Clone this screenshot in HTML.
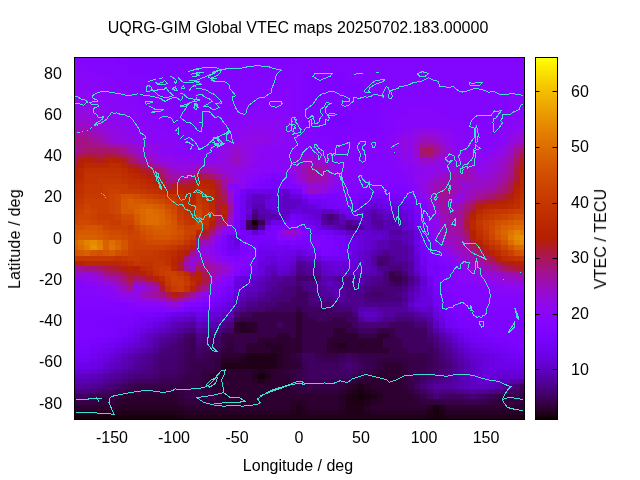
<!DOCTYPE html>
<html><head><meta charset="utf-8"><style>
html,body{margin:0;padding:0;background:#fff;}
body{width:640px;height:480px;position:relative;overflow:hidden;-webkit-font-smoothing:antialiased;font-family:"Liberation Sans",Arial,sans-serif;font-size:16px;color:#000;}
.t{position:absolute;white-space:nowrap;line-height:1;will-change:transform;}
svg{position:absolute;left:0;top:0;}
</style></head><body>
<svg width="640" height="480" viewBox="0 0 640 480" shape-rendering="crispEdges">
<g><rect x="75.00" y="58.00" width="40.19" height="2.36" fill="#8205fe"/>
<rect x="115.19" y="58.00" width="6.23" height="2.36" fill="#8004ff"/>
<rect x="121.42" y="58.00" width="168.18" height="2.36" fill="#7e04ff"/>
<rect x="289.60" y="58.00" width="6.23" height="2.36" fill="#8004ff"/>
<rect x="295.83" y="58.00" width="228.17" height="2.36" fill="#8205fe"/>
<rect x="75.00" y="60.36" width="15.27" height="5.14" fill="#8405fd"/>
<rect x="90.27" y="60.36" width="6.23" height="5.14" fill="#8305fe"/>
<rect x="96.50" y="60.36" width="18.69" height="5.14" fill="#8205fe"/>
<rect x="115.19" y="60.36" width="6.23" height="5.14" fill="#8104ff"/>
<rect x="121.42" y="60.36" width="6.23" height="5.14" fill="#8004ff"/>
<rect x="127.65" y="60.36" width="6.23" height="5.14" fill="#7f04ff"/>
<rect x="133.88" y="60.36" width="80.98" height="5.14" fill="#7e04ff"/>
<rect x="214.85" y="60.36" width="6.23" height="5.14" fill="#7f04ff"/>
<rect x="221.08" y="60.36" width="68.52" height="5.14" fill="#8004ff"/>
<rect x="289.60" y="60.36" width="6.23" height="5.14" fill="#8104ff"/>
<rect x="295.83" y="60.36" width="228.17" height="5.14" fill="#8205fe"/>
<rect x="75.00" y="65.49" width="15.27" height="5.14" fill="#8605fb"/>
<rect x="90.27" y="65.49" width="6.23" height="5.14" fill="#8405fd"/>
<rect x="96.50" y="65.49" width="31.14" height="5.14" fill="#8205fe"/>
<rect x="127.65" y="65.49" width="6.23" height="5.14" fill="#8004ff"/>
<rect x="133.88" y="65.49" width="80.98" height="5.14" fill="#7e04ff"/>
<rect x="214.85" y="65.49" width="6.23" height="5.14" fill="#8004ff"/>
<rect x="221.08" y="65.49" width="302.92" height="5.14" fill="#8205fe"/>
<rect x="75.00" y="70.63" width="15.27" height="5.14" fill="#8806f9"/>
<rect x="90.27" y="70.63" width="6.23" height="5.14" fill="#8605fb"/>
<rect x="96.50" y="70.63" width="18.69" height="5.14" fill="#8405fd"/>
<rect x="115.19" y="70.63" width="6.23" height="5.14" fill="#8305fe"/>
<rect x="121.42" y="70.63" width="6.23" height="5.14" fill="#8205fe"/>
<rect x="127.65" y="70.63" width="6.23" height="5.14" fill="#8104ff"/>
<rect x="133.88" y="70.63" width="18.69" height="5.14" fill="#8004ff"/>
<rect x="152.56" y="70.63" width="6.23" height="5.14" fill="#7f04ff"/>
<rect x="158.79" y="70.63" width="43.60" height="5.14" fill="#7e04ff"/>
<rect x="202.39" y="70.63" width="6.23" height="5.14" fill="#7f04ff"/>
<rect x="208.62" y="70.63" width="6.23" height="5.14" fill="#8004ff"/>
<rect x="214.85" y="70.63" width="6.23" height="5.14" fill="#8104ff"/>
<rect x="221.08" y="70.63" width="80.98" height="5.14" fill="#8205fe"/>
<rect x="302.06" y="70.63" width="6.23" height="5.14" fill="#8104ff"/>
<rect x="308.29" y="70.63" width="31.14" height="5.14" fill="#8004ff"/>
<rect x="339.43" y="70.63" width="6.23" height="5.14" fill="#8104ff"/>
<rect x="345.66" y="70.63" width="178.34" height="5.14" fill="#8205fe"/>
<rect x="75.00" y="75.77" width="15.27" height="5.14" fill="#8a06f6"/>
<rect x="90.27" y="75.77" width="6.23" height="5.14" fill="#8806f9"/>
<rect x="96.50" y="75.77" width="18.69" height="5.14" fill="#8605fb"/>
<rect x="115.19" y="75.77" width="6.23" height="5.14" fill="#8405fd"/>
<rect x="121.42" y="75.77" width="31.14" height="5.14" fill="#8205fe"/>
<rect x="152.56" y="75.77" width="6.23" height="5.14" fill="#8004ff"/>
<rect x="158.79" y="75.77" width="43.60" height="5.14" fill="#7e04ff"/>
<rect x="202.39" y="75.77" width="6.23" height="5.14" fill="#8004ff"/>
<rect x="208.62" y="75.77" width="93.44" height="5.14" fill="#8205fe"/>
<rect x="302.06" y="75.77" width="6.23" height="5.14" fill="#8004ff"/>
<rect x="308.29" y="75.77" width="31.14" height="5.14" fill="#7e04ff"/>
<rect x="339.43" y="75.77" width="6.23" height="5.14" fill="#8004ff"/>
<rect x="345.66" y="75.77" width="178.34" height="5.14" fill="#8205fe"/>
<rect x="75.00" y="80.91" width="15.27" height="5.14" fill="#8a06f6"/>
<rect x="90.27" y="80.91" width="6.23" height="5.14" fill="#8906f8"/>
<rect x="96.50" y="80.91" width="6.23" height="5.14" fill="#8806f9"/>
<rect x="102.73" y="80.91" width="6.23" height="5.14" fill="#8706fa"/>
<rect x="108.96" y="80.91" width="6.23" height="5.14" fill="#8605fb"/>
<rect x="115.19" y="80.91" width="6.23" height="5.14" fill="#8505fc"/>
<rect x="121.42" y="80.91" width="6.23" height="5.14" fill="#8405fd"/>
<rect x="127.65" y="80.91" width="6.23" height="5.14" fill="#8305fe"/>
<rect x="133.88" y="80.91" width="18.69" height="5.14" fill="#8205fe"/>
<rect x="152.56" y="80.91" width="6.23" height="5.14" fill="#8104ff"/>
<rect x="158.79" y="80.91" width="18.69" height="5.14" fill="#8004ff"/>
<rect x="177.48" y="80.91" width="6.23" height="5.14" fill="#7f04ff"/>
<rect x="183.71" y="80.91" width="6.23" height="5.14" fill="#7e04ff"/>
<rect x="189.94" y="80.91" width="6.23" height="5.14" fill="#7f04ff"/>
<rect x="196.17" y="80.91" width="6.23" height="5.14" fill="#8004ff"/>
<rect x="202.39" y="80.91" width="6.23" height="5.14" fill="#8104ff"/>
<rect x="208.62" y="80.91" width="68.52" height="5.14" fill="#8205fe"/>
<rect x="277.14" y="80.91" width="6.23" height="5.14" fill="#8305fe"/>
<rect x="283.37" y="80.91" width="6.23" height="5.14" fill="#8405fd"/>
<rect x="289.60" y="80.91" width="6.23" height="5.14" fill="#8305fe"/>
<rect x="295.83" y="80.91" width="6.23" height="5.14" fill="#8205fe"/>
<rect x="302.06" y="80.91" width="6.23" height="5.14" fill="#8004ff"/>
<rect x="308.29" y="80.91" width="31.14" height="5.14" fill="#7e04ff"/>
<rect x="339.43" y="80.91" width="6.23" height="5.14" fill="#7f04ff"/>
<rect x="345.66" y="80.91" width="18.69" height="5.14" fill="#8004ff"/>
<rect x="364.35" y="80.91" width="6.23" height="5.14" fill="#8104ff"/>
<rect x="370.58" y="80.91" width="153.42" height="5.14" fill="#8205fe"/>
<rect x="75.00" y="86.04" width="27.73" height="5.14" fill="#8a06f6"/>
<rect x="102.73" y="86.04" width="6.23" height="5.14" fill="#8806f9"/>
<rect x="108.96" y="86.04" width="18.69" height="5.14" fill="#8605fb"/>
<rect x="127.65" y="86.04" width="6.23" height="5.14" fill="#8405fd"/>
<rect x="133.88" y="86.04" width="43.60" height="5.14" fill="#8205fe"/>
<rect x="177.48" y="86.04" width="6.23" height="5.14" fill="#8004ff"/>
<rect x="183.71" y="86.04" width="6.23" height="5.14" fill="#7e04ff"/>
<rect x="189.94" y="86.04" width="6.23" height="5.14" fill="#8004ff"/>
<rect x="196.17" y="86.04" width="80.98" height="5.14" fill="#8205fe"/>
<rect x="277.14" y="86.04" width="6.23" height="5.14" fill="#8405fd"/>
<rect x="283.37" y="86.04" width="6.23" height="5.14" fill="#8605fb"/>
<rect x="289.60" y="86.04" width="6.23" height="5.14" fill="#8405fd"/>
<rect x="295.83" y="86.04" width="6.23" height="5.14" fill="#8205fe"/>
<rect x="302.06" y="86.04" width="6.23" height="5.14" fill="#8004ff"/>
<rect x="308.29" y="86.04" width="56.06" height="5.14" fill="#7e04ff"/>
<rect x="364.35" y="86.04" width="6.23" height="5.14" fill="#8004ff"/>
<rect x="370.58" y="86.04" width="153.42" height="5.14" fill="#8205fe"/>
<rect x="75.00" y="91.18" width="15.27" height="5.14" fill="#8c07f3"/>
<rect x="90.27" y="91.18" width="6.23" height="5.14" fill="#8b07f5"/>
<rect x="96.50" y="91.18" width="6.23" height="5.14" fill="#8a06f6"/>
<rect x="102.73" y="91.18" width="6.23" height="5.14" fill="#8906f8"/>
<rect x="108.96" y="91.18" width="6.23" height="5.14" fill="#8806f9"/>
<rect x="115.19" y="91.18" width="6.23" height="5.14" fill="#8706fa"/>
<rect x="121.42" y="91.18" width="6.23" height="5.14" fill="#8605fb"/>
<rect x="127.65" y="91.18" width="6.23" height="5.14" fill="#8505fc"/>
<rect x="133.88" y="91.18" width="6.23" height="5.14" fill="#8405fd"/>
<rect x="140.10" y="91.18" width="6.23" height="5.14" fill="#8305fe"/>
<rect x="146.33" y="91.18" width="31.14" height="5.14" fill="#8205fe"/>
<rect x="177.48" y="91.18" width="6.23" height="5.14" fill="#8004ff"/>
<rect x="183.71" y="91.18" width="6.23" height="5.14" fill="#7e04ff"/>
<rect x="189.94" y="91.18" width="6.23" height="5.14" fill="#8004ff"/>
<rect x="196.17" y="91.18" width="56.06" height="5.14" fill="#8205fe"/>
<rect x="252.23" y="91.18" width="6.23" height="5.14" fill="#8305fe"/>
<rect x="258.46" y="91.18" width="18.69" height="5.14" fill="#8405fd"/>
<rect x="277.14" y="91.18" width="6.23" height="5.14" fill="#8505fc"/>
<rect x="283.37" y="91.18" width="6.23" height="5.14" fill="#8605fb"/>
<rect x="289.60" y="91.18" width="6.23" height="5.14" fill="#8405fd"/>
<rect x="295.83" y="91.18" width="6.23" height="5.14" fill="#8205fe"/>
<rect x="302.06" y="91.18" width="6.23" height="5.14" fill="#8004ff"/>
<rect x="308.29" y="91.18" width="56.06" height="5.14" fill="#7e04ff"/>
<rect x="364.35" y="91.18" width="6.23" height="5.14" fill="#7f04ff"/>
<rect x="370.58" y="91.18" width="6.23" height="5.14" fill="#8004ff"/>
<rect x="376.81" y="91.18" width="6.23" height="5.14" fill="#8104ff"/>
<rect x="383.04" y="91.18" width="118.35" height="5.14" fill="#8205fe"/>
<rect x="501.39" y="91.18" width="6.23" height="5.14" fill="#8305fe"/>
<rect x="507.62" y="91.18" width="16.38" height="5.14" fill="#8405fd"/>
<rect x="75.00" y="96.32" width="15.27" height="5.14" fill="#8d07ef"/>
<rect x="90.27" y="96.32" width="6.23" height="5.14" fill="#8c07f3"/>
<rect x="96.50" y="96.32" width="18.69" height="5.14" fill="#8a06f6"/>
<rect x="115.19" y="96.32" width="6.23" height="5.14" fill="#8806f9"/>
<rect x="121.42" y="96.32" width="18.69" height="5.14" fill="#8605fb"/>
<rect x="140.10" y="96.32" width="6.23" height="5.14" fill="#8405fd"/>
<rect x="146.33" y="96.32" width="31.14" height="5.14" fill="#8205fe"/>
<rect x="177.48" y="96.32" width="6.23" height="5.14" fill="#8004ff"/>
<rect x="183.71" y="96.32" width="6.23" height="5.14" fill="#7e04ff"/>
<rect x="189.94" y="96.32" width="6.23" height="5.14" fill="#8004ff"/>
<rect x="196.17" y="96.32" width="56.06" height="5.14" fill="#8205fe"/>
<rect x="252.23" y="96.32" width="6.23" height="5.14" fill="#8405fd"/>
<rect x="258.46" y="96.32" width="31.14" height="5.14" fill="#8605fb"/>
<rect x="289.60" y="96.32" width="6.23" height="5.14" fill="#8405fd"/>
<rect x="295.83" y="96.32" width="6.23" height="5.14" fill="#8205fe"/>
<rect x="302.06" y="96.32" width="6.23" height="5.14" fill="#8004ff"/>
<rect x="308.29" y="96.32" width="68.52" height="5.14" fill="#7e04ff"/>
<rect x="376.81" y="96.32" width="6.23" height="5.14" fill="#8004ff"/>
<rect x="383.04" y="96.32" width="118.35" height="5.14" fill="#8205fe"/>
<rect x="501.39" y="96.32" width="6.23" height="5.14" fill="#8405fd"/>
<rect x="507.62" y="96.32" width="16.38" height="5.14" fill="#8605fb"/>
<rect x="75.00" y="101.46" width="15.27" height="5.14" fill="#8f08ea"/>
<rect x="90.27" y="101.46" width="6.23" height="5.14" fill="#8d07ef"/>
<rect x="96.50" y="101.46" width="6.23" height="5.14" fill="#8c07f3"/>
<rect x="102.73" y="101.46" width="6.23" height="5.14" fill="#8b07f5"/>
<rect x="108.96" y="101.46" width="6.23" height="5.14" fill="#8a06f6"/>
<rect x="115.19" y="101.46" width="6.23" height="5.14" fill="#8906f8"/>
<rect x="121.42" y="101.46" width="6.23" height="5.14" fill="#8806f9"/>
<rect x="127.65" y="101.46" width="6.23" height="5.14" fill="#8706fa"/>
<rect x="133.88" y="101.46" width="6.23" height="5.14" fill="#8605fb"/>
<rect x="140.10" y="101.46" width="6.23" height="5.14" fill="#8505fc"/>
<rect x="146.33" y="101.46" width="6.23" height="5.14" fill="#8405fd"/>
<rect x="152.56" y="101.46" width="6.23" height="5.14" fill="#8305fe"/>
<rect x="158.79" y="101.46" width="18.69" height="5.14" fill="#8205fe"/>
<rect x="177.48" y="101.46" width="6.23" height="5.14" fill="#8104ff"/>
<rect x="183.71" y="101.46" width="6.23" height="5.14" fill="#8004ff"/>
<rect x="189.94" y="101.46" width="6.23" height="5.14" fill="#8104ff"/>
<rect x="196.17" y="101.46" width="31.14" height="5.14" fill="#8205fe"/>
<rect x="227.31" y="101.46" width="6.23" height="5.14" fill="#8305fe"/>
<rect x="233.54" y="101.46" width="18.69" height="5.14" fill="#8405fd"/>
<rect x="252.23" y="101.46" width="6.23" height="5.14" fill="#8505fc"/>
<rect x="258.46" y="101.46" width="31.14" height="5.14" fill="#8605fb"/>
<rect x="289.60" y="101.46" width="6.23" height="5.14" fill="#8405fd"/>
<rect x="295.83" y="101.46" width="6.23" height="5.14" fill="#8205fe"/>
<rect x="302.06" y="101.46" width="6.23" height="5.14" fill="#8004ff"/>
<rect x="308.29" y="101.46" width="68.52" height="5.14" fill="#7e04ff"/>
<rect x="376.81" y="101.46" width="6.23" height="5.14" fill="#8004ff"/>
<rect x="383.04" y="101.46" width="18.69" height="5.14" fill="#8205fe"/>
<rect x="401.72" y="101.46" width="6.23" height="5.14" fill="#8305fe"/>
<rect x="407.95" y="101.46" width="31.14" height="5.14" fill="#8405fd"/>
<rect x="439.10" y="101.46" width="6.23" height="5.14" fill="#8305fe"/>
<rect x="445.33" y="101.46" width="56.06" height="5.14" fill="#8205fe"/>
<rect x="501.39" y="101.46" width="6.23" height="5.14" fill="#8405fd"/>
<rect x="507.62" y="101.46" width="16.38" height="5.14" fill="#8605fb"/>
<rect x="75.00" y="106.59" width="15.27" height="5.14" fill="#9109e5"/>
<rect x="90.27" y="106.59" width="6.23" height="5.14" fill="#8f08ea"/>
<rect x="96.50" y="106.59" width="6.23" height="5.14" fill="#8d07ef"/>
<rect x="102.73" y="106.59" width="6.23" height="5.14" fill="#8c07f3"/>
<rect x="108.96" y="106.59" width="18.69" height="5.14" fill="#8a06f6"/>
<rect x="127.65" y="106.59" width="6.23" height="5.14" fill="#8806f9"/>
<rect x="133.88" y="106.59" width="18.69" height="5.14" fill="#8605fb"/>
<rect x="152.56" y="106.59" width="6.23" height="5.14" fill="#8405fd"/>
<rect x="158.79" y="106.59" width="68.52" height="5.14" fill="#8205fe"/>
<rect x="227.31" y="106.59" width="6.23" height="5.14" fill="#8405fd"/>
<rect x="233.54" y="106.59" width="56.06" height="5.14" fill="#8605fb"/>
<rect x="289.60" y="106.59" width="6.23" height="5.14" fill="#8405fd"/>
<rect x="295.83" y="106.59" width="6.23" height="5.14" fill="#8205fe"/>
<rect x="302.06" y="106.59" width="6.23" height="5.14" fill="#8004ff"/>
<rect x="308.29" y="106.59" width="68.52" height="5.14" fill="#7e04ff"/>
<rect x="376.81" y="106.59" width="6.23" height="5.14" fill="#8004ff"/>
<rect x="383.04" y="106.59" width="18.69" height="5.14" fill="#8205fe"/>
<rect x="401.72" y="106.59" width="6.23" height="5.14" fill="#8405fd"/>
<rect x="407.95" y="106.59" width="31.14" height="5.14" fill="#8605fb"/>
<rect x="439.10" y="106.59" width="6.23" height="5.14" fill="#8405fd"/>
<rect x="445.33" y="106.59" width="56.06" height="5.14" fill="#8205fe"/>
<rect x="501.39" y="106.59" width="6.23" height="5.14" fill="#8405fd"/>
<rect x="507.62" y="106.59" width="16.38" height="5.14" fill="#8605fb"/>
<rect x="75.00" y="111.73" width="15.27" height="5.14" fill="#9309df"/>
<rect x="90.27" y="111.73" width="6.23" height="5.14" fill="#9109e5"/>
<rect x="96.50" y="111.73" width="6.23" height="5.14" fill="#8f08ea"/>
<rect x="102.73" y="111.73" width="6.23" height="5.14" fill="#8d07ef"/>
<rect x="108.96" y="111.73" width="6.23" height="5.14" fill="#8c07f3"/>
<rect x="115.19" y="111.73" width="6.23" height="5.14" fill="#8b07f5"/>
<rect x="121.42" y="111.73" width="6.23" height="5.14" fill="#8a06f6"/>
<rect x="127.65" y="111.73" width="6.23" height="5.14" fill="#8906f8"/>
<rect x="133.88" y="111.73" width="6.23" height="5.14" fill="#8806f9"/>
<rect x="140.10" y="111.73" width="6.23" height="5.14" fill="#8706fa"/>
<rect x="146.33" y="111.73" width="6.23" height="5.14" fill="#8605fb"/>
<rect x="152.56" y="111.73" width="6.23" height="5.14" fill="#8505fc"/>
<rect x="158.79" y="111.73" width="6.23" height="5.14" fill="#8405fd"/>
<rect x="165.02" y="111.73" width="6.23" height="5.14" fill="#8305fe"/>
<rect x="171.25" y="111.73" width="43.60" height="5.14" fill="#8205fe"/>
<rect x="214.85" y="111.73" width="6.23" height="5.14" fill="#8305fe"/>
<rect x="221.08" y="111.73" width="6.23" height="5.14" fill="#8405fd"/>
<rect x="227.31" y="111.73" width="6.23" height="5.14" fill="#8505fc"/>
<rect x="233.54" y="111.73" width="6.23" height="5.14" fill="#8605fb"/>
<rect x="239.77" y="111.73" width="6.23" height="5.14" fill="#8706fa"/>
<rect x="246.00" y="111.73" width="43.60" height="5.14" fill="#8806f9"/>
<rect x="289.60" y="111.73" width="6.23" height="5.14" fill="#8505fc"/>
<rect x="295.83" y="111.73" width="6.23" height="5.14" fill="#8205fe"/>
<rect x="302.06" y="111.73" width="6.23" height="5.14" fill="#8004ff"/>
<rect x="308.29" y="111.73" width="18.69" height="5.14" fill="#7e04ff"/>
<rect x="326.97" y="111.73" width="6.23" height="5.14" fill="#7d04ff"/>
<rect x="333.20" y="111.73" width="18.69" height="5.14" fill="#7c03fe"/>
<rect x="351.89" y="111.73" width="6.23" height="5.14" fill="#7d04ff"/>
<rect x="358.12" y="111.73" width="18.69" height="5.14" fill="#7e04ff"/>
<rect x="376.81" y="111.73" width="6.23" height="5.14" fill="#8004ff"/>
<rect x="383.04" y="111.73" width="6.23" height="5.14" fill="#8205fe"/>
<rect x="389.26" y="111.73" width="6.23" height="5.14" fill="#8305fe"/>
<rect x="395.49" y="111.73" width="6.23" height="5.14" fill="#8405fd"/>
<rect x="401.72" y="111.73" width="6.23" height="5.14" fill="#8505fc"/>
<rect x="407.95" y="111.73" width="31.14" height="5.14" fill="#8605fb"/>
<rect x="439.10" y="111.73" width="6.23" height="5.14" fill="#8505fc"/>
<rect x="445.33" y="111.73" width="6.23" height="5.14" fill="#8405fd"/>
<rect x="451.55" y="111.73" width="6.23" height="5.14" fill="#8305fe"/>
<rect x="457.78" y="111.73" width="31.14" height="5.14" fill="#8205fe"/>
<rect x="488.93" y="111.73" width="6.23" height="5.14" fill="#8305fe"/>
<rect x="495.16" y="111.73" width="6.23" height="5.14" fill="#8405fd"/>
<rect x="501.39" y="111.73" width="6.23" height="5.14" fill="#8505fc"/>
<rect x="507.62" y="111.73" width="16.38" height="5.14" fill="#8605fb"/>
<rect x="75.00" y="116.87" width="15.27" height="5.14" fill="#940ad9"/>
<rect x="90.27" y="116.87" width="6.23" height="5.14" fill="#9309df"/>
<rect x="96.50" y="116.87" width="6.23" height="5.14" fill="#9109e5"/>
<rect x="102.73" y="116.87" width="6.23" height="5.14" fill="#8f08ea"/>
<rect x="108.96" y="116.87" width="6.23" height="5.14" fill="#8d07ef"/>
<rect x="115.19" y="116.87" width="6.23" height="5.14" fill="#8c07f3"/>
<rect x="121.42" y="116.87" width="18.69" height="5.14" fill="#8a06f6"/>
<rect x="140.10" y="116.87" width="6.23" height="5.14" fill="#8806f9"/>
<rect x="146.33" y="116.87" width="18.69" height="5.14" fill="#8605fb"/>
<rect x="165.02" y="116.87" width="6.23" height="5.14" fill="#8405fd"/>
<rect x="171.25" y="116.87" width="43.60" height="5.14" fill="#8205fe"/>
<rect x="214.85" y="116.87" width="6.23" height="5.14" fill="#8405fd"/>
<rect x="221.08" y="116.87" width="18.69" height="5.14" fill="#8605fb"/>
<rect x="239.77" y="116.87" width="6.23" height="5.14" fill="#8806f9"/>
<rect x="246.00" y="116.87" width="43.60" height="5.14" fill="#8a06f6"/>
<rect x="289.60" y="116.87" width="6.23" height="5.14" fill="#8605fb"/>
<rect x="295.83" y="116.87" width="6.23" height="5.14" fill="#8205fe"/>
<rect x="302.06" y="116.87" width="6.23" height="5.14" fill="#8004ff"/>
<rect x="308.29" y="116.87" width="18.69" height="5.14" fill="#7e04ff"/>
<rect x="326.97" y="116.87" width="6.23" height="5.14" fill="#7c03fe"/>
<rect x="333.20" y="116.87" width="18.69" height="5.14" fill="#7a03fd"/>
<rect x="351.89" y="116.87" width="6.23" height="5.14" fill="#7c03fe"/>
<rect x="358.12" y="116.87" width="18.69" height="5.14" fill="#7e04ff"/>
<rect x="376.81" y="116.87" width="6.23" height="5.14" fill="#8004ff"/>
<rect x="383.04" y="116.87" width="6.23" height="5.14" fill="#8205fe"/>
<rect x="389.26" y="116.87" width="6.23" height="5.14" fill="#8405fd"/>
<rect x="395.49" y="116.87" width="56.06" height="5.14" fill="#8605fb"/>
<rect x="451.55" y="116.87" width="6.23" height="5.14" fill="#8405fd"/>
<rect x="457.78" y="116.87" width="31.14" height="5.14" fill="#8205fe"/>
<rect x="488.93" y="116.87" width="6.23" height="5.14" fill="#8405fd"/>
<rect x="495.16" y="116.87" width="28.84" height="5.14" fill="#8605fb"/>
<rect x="75.00" y="122.01" width="15.27" height="5.14" fill="#980bcb"/>
<rect x="90.27" y="122.01" width="6.23" height="5.14" fill="#950ad6"/>
<rect x="96.50" y="122.01" width="6.23" height="5.14" fill="#9309df"/>
<rect x="102.73" y="122.01" width="6.23" height="5.14" fill="#9109e5"/>
<rect x="108.96" y="122.01" width="6.23" height="5.14" fill="#8f08ea"/>
<rect x="115.19" y="122.01" width="6.23" height="5.14" fill="#8d07ef"/>
<rect x="121.42" y="122.01" width="6.23" height="5.14" fill="#8c07f3"/>
<rect x="127.65" y="122.01" width="6.23" height="5.14" fill="#8b07f5"/>
<rect x="133.88" y="122.01" width="6.23" height="5.14" fill="#8a06f6"/>
<rect x="140.10" y="122.01" width="6.23" height="5.14" fill="#8906f8"/>
<rect x="146.33" y="122.01" width="6.23" height="5.14" fill="#8806f9"/>
<rect x="152.56" y="122.01" width="6.23" height="5.14" fill="#8706fa"/>
<rect x="158.79" y="122.01" width="6.23" height="5.14" fill="#8605fb"/>
<rect x="165.02" y="122.01" width="6.23" height="5.14" fill="#8505fc"/>
<rect x="171.25" y="122.01" width="6.23" height="5.14" fill="#8405fd"/>
<rect x="177.48" y="122.01" width="6.23" height="5.14" fill="#8305fe"/>
<rect x="183.71" y="122.01" width="31.15" height="5.14" fill="#8205fe"/>
<rect x="214.85" y="122.01" width="6.23" height="5.14" fill="#8405fd"/>
<rect x="221.08" y="122.01" width="6.23" height="5.14" fill="#8605fb"/>
<rect x="227.31" y="122.01" width="6.23" height="5.14" fill="#8706fa"/>
<rect x="233.54" y="122.01" width="6.23" height="5.14" fill="#8806f9"/>
<rect x="239.77" y="122.01" width="6.23" height="5.14" fill="#8a06f6"/>
<rect x="246.00" y="122.01" width="31.14" height="5.14" fill="#8c07f3"/>
<rect x="277.14" y="122.01" width="6.23" height="5.14" fill="#8b07f5"/>
<rect x="283.37" y="122.01" width="6.23" height="5.14" fill="#8a06f6"/>
<rect x="289.60" y="122.01" width="6.23" height="5.14" fill="#8605fb"/>
<rect x="295.83" y="122.01" width="6.23" height="5.14" fill="#8205fe"/>
<rect x="302.06" y="122.01" width="6.23" height="5.14" fill="#8104ff"/>
<rect x="308.29" y="122.01" width="6.23" height="5.14" fill="#8004ff"/>
<rect x="314.52" y="122.01" width="6.23" height="5.14" fill="#7f04ff"/>
<rect x="320.75" y="122.01" width="6.23" height="5.14" fill="#7e04ff"/>
<rect x="326.97" y="122.01" width="6.23" height="5.14" fill="#7d04ff"/>
<rect x="333.20" y="122.01" width="18.69" height="5.14" fill="#7c03fe"/>
<rect x="351.89" y="122.01" width="6.23" height="5.14" fill="#7d04ff"/>
<rect x="358.12" y="122.01" width="18.69" height="5.14" fill="#7e04ff"/>
<rect x="376.81" y="122.01" width="6.23" height="5.14" fill="#8004ff"/>
<rect x="383.04" y="122.01" width="6.23" height="5.14" fill="#8205fe"/>
<rect x="389.26" y="122.01" width="6.23" height="5.14" fill="#8405fd"/>
<rect x="395.49" y="122.01" width="6.23" height="5.14" fill="#8605fb"/>
<rect x="401.72" y="122.01" width="6.23" height="5.14" fill="#8706fa"/>
<rect x="407.95" y="122.01" width="56.06" height="5.14" fill="#8605fb"/>
<rect x="464.01" y="122.01" width="12.46" height="5.14" fill="#8205fe"/>
<rect x="476.47" y="122.01" width="12.46" height="5.14" fill="#8405fd"/>
<rect x="488.93" y="122.01" width="6.23" height="5.14" fill="#8505fc"/>
<rect x="495.16" y="122.01" width="6.23" height="5.14" fill="#8605fb"/>
<rect x="501.39" y="122.01" width="6.23" height="5.14" fill="#8706fa"/>
<rect x="507.62" y="122.01" width="6.23" height="5.14" fill="#8806f9"/>
<rect x="513.84" y="122.01" width="6.23" height="5.14" fill="#8906f8"/>
<rect x="520.07" y="122.01" width="3.93" height="5.14" fill="#8a06f6"/>
<rect x="75.00" y="127.14" width="15.27" height="5.14" fill="#9b0dbb"/>
<rect x="90.27" y="127.14" width="6.23" height="5.14" fill="#980bcb"/>
<rect x="96.50" y="127.14" width="6.23" height="5.14" fill="#940ad9"/>
<rect x="102.73" y="127.14" width="6.23" height="5.14" fill="#9309df"/>
<rect x="108.96" y="127.14" width="6.23" height="5.14" fill="#9109e5"/>
<rect x="115.19" y="127.14" width="6.23" height="5.14" fill="#8f08ea"/>
<rect x="121.42" y="127.14" width="6.23" height="5.14" fill="#8d07ef"/>
<rect x="127.65" y="127.14" width="6.23" height="5.14" fill="#8c07f3"/>
<rect x="133.88" y="127.14" width="18.69" height="5.14" fill="#8a06f6"/>
<rect x="152.56" y="127.14" width="6.23" height="5.14" fill="#8806f9"/>
<rect x="158.79" y="127.14" width="18.69" height="5.14" fill="#8605fb"/>
<rect x="177.48" y="127.14" width="6.23" height="5.14" fill="#8405fd"/>
<rect x="183.71" y="127.14" width="31.15" height="5.14" fill="#8205fe"/>
<rect x="214.85" y="127.14" width="6.23" height="5.14" fill="#8405fd"/>
<rect x="221.08" y="127.14" width="6.23" height="5.14" fill="#8605fb"/>
<rect x="227.31" y="127.14" width="6.23" height="5.14" fill="#8806f9"/>
<rect x="233.54" y="127.14" width="6.23" height="5.14" fill="#8a06f6"/>
<rect x="239.77" y="127.14" width="6.23" height="5.14" fill="#8c07f3"/>
<rect x="246.00" y="127.14" width="31.14" height="5.14" fill="#8d07ef"/>
<rect x="277.14" y="127.14" width="6.23" height="5.14" fill="#8c07f3"/>
<rect x="283.37" y="127.14" width="6.23" height="5.14" fill="#8a06f6"/>
<rect x="289.60" y="127.14" width="6.23" height="5.14" fill="#8605fb"/>
<rect x="295.83" y="127.14" width="18.69" height="5.14" fill="#8205fe"/>
<rect x="314.52" y="127.14" width="6.23" height="5.14" fill="#8004ff"/>
<rect x="320.75" y="127.14" width="56.06" height="5.14" fill="#7e04ff"/>
<rect x="376.81" y="127.14" width="6.23" height="5.14" fill="#8004ff"/>
<rect x="383.04" y="127.14" width="6.23" height="5.14" fill="#8205fe"/>
<rect x="389.26" y="127.14" width="6.23" height="5.14" fill="#8405fd"/>
<rect x="395.49" y="127.14" width="6.23" height="5.14" fill="#8605fb"/>
<rect x="401.72" y="127.14" width="6.23" height="5.14" fill="#8806f9"/>
<rect x="407.95" y="127.14" width="6.23" height="5.14" fill="#8a06f6"/>
<rect x="414.18" y="127.14" width="24.92" height="5.14" fill="#8d07ef"/>
<rect x="439.10" y="127.14" width="12.46" height="5.14" fill="#8a06f6"/>
<rect x="451.55" y="127.14" width="49.83" height="5.14" fill="#8605fb"/>
<rect x="501.39" y="127.14" width="6.23" height="5.14" fill="#8806f9"/>
<rect x="507.62" y="127.14" width="6.23" height="5.14" fill="#8a06f6"/>
<rect x="513.84" y="127.14" width="6.23" height="5.14" fill="#8c07f3"/>
<rect x="520.07" y="127.14" width="3.93" height="5.14" fill="#8d07ef"/>
<rect x="75.00" y="132.28" width="15.27" height="5.14" fill="#a00fa0"/>
<rect x="90.27" y="132.28" width="6.23" height="5.14" fill="#9c0eb3"/>
<rect x="96.50" y="132.28" width="6.23" height="5.14" fill="#990cc3"/>
<rect x="102.73" y="132.28" width="6.23" height="5.14" fill="#960bd2"/>
<rect x="108.96" y="132.28" width="6.23" height="5.14" fill="#9309df"/>
<rect x="115.19" y="132.28" width="6.23" height="5.14" fill="#9109e5"/>
<rect x="121.42" y="132.28" width="6.23" height="5.14" fill="#8f08ea"/>
<rect x="127.65" y="132.28" width="6.23" height="5.14" fill="#8d07ef"/>
<rect x="133.88" y="132.28" width="6.23" height="5.14" fill="#8c07f3"/>
<rect x="140.10" y="132.28" width="6.23" height="5.14" fill="#8b07f5"/>
<rect x="146.33" y="132.28" width="6.23" height="5.14" fill="#8a06f6"/>
<rect x="152.56" y="132.28" width="6.23" height="5.14" fill="#8906f8"/>
<rect x="158.79" y="132.28" width="18.69" height="5.14" fill="#8806f9"/>
<rect x="177.48" y="132.28" width="6.23" height="5.14" fill="#8505fc"/>
<rect x="183.71" y="132.28" width="18.69" height="5.14" fill="#8205fe"/>
<rect x="202.39" y="132.28" width="6.23" height="5.14" fill="#8305fe"/>
<rect x="208.62" y="132.28" width="6.23" height="5.14" fill="#8405fd"/>
<rect x="214.85" y="132.28" width="6.23" height="5.14" fill="#8605fb"/>
<rect x="221.08" y="132.28" width="6.23" height="5.14" fill="#8806f9"/>
<rect x="227.31" y="132.28" width="6.23" height="5.14" fill="#8a06f6"/>
<rect x="233.54" y="132.28" width="6.23" height="5.14" fill="#8c07f3"/>
<rect x="239.77" y="132.28" width="6.23" height="5.14" fill="#8d07ef"/>
<rect x="246.00" y="132.28" width="18.69" height="5.14" fill="#8f08ea"/>
<rect x="264.68" y="132.28" width="6.23" height="5.14" fill="#8e08ec"/>
<rect x="270.91" y="132.28" width="6.23" height="5.14" fill="#8d07ef"/>
<rect x="277.14" y="132.28" width="6.23" height="5.14" fill="#8c07f3"/>
<rect x="283.37" y="132.28" width="6.23" height="5.14" fill="#8a06f6"/>
<rect x="289.60" y="132.28" width="6.23" height="5.14" fill="#8706fa"/>
<rect x="295.83" y="132.28" width="6.23" height="5.14" fill="#8405fd"/>
<rect x="302.06" y="132.28" width="6.23" height="5.14" fill="#8305fe"/>
<rect x="308.29" y="132.28" width="6.23" height="5.14" fill="#8205fe"/>
<rect x="314.52" y="132.28" width="6.23" height="5.14" fill="#8104ff"/>
<rect x="320.75" y="132.28" width="6.23" height="5.14" fill="#8004ff"/>
<rect x="326.97" y="132.28" width="6.23" height="5.14" fill="#7f04ff"/>
<rect x="333.20" y="132.28" width="6.23" height="5.14" fill="#7e04ff"/>
<rect x="339.43" y="132.28" width="6.23" height="5.14" fill="#7f04ff"/>
<rect x="345.66" y="132.28" width="31.14" height="5.14" fill="#8004ff"/>
<rect x="376.81" y="132.28" width="6.23" height="5.14" fill="#8205fe"/>
<rect x="383.04" y="132.28" width="6.23" height="5.14" fill="#8405fd"/>
<rect x="389.26" y="132.28" width="6.23" height="5.14" fill="#8706fa"/>
<rect x="395.49" y="132.28" width="6.23" height="5.14" fill="#8a06f6"/>
<rect x="401.72" y="132.28" width="12.46" height="5.14" fill="#8d07ef"/>
<rect x="414.18" y="132.28" width="6.23" height="5.14" fill="#9109e5"/>
<rect x="420.41" y="132.28" width="12.46" height="5.14" fill="#940ad9"/>
<rect x="432.87" y="132.28" width="6.23" height="5.14" fill="#9109e5"/>
<rect x="439.10" y="132.28" width="12.46" height="5.14" fill="#8d07ef"/>
<rect x="451.55" y="132.28" width="6.23" height="5.14" fill="#8a06f6"/>
<rect x="457.78" y="132.28" width="43.60" height="5.14" fill="#8605fb"/>
<rect x="501.39" y="132.28" width="6.23" height="5.14" fill="#8a06f6"/>
<rect x="507.62" y="132.28" width="6.23" height="5.14" fill="#8d07ef"/>
<rect x="513.84" y="132.28" width="6.23" height="5.14" fill="#9109e5"/>
<rect x="520.07" y="132.28" width="3.93" height="5.14" fill="#940ad9"/>
<rect x="75.00" y="137.42" width="15.27" height="5.14" fill="#a41282"/>
<rect x="90.27" y="137.42" width="6.23" height="5.14" fill="#a11097"/>
<rect x="96.50" y="137.42" width="6.23" height="5.14" fill="#9e0eaa"/>
<rect x="102.73" y="137.42" width="6.23" height="5.14" fill="#990cc3"/>
<rect x="108.96" y="137.42" width="6.23" height="5.14" fill="#940ad9"/>
<rect x="115.19" y="137.42" width="6.23" height="5.14" fill="#9309df"/>
<rect x="121.42" y="137.42" width="6.23" height="5.14" fill="#9109e5"/>
<rect x="127.65" y="137.42" width="6.23" height="5.14" fill="#8f08ea"/>
<rect x="133.88" y="137.42" width="6.23" height="5.14" fill="#8d07ef"/>
<rect x="140.10" y="137.42" width="6.23" height="5.14" fill="#8c07f3"/>
<rect x="146.33" y="137.42" width="31.14" height="5.14" fill="#8a06f6"/>
<rect x="177.48" y="137.42" width="6.23" height="5.14" fill="#8605fb"/>
<rect x="183.71" y="137.42" width="18.69" height="5.14" fill="#8205fe"/>
<rect x="202.39" y="137.42" width="6.23" height="5.14" fill="#8405fd"/>
<rect x="208.62" y="137.42" width="6.23" height="5.14" fill="#8605fb"/>
<rect x="214.85" y="137.42" width="6.23" height="5.14" fill="#8806f9"/>
<rect x="221.08" y="137.42" width="6.23" height="5.14" fill="#8a06f6"/>
<rect x="227.31" y="137.42" width="6.23" height="5.14" fill="#8c07f3"/>
<rect x="233.54" y="137.42" width="6.23" height="5.14" fill="#8d07ef"/>
<rect x="239.77" y="137.42" width="6.23" height="5.14" fill="#8f08ea"/>
<rect x="246.00" y="137.42" width="18.69" height="5.14" fill="#9109e5"/>
<rect x="264.68" y="137.42" width="6.23" height="5.14" fill="#8f08ea"/>
<rect x="270.91" y="137.42" width="6.23" height="5.14" fill="#8d07ef"/>
<rect x="277.14" y="137.42" width="6.23" height="5.14" fill="#8c07f3"/>
<rect x="283.37" y="137.42" width="6.23" height="5.14" fill="#8a06f6"/>
<rect x="289.60" y="137.42" width="6.23" height="5.14" fill="#8806f9"/>
<rect x="295.83" y="137.42" width="6.23" height="5.14" fill="#8605fb"/>
<rect x="302.06" y="137.42" width="6.23" height="5.14" fill="#8405fd"/>
<rect x="308.29" y="137.42" width="18.69" height="5.14" fill="#8205fe"/>
<rect x="326.97" y="137.42" width="6.23" height="5.14" fill="#8004ff"/>
<rect x="333.20" y="137.42" width="6.23" height="5.14" fill="#7e04ff"/>
<rect x="339.43" y="137.42" width="6.23" height="5.14" fill="#8004ff"/>
<rect x="345.66" y="137.42" width="31.14" height="5.14" fill="#8205fe"/>
<rect x="376.81" y="137.42" width="6.23" height="5.14" fill="#8405fd"/>
<rect x="383.04" y="137.42" width="6.23" height="5.14" fill="#8605fb"/>
<rect x="389.26" y="137.42" width="6.23" height="5.14" fill="#8a06f6"/>
<rect x="395.49" y="137.42" width="6.23" height="5.14" fill="#8d07ef"/>
<rect x="401.72" y="137.42" width="6.23" height="5.14" fill="#9309df"/>
<rect x="407.95" y="137.42" width="6.23" height="5.14" fill="#8d07ef"/>
<rect x="414.18" y="137.42" width="6.23" height="5.14" fill="#940ad9"/>
<rect x="420.41" y="137.42" width="12.46" height="5.14" fill="#9b0dbb"/>
<rect x="432.87" y="137.42" width="6.23" height="5.14" fill="#980bcb"/>
<rect x="439.10" y="137.42" width="6.23" height="5.14" fill="#940ad9"/>
<rect x="445.33" y="137.42" width="6.23" height="5.14" fill="#8d07ef"/>
<rect x="451.55" y="137.42" width="12.46" height="5.14" fill="#8a06f6"/>
<rect x="464.01" y="137.42" width="37.37" height="5.14" fill="#8605fb"/>
<rect x="501.39" y="137.42" width="6.23" height="5.14" fill="#8a06f6"/>
<rect x="507.62" y="137.42" width="6.23" height="5.14" fill="#9109e5"/>
<rect x="513.84" y="137.42" width="6.23" height="5.14" fill="#940ad9"/>
<rect x="520.07" y="137.42" width="3.93" height="5.14" fill="#980bcb"/>
<rect x="75.00" y="142.56" width="2.81" height="5.14" fill="#a3118d"/>
<rect x="77.81" y="142.56" width="6.23" height="5.14" fill="#a31287"/>
<rect x="84.04" y="142.56" width="6.23" height="5.14" fill="#a41282"/>
<rect x="90.27" y="142.56" width="6.23" height="5.14" fill="#a31287"/>
<rect x="96.50" y="142.56" width="6.23" height="5.14" fill="#a3118d"/>
<rect x="102.73" y="142.56" width="6.23" height="5.14" fill="#a0109c"/>
<rect x="108.96" y="142.56" width="6.23" height="5.14" fill="#9e0eaa"/>
<rect x="115.19" y="142.56" width="6.23" height="5.14" fill="#9c0eb3"/>
<rect x="121.42" y="142.56" width="6.23" height="5.14" fill="#9b0dbb"/>
<rect x="127.65" y="142.56" width="6.23" height="5.14" fill="#980cc7"/>
<rect x="133.88" y="142.56" width="6.23" height="5.14" fill="#960bd2"/>
<rect x="140.10" y="142.56" width="6.23" height="5.14" fill="#930adc"/>
<rect x="146.33" y="142.56" width="6.23" height="5.14" fill="#9109e5"/>
<rect x="152.56" y="142.56" width="6.23" height="5.14" fill="#8f08ea"/>
<rect x="158.79" y="142.56" width="6.23" height="5.14" fill="#8d07ef"/>
<rect x="165.02" y="142.56" width="6.23" height="5.14" fill="#8c07f1"/>
<rect x="171.25" y="142.56" width="6.23" height="5.14" fill="#8c07f3"/>
<rect x="177.48" y="142.56" width="6.23" height="5.14" fill="#8806f9"/>
<rect x="183.71" y="142.56" width="18.69" height="5.14" fill="#8405fd"/>
<rect x="202.39" y="142.56" width="6.23" height="5.14" fill="#8605fb"/>
<rect x="208.62" y="142.56" width="6.23" height="5.14" fill="#8806f9"/>
<rect x="214.85" y="142.56" width="6.23" height="5.14" fill="#8b07f5"/>
<rect x="221.08" y="142.56" width="6.23" height="5.14" fill="#8d07ef"/>
<rect x="227.31" y="142.56" width="6.23" height="5.14" fill="#9008e8"/>
<rect x="233.54" y="142.56" width="6.23" height="5.14" fill="#9309df"/>
<rect x="239.77" y="142.56" width="6.23" height="5.14" fill="#9209e2"/>
<rect x="246.00" y="142.56" width="6.23" height="5.14" fill="#9109e5"/>
<rect x="252.23" y="142.56" width="6.23" height="5.14" fill="#8f08ea"/>
<rect x="258.46" y="142.56" width="6.23" height="5.14" fill="#8d07ef"/>
<rect x="264.68" y="142.56" width="6.23" height="5.14" fill="#8c07f1"/>
<rect x="270.91" y="142.56" width="6.23" height="5.14" fill="#8c07f3"/>
<rect x="277.14" y="142.56" width="6.23" height="5.14" fill="#8b07f5"/>
<rect x="283.37" y="142.56" width="6.23" height="5.14" fill="#8a06f6"/>
<rect x="289.60" y="142.56" width="6.23" height="5.14" fill="#8806f9"/>
<rect x="295.83" y="142.56" width="6.23" height="5.14" fill="#8605fb"/>
<rect x="302.06" y="142.56" width="6.23" height="5.14" fill="#8505fc"/>
<rect x="308.29" y="142.56" width="18.69" height="5.14" fill="#8405fd"/>
<rect x="326.97" y="142.56" width="6.23" height="5.14" fill="#8305fe"/>
<rect x="333.20" y="142.56" width="6.23" height="5.14" fill="#8205fe"/>
<rect x="339.43" y="142.56" width="6.23" height="5.14" fill="#8305fe"/>
<rect x="345.66" y="142.56" width="31.14" height="5.14" fill="#8405fd"/>
<rect x="376.81" y="142.56" width="6.23" height="5.14" fill="#8505fc"/>
<rect x="383.04" y="142.56" width="6.23" height="5.14" fill="#8605fb"/>
<rect x="389.26" y="142.56" width="6.23" height="5.14" fill="#8a06f6"/>
<rect x="395.49" y="142.56" width="6.23" height="5.14" fill="#8d07ef"/>
<rect x="401.72" y="142.56" width="6.23" height="5.14" fill="#9209e2"/>
<rect x="407.95" y="142.56" width="6.23" height="5.14" fill="#8d07ef"/>
<rect x="414.18" y="142.56" width="6.23" height="5.14" fill="#980bcb"/>
<rect x="420.41" y="142.56" width="12.46" height="5.14" fill="#a11097"/>
<rect x="432.87" y="142.56" width="6.23" height="5.14" fill="#9e0eaa"/>
<rect x="439.10" y="142.56" width="6.23" height="5.14" fill="#980bcb"/>
<rect x="445.33" y="142.56" width="6.23" height="5.14" fill="#9109e5"/>
<rect x="451.55" y="142.56" width="24.92" height="5.14" fill="#8a06f6"/>
<rect x="476.47" y="142.56" width="6.23" height="5.14" fill="#8906f8"/>
<rect x="482.70" y="142.56" width="12.46" height="5.14" fill="#8605fb"/>
<rect x="495.16" y="142.56" width="6.23" height="5.14" fill="#8a06f6"/>
<rect x="501.39" y="142.56" width="6.23" height="5.14" fill="#8d07ef"/>
<rect x="507.62" y="142.56" width="6.23" height="5.14" fill="#940ad9"/>
<rect x="513.84" y="142.56" width="6.23" height="5.14" fill="#9b0dbb"/>
<rect x="520.07" y="142.56" width="3.93" height="5.14" fill="#9e0eaa"/>
<rect x="75.00" y="147.69" width="2.81" height="5.14" fill="#9e0eaa"/>
<rect x="77.81" y="147.69" width="6.23" height="5.14" fill="#a41282"/>
<rect x="84.04" y="147.69" width="31.14" height="5.14" fill="#a7146c"/>
<rect x="115.19" y="147.69" width="6.23" height="5.14" fill="#a41282"/>
<rect x="121.42" y="147.69" width="6.23" height="5.14" fill="#a11097"/>
<rect x="127.65" y="147.69" width="6.23" height="5.14" fill="#9b0dbb"/>
<rect x="133.88" y="147.69" width="6.23" height="5.14" fill="#980bcb"/>
<rect x="140.10" y="147.69" width="6.23" height="5.14" fill="#940ad9"/>
<rect x="146.33" y="147.69" width="6.23" height="5.14" fill="#9109e5"/>
<rect x="152.56" y="147.69" width="6.23" height="5.14" fill="#8d07ef"/>
<rect x="158.79" y="147.69" width="18.69" height="5.14" fill="#8a06f6"/>
<rect x="177.48" y="147.69" width="24.92" height="5.14" fill="#8605fb"/>
<rect x="202.39" y="147.69" width="6.23" height="5.14" fill="#8806f9"/>
<rect x="208.62" y="147.69" width="6.23" height="5.14" fill="#8a06f6"/>
<rect x="214.85" y="147.69" width="6.23" height="5.14" fill="#8d07ef"/>
<rect x="221.08" y="147.69" width="6.23" height="5.14" fill="#9109e5"/>
<rect x="227.31" y="147.69" width="6.23" height="5.14" fill="#940ad9"/>
<rect x="233.54" y="147.69" width="6.23" height="5.14" fill="#980bcb"/>
<rect x="239.77" y="147.69" width="6.23" height="5.14" fill="#940ad9"/>
<rect x="246.00" y="147.69" width="6.23" height="5.14" fill="#9109e5"/>
<rect x="252.23" y="147.69" width="6.23" height="5.14" fill="#8d07ef"/>
<rect x="258.46" y="147.69" width="31.14" height="5.14" fill="#8a06f6"/>
<rect x="289.60" y="147.69" width="6.23" height="5.14" fill="#8806f9"/>
<rect x="295.83" y="147.69" width="93.44" height="5.14" fill="#8605fb"/>
<rect x="389.26" y="147.69" width="6.23" height="5.14" fill="#8a06f6"/>
<rect x="395.49" y="147.69" width="6.23" height="5.14" fill="#8d07ef"/>
<rect x="401.72" y="147.69" width="6.23" height="5.14" fill="#9109e5"/>
<rect x="407.95" y="147.69" width="6.23" height="5.14" fill="#8d07ef"/>
<rect x="414.18" y="147.69" width="6.23" height="5.14" fill="#980bcb"/>
<rect x="420.41" y="147.69" width="6.23" height="5.14" fill="#a7146c"/>
<rect x="426.64" y="147.69" width="6.23" height="5.14" fill="#aa1756"/>
<rect x="432.87" y="147.69" width="6.23" height="5.14" fill="#a11097"/>
<rect x="439.10" y="147.69" width="6.23" height="5.14" fill="#9b0dbb"/>
<rect x="445.33" y="147.69" width="6.23" height="5.14" fill="#940ad9"/>
<rect x="451.55" y="147.69" width="6.23" height="5.14" fill="#8d07ef"/>
<rect x="457.78" y="147.69" width="18.69" height="5.14" fill="#8a06f6"/>
<rect x="476.47" y="147.69" width="6.23" height="5.14" fill="#8c07f3"/>
<rect x="482.70" y="147.69" width="6.23" height="5.14" fill="#8605fb"/>
<rect x="488.93" y="147.69" width="6.23" height="5.14" fill="#8a06f6"/>
<rect x="495.16" y="147.69" width="6.23" height="5.14" fill="#8d07ef"/>
<rect x="501.39" y="147.69" width="6.23" height="5.14" fill="#9109e5"/>
<rect x="507.62" y="147.69" width="6.23" height="5.14" fill="#980bcb"/>
<rect x="513.84" y="147.69" width="6.23" height="5.14" fill="#a11097"/>
<rect x="520.07" y="147.69" width="3.93" height="5.14" fill="#a7146c"/>
<rect x="75.00" y="152.83" width="2.81" height="5.14" fill="#a41282"/>
<rect x="77.81" y="152.83" width="6.23" height="5.14" fill="#aa1756"/>
<rect x="84.04" y="152.83" width="12.46" height="5.14" fill="#ad193e"/>
<rect x="96.50" y="152.83" width="6.23" height="5.14" fill="#aa1756"/>
<rect x="102.73" y="152.83" width="12.46" height="5.14" fill="#ad193e"/>
<rect x="115.19" y="152.83" width="6.23" height="5.14" fill="#aa1756"/>
<rect x="121.42" y="152.83" width="6.23" height="5.14" fill="#a7146c"/>
<rect x="127.65" y="152.83" width="6.23" height="5.14" fill="#a41282"/>
<rect x="133.88" y="152.83" width="6.23" height="5.14" fill="#9e0eaa"/>
<rect x="140.10" y="152.83" width="6.23" height="5.14" fill="#980bcb"/>
<rect x="146.33" y="152.83" width="6.23" height="5.14" fill="#940ad9"/>
<rect x="152.56" y="152.83" width="6.23" height="5.14" fill="#9109e5"/>
<rect x="158.79" y="152.83" width="12.46" height="5.14" fill="#8d07ef"/>
<rect x="171.25" y="152.83" width="24.92" height="5.14" fill="#8a06f6"/>
<rect x="196.17" y="152.83" width="6.23" height="5.14" fill="#8806f9"/>
<rect x="202.39" y="152.83" width="6.23" height="5.14" fill="#8a06f6"/>
<rect x="208.62" y="152.83" width="6.23" height="5.14" fill="#8c07f3"/>
<rect x="214.85" y="152.83" width="6.23" height="5.14" fill="#8e08ec"/>
<rect x="221.08" y="152.83" width="6.23" height="5.14" fill="#9109e5"/>
<rect x="227.31" y="152.83" width="6.23" height="5.14" fill="#950ad6"/>
<rect x="233.54" y="152.83" width="6.23" height="5.14" fill="#990cc3"/>
<rect x="239.77" y="152.83" width="6.23" height="5.14" fill="#950ad6"/>
<rect x="246.00" y="152.83" width="6.23" height="5.14" fill="#9109e5"/>
<rect x="252.23" y="152.83" width="6.23" height="5.14" fill="#8d07ef"/>
<rect x="258.46" y="152.83" width="31.14" height="5.14" fill="#8a06f6"/>
<rect x="289.60" y="152.83" width="6.23" height="5.14" fill="#8b07f5"/>
<rect x="295.83" y="152.83" width="6.23" height="5.14" fill="#8c07f3"/>
<rect x="302.06" y="152.83" width="6.23" height="5.14" fill="#8d07ef"/>
<rect x="308.29" y="152.83" width="6.23" height="5.14" fill="#8f08ea"/>
<rect x="314.52" y="152.83" width="6.23" height="5.14" fill="#8e08ec"/>
<rect x="320.75" y="152.83" width="6.23" height="5.14" fill="#8d07ef"/>
<rect x="326.97" y="152.83" width="6.23" height="5.14" fill="#8b07f5"/>
<rect x="333.20" y="152.83" width="6.23" height="5.14" fill="#8806f9"/>
<rect x="339.43" y="152.83" width="6.23" height="5.14" fill="#8706fa"/>
<rect x="345.66" y="152.83" width="6.23" height="5.14" fill="#8605fb"/>
<rect x="351.89" y="152.83" width="6.23" height="5.14" fill="#8505fc"/>
<rect x="358.12" y="152.83" width="31.14" height="5.14" fill="#8405fd"/>
<rect x="389.26" y="152.83" width="6.23" height="5.14" fill="#8806f9"/>
<rect x="395.49" y="152.83" width="6.23" height="5.14" fill="#8c07f3"/>
<rect x="401.72" y="152.83" width="6.23" height="5.14" fill="#8f08ea"/>
<rect x="407.95" y="152.83" width="6.23" height="5.14" fill="#8d07ef"/>
<rect x="414.18" y="152.83" width="6.23" height="5.14" fill="#940ad9"/>
<rect x="420.41" y="152.83" width="6.23" height="5.14" fill="#a41282"/>
<rect x="426.64" y="152.83" width="6.23" height="5.14" fill="#a7146c"/>
<rect x="432.87" y="152.83" width="6.23" height="5.14" fill="#9e0eaa"/>
<rect x="439.10" y="152.83" width="6.23" height="5.14" fill="#980bcb"/>
<rect x="445.33" y="152.83" width="6.23" height="5.14" fill="#9109e5"/>
<rect x="451.55" y="152.83" width="24.92" height="5.14" fill="#8d07ef"/>
<rect x="476.47" y="152.83" width="6.23" height="5.14" fill="#8c07f3"/>
<rect x="482.70" y="152.83" width="6.23" height="5.14" fill="#8a06f6"/>
<rect x="488.93" y="152.83" width="6.23" height="5.14" fill="#8d07ef"/>
<rect x="495.16" y="152.83" width="6.23" height="5.14" fill="#9109e5"/>
<rect x="501.39" y="152.83" width="6.23" height="5.14" fill="#940ad9"/>
<rect x="507.62" y="152.83" width="6.23" height="5.14" fill="#9b0dbb"/>
<rect x="513.84" y="152.83" width="6.23" height="5.14" fill="#a41282"/>
<rect x="520.07" y="152.83" width="3.93" height="5.14" fill="#ad193e"/>
<rect x="75.00" y="157.97" width="2.81" height="5.14" fill="#aa1756"/>
<rect x="77.81" y="157.97" width="6.23" height="5.14" fill="#b31e0e"/>
<rect x="84.04" y="157.97" width="6.23" height="5.14" fill="#b62100"/>
<rect x="90.27" y="157.97" width="6.23" height="5.14" fill="#b31e0e"/>
<rect x="96.50" y="157.97" width="6.23" height="5.14" fill="#b01c26"/>
<rect x="102.73" y="157.97" width="6.23" height="5.14" fill="#b62100"/>
<rect x="108.96" y="157.97" width="6.23" height="5.14" fill="#b82400"/>
<rect x="115.19" y="157.97" width="6.23" height="5.14" fill="#b62100"/>
<rect x="121.42" y="157.97" width="6.23" height="5.14" fill="#b01c26"/>
<rect x="127.65" y="157.97" width="6.23" height="5.14" fill="#aa1756"/>
<rect x="133.88" y="157.97" width="6.23" height="5.14" fill="#a41282"/>
<rect x="140.10" y="157.97" width="6.23" height="5.14" fill="#9e0eaa"/>
<rect x="146.33" y="157.97" width="6.23" height="5.14" fill="#9b0dbb"/>
<rect x="152.56" y="157.97" width="6.23" height="5.14" fill="#940ad9"/>
<rect x="158.79" y="157.97" width="12.46" height="5.14" fill="#9109e5"/>
<rect x="171.25" y="157.97" width="24.92" height="5.14" fill="#8d07ef"/>
<rect x="196.17" y="157.97" width="6.23" height="5.14" fill="#8a06f6"/>
<rect x="202.39" y="157.97" width="6.23" height="5.14" fill="#8c07f3"/>
<rect x="208.62" y="157.97" width="6.23" height="5.14" fill="#8d07ef"/>
<rect x="214.85" y="157.97" width="6.23" height="5.14" fill="#8f08ea"/>
<rect x="221.08" y="157.97" width="6.23" height="5.14" fill="#9109e5"/>
<rect x="227.31" y="157.97" width="6.23" height="5.14" fill="#960bd2"/>
<rect x="233.54" y="157.97" width="6.23" height="5.14" fill="#9b0dbb"/>
<rect x="239.77" y="157.97" width="6.23" height="5.14" fill="#960bd2"/>
<rect x="246.00" y="157.97" width="6.23" height="5.14" fill="#9109e5"/>
<rect x="252.23" y="157.97" width="6.23" height="5.14" fill="#8d07ef"/>
<rect x="258.46" y="157.97" width="31.14" height="5.14" fill="#8a06f6"/>
<rect x="289.60" y="157.97" width="6.23" height="5.14" fill="#8d07ef"/>
<rect x="295.83" y="157.97" width="6.23" height="5.14" fill="#9109e5"/>
<rect x="302.06" y="157.97" width="6.23" height="5.14" fill="#940ad9"/>
<rect x="308.29" y="157.97" width="6.23" height="5.14" fill="#980bcb"/>
<rect x="314.52" y="157.97" width="6.23" height="5.14" fill="#960bd2"/>
<rect x="320.75" y="157.97" width="6.23" height="5.14" fill="#940ad9"/>
<rect x="326.97" y="157.97" width="6.23" height="5.14" fill="#8f08ea"/>
<rect x="333.20" y="157.97" width="6.23" height="5.14" fill="#8a06f6"/>
<rect x="339.43" y="157.97" width="6.23" height="5.14" fill="#8806f9"/>
<rect x="345.66" y="157.97" width="6.23" height="5.14" fill="#8605fb"/>
<rect x="351.89" y="157.97" width="6.23" height="5.14" fill="#8405fd"/>
<rect x="358.12" y="157.97" width="31.14" height="5.14" fill="#8205fe"/>
<rect x="389.26" y="157.97" width="6.23" height="5.14" fill="#8605fb"/>
<rect x="395.49" y="157.97" width="6.23" height="5.14" fill="#8a06f6"/>
<rect x="401.72" y="157.97" width="12.46" height="5.14" fill="#8d07ef"/>
<rect x="414.18" y="157.97" width="6.23" height="5.14" fill="#9109e5"/>
<rect x="420.41" y="157.97" width="12.46" height="5.14" fill="#980bcb"/>
<rect x="432.87" y="157.97" width="6.23" height="5.14" fill="#940ad9"/>
<rect x="439.10" y="157.97" width="6.23" height="5.14" fill="#9109e5"/>
<rect x="445.33" y="157.97" width="18.69" height="5.14" fill="#8d07ef"/>
<rect x="464.01" y="157.97" width="12.46" height="5.14" fill="#9109e5"/>
<rect x="476.47" y="157.97" width="6.23" height="5.14" fill="#8c07f3"/>
<rect x="482.70" y="157.97" width="6.23" height="5.14" fill="#8d07ef"/>
<rect x="488.93" y="157.97" width="6.23" height="5.14" fill="#9109e5"/>
<rect x="495.16" y="157.97" width="6.23" height="5.14" fill="#940ad9"/>
<rect x="501.39" y="157.97" width="6.23" height="5.14" fill="#980bcb"/>
<rect x="507.62" y="157.97" width="6.23" height="5.14" fill="#9e0eaa"/>
<rect x="513.84" y="157.97" width="6.23" height="5.14" fill="#a7146c"/>
<rect x="520.07" y="157.97" width="3.93" height="5.14" fill="#b01c26"/>
<rect x="75.00" y="163.11" width="2.81" height="5.14" fill="#ad193e"/>
<rect x="77.81" y="163.11" width="6.23" height="5.14" fill="#b62100"/>
<rect x="84.04" y="163.11" width="24.92" height="5.14" fill="#bb2800"/>
<rect x="108.96" y="163.11" width="12.46" height="5.14" fill="#be2b00"/>
<rect x="121.42" y="163.11" width="6.23" height="5.14" fill="#b82400"/>
<rect x="127.65" y="163.11" width="6.23" height="5.14" fill="#b01c26"/>
<rect x="133.88" y="163.11" width="6.23" height="5.14" fill="#ad193e"/>
<rect x="140.10" y="163.11" width="6.23" height="5.14" fill="#a7146c"/>
<rect x="146.33" y="163.11" width="6.23" height="5.14" fill="#a41282"/>
<rect x="152.56" y="163.11" width="6.23" height="5.14" fill="#9e0eaa"/>
<rect x="158.79" y="163.11" width="6.23" height="5.14" fill="#9b0dbb"/>
<rect x="165.02" y="163.11" width="6.23" height="5.14" fill="#940ad9"/>
<rect x="171.25" y="163.11" width="24.92" height="5.14" fill="#9109e5"/>
<rect x="196.17" y="163.11" width="6.23" height="5.14" fill="#960bd2"/>
<rect x="202.39" y="163.11" width="6.23" height="5.14" fill="#950ad6"/>
<rect x="208.62" y="163.11" width="6.23" height="5.14" fill="#940ad9"/>
<rect x="214.85" y="163.11" width="6.23" height="5.14" fill="#930adc"/>
<rect x="221.08" y="163.11" width="6.23" height="5.14" fill="#9309df"/>
<rect x="227.31" y="163.11" width="6.23" height="5.14" fill="#940ad9"/>
<rect x="233.54" y="163.11" width="6.23" height="5.14" fill="#960bd2"/>
<rect x="239.77" y="163.11" width="6.23" height="5.14" fill="#9309df"/>
<rect x="246.00" y="163.11" width="6.23" height="5.14" fill="#8f08ea"/>
<rect x="252.23" y="163.11" width="6.23" height="5.14" fill="#8c07f1"/>
<rect x="258.46" y="163.11" width="6.23" height="5.14" fill="#8a06f6"/>
<rect x="264.68" y="163.11" width="6.23" height="5.14" fill="#8906f8"/>
<rect x="270.91" y="163.11" width="6.23" height="5.14" fill="#8806f9"/>
<rect x="277.14" y="163.11" width="6.23" height="5.14" fill="#8906f8"/>
<rect x="283.37" y="163.11" width="6.23" height="5.14" fill="#8a06f6"/>
<rect x="289.60" y="163.11" width="6.23" height="5.14" fill="#8f08ea"/>
<rect x="295.83" y="163.11" width="6.23" height="5.14" fill="#940ad9"/>
<rect x="302.06" y="163.11" width="6.23" height="5.14" fill="#980cc7"/>
<rect x="308.29" y="163.11" width="6.23" height="5.14" fill="#9c0eb3"/>
<rect x="314.52" y="163.11" width="6.23" height="5.14" fill="#9b0dbb"/>
<rect x="320.75" y="163.11" width="6.23" height="5.14" fill="#990cc3"/>
<rect x="326.97" y="163.11" width="6.23" height="5.14" fill="#9309df"/>
<rect x="333.20" y="163.11" width="6.23" height="5.14" fill="#8c07f3"/>
<rect x="339.43" y="163.11" width="6.23" height="5.14" fill="#8906f8"/>
<rect x="345.66" y="163.11" width="6.23" height="5.14" fill="#8605fb"/>
<rect x="351.89" y="163.11" width="6.23" height="5.14" fill="#8505fc"/>
<rect x="358.12" y="163.11" width="6.23" height="5.14" fill="#8405fd"/>
<rect x="364.35" y="163.11" width="6.23" height="5.14" fill="#8305fe"/>
<rect x="370.58" y="163.11" width="18.69" height="5.14" fill="#8205fe"/>
<rect x="389.26" y="163.11" width="6.23" height="5.14" fill="#8505fc"/>
<rect x="395.49" y="163.11" width="6.23" height="5.14" fill="#8806f9"/>
<rect x="401.72" y="163.11" width="6.23" height="5.14" fill="#8b07f5"/>
<rect x="407.95" y="163.11" width="6.23" height="5.14" fill="#8a06f6"/>
<rect x="414.18" y="163.11" width="6.23" height="5.14" fill="#8d07ef"/>
<rect x="420.41" y="163.11" width="18.69" height="5.14" fill="#9109e5"/>
<rect x="439.10" y="163.11" width="12.46" height="5.14" fill="#8d07ef"/>
<rect x="451.55" y="163.11" width="12.46" height="5.14" fill="#9109e5"/>
<rect x="464.01" y="163.11" width="12.46" height="5.14" fill="#940ad9"/>
<rect x="476.47" y="163.11" width="6.23" height="5.14" fill="#8d07ef"/>
<rect x="482.70" y="163.11" width="6.23" height="5.14" fill="#9109e5"/>
<rect x="488.93" y="163.11" width="12.46" height="5.14" fill="#940ad9"/>
<rect x="501.39" y="163.11" width="6.23" height="5.14" fill="#9b0dbb"/>
<rect x="507.62" y="163.11" width="6.23" height="5.14" fill="#a11097"/>
<rect x="513.84" y="163.11" width="6.23" height="5.14" fill="#aa1756"/>
<rect x="520.07" y="163.11" width="3.93" height="5.14" fill="#b31e0e"/>
<rect x="75.00" y="168.24" width="2.81" height="5.14" fill="#b62100"/>
<rect x="77.81" y="168.24" width="6.23" height="5.14" fill="#bb2800"/>
<rect x="84.04" y="168.24" width="37.37" height="5.14" fill="#c02f00"/>
<rect x="121.42" y="168.24" width="6.23" height="5.14" fill="#be2b00"/>
<rect x="127.65" y="168.24" width="6.23" height="5.14" fill="#b82400"/>
<rect x="133.88" y="168.24" width="6.23" height="5.14" fill="#b62100"/>
<rect x="140.10" y="168.24" width="6.23" height="5.14" fill="#b01c26"/>
<rect x="146.33" y="168.24" width="6.23" height="5.14" fill="#ad193e"/>
<rect x="152.56" y="168.24" width="6.23" height="5.14" fill="#a7146c"/>
<rect x="158.79" y="168.24" width="6.23" height="5.14" fill="#a41282"/>
<rect x="165.02" y="168.24" width="6.23" height="5.14" fill="#9b0dbb"/>
<rect x="171.25" y="168.24" width="6.23" height="5.14" fill="#980bcb"/>
<rect x="177.48" y="168.24" width="12.46" height="5.14" fill="#940ad9"/>
<rect x="189.94" y="168.24" width="6.23" height="5.14" fill="#980bcb"/>
<rect x="196.17" y="168.24" width="6.23" height="5.14" fill="#a11097"/>
<rect x="202.39" y="168.24" width="6.23" height="5.14" fill="#9e0eaa"/>
<rect x="208.62" y="168.24" width="6.23" height="5.14" fill="#9b0dbb"/>
<rect x="214.85" y="168.24" width="6.23" height="5.14" fill="#980bcb"/>
<rect x="221.08" y="168.24" width="6.23" height="5.14" fill="#940ad9"/>
<rect x="227.31" y="168.24" width="6.23" height="5.14" fill="#9309df"/>
<rect x="233.54" y="168.24" width="6.23" height="5.14" fill="#9109e5"/>
<rect x="239.77" y="168.24" width="6.23" height="5.14" fill="#8f08ea"/>
<rect x="246.00" y="168.24" width="6.23" height="5.14" fill="#8d07ef"/>
<rect x="252.23" y="168.24" width="6.23" height="5.14" fill="#8c07f3"/>
<rect x="258.46" y="168.24" width="6.23" height="5.14" fill="#8a06f6"/>
<rect x="264.68" y="168.24" width="6.23" height="5.14" fill="#8806f9"/>
<rect x="270.91" y="168.24" width="6.23" height="5.14" fill="#8605fb"/>
<rect x="277.14" y="168.24" width="6.23" height="5.14" fill="#8806f9"/>
<rect x="283.37" y="168.24" width="6.23" height="5.14" fill="#8a06f6"/>
<rect x="289.60" y="168.24" width="6.23" height="5.14" fill="#9109e5"/>
<rect x="295.83" y="168.24" width="6.23" height="5.14" fill="#980bcb"/>
<rect x="302.06" y="168.24" width="6.23" height="5.14" fill="#9c0eb3"/>
<rect x="308.29" y="168.24" width="6.23" height="5.14" fill="#a11097"/>
<rect x="314.52" y="168.24" width="6.23" height="5.14" fill="#a00fa0"/>
<rect x="320.75" y="168.24" width="6.23" height="5.14" fill="#9e0eaa"/>
<rect x="326.97" y="168.24" width="6.23" height="5.14" fill="#960bd2"/>
<rect x="333.20" y="168.24" width="6.23" height="5.14" fill="#8d07ef"/>
<rect x="339.43" y="168.24" width="6.23" height="5.14" fill="#8a06f6"/>
<rect x="345.66" y="168.24" width="18.69" height="5.14" fill="#8605fb"/>
<rect x="364.35" y="168.24" width="6.23" height="5.14" fill="#8405fd"/>
<rect x="370.58" y="168.24" width="18.69" height="5.14" fill="#8205fe"/>
<rect x="389.26" y="168.24" width="6.23" height="5.14" fill="#8405fd"/>
<rect x="395.49" y="168.24" width="6.23" height="5.14" fill="#8605fb"/>
<rect x="401.72" y="168.24" width="6.23" height="5.14" fill="#8806f9"/>
<rect x="407.95" y="168.24" width="6.23" height="5.14" fill="#8a06f6"/>
<rect x="414.18" y="168.24" width="18.69" height="5.14" fill="#8d07ef"/>
<rect x="432.87" y="168.24" width="18.69" height="5.14" fill="#9109e5"/>
<rect x="451.55" y="168.24" width="6.23" height="5.14" fill="#940ad9"/>
<rect x="457.78" y="168.24" width="6.23" height="5.14" fill="#980bcb"/>
<rect x="464.01" y="168.24" width="6.23" height="5.14" fill="#9b0dbb"/>
<rect x="470.24" y="168.24" width="6.23" height="5.14" fill="#980bcb"/>
<rect x="476.47" y="168.24" width="6.23" height="5.14" fill="#8f08ea"/>
<rect x="482.70" y="168.24" width="6.23" height="5.14" fill="#9109e5"/>
<rect x="488.93" y="168.24" width="6.23" height="5.14" fill="#940ad9"/>
<rect x="495.16" y="168.24" width="6.23" height="5.14" fill="#980bcb"/>
<rect x="501.39" y="168.24" width="6.23" height="5.14" fill="#9b0dbb"/>
<rect x="507.62" y="168.24" width="6.23" height="5.14" fill="#a11097"/>
<rect x="513.84" y="168.24" width="6.23" height="5.14" fill="#ad193e"/>
<rect x="520.07" y="168.24" width="3.93" height="5.14" fill="#b62100"/>
<rect x="75.00" y="173.38" width="2.81" height="5.14" fill="#b82400"/>
<rect x="77.81" y="173.38" width="6.23" height="5.14" fill="#bb2800"/>
<rect x="84.04" y="173.38" width="37.37" height="5.14" fill="#c33300"/>
<rect x="121.42" y="173.38" width="6.23" height="5.14" fill="#c02f00"/>
<rect x="127.65" y="173.38" width="6.23" height="5.14" fill="#be2b00"/>
<rect x="133.88" y="173.38" width="6.23" height="5.14" fill="#bb2800"/>
<rect x="140.10" y="173.38" width="6.23" height="5.14" fill="#b82400"/>
<rect x="146.33" y="173.38" width="6.23" height="5.14" fill="#b31e0e"/>
<rect x="152.56" y="173.38" width="6.23" height="5.14" fill="#ad193e"/>
<rect x="158.79" y="173.38" width="6.23" height="5.14" fill="#aa1756"/>
<rect x="165.02" y="173.38" width="6.23" height="5.14" fill="#a11097"/>
<rect x="171.25" y="173.38" width="12.46" height="5.14" fill="#9e0eaa"/>
<rect x="183.71" y="173.38" width="6.23" height="5.14" fill="#9b0dbb"/>
<rect x="189.94" y="173.38" width="6.23" height="5.14" fill="#a11097"/>
<rect x="196.17" y="173.38" width="6.23" height="5.14" fill="#ad193e"/>
<rect x="202.39" y="173.38" width="6.23" height="5.14" fill="#aa1756"/>
<rect x="208.62" y="173.38" width="6.23" height="5.14" fill="#a7146c"/>
<rect x="214.85" y="173.38" width="6.23" height="5.14" fill="#a11097"/>
<rect x="221.08" y="173.38" width="6.23" height="5.14" fill="#9b0dbb"/>
<rect x="227.31" y="173.38" width="6.23" height="5.14" fill="#960bd2"/>
<rect x="233.54" y="173.38" width="6.23" height="5.14" fill="#9109e5"/>
<rect x="239.77" y="173.38" width="6.23" height="5.14" fill="#8d07ef"/>
<rect x="246.00" y="173.38" width="6.23" height="5.14" fill="#8a06f6"/>
<rect x="252.23" y="173.38" width="6.23" height="5.14" fill="#8706fa"/>
<rect x="258.46" y="173.38" width="6.23" height="5.14" fill="#8405fd"/>
<rect x="264.68" y="173.38" width="6.23" height="5.14" fill="#8104ff"/>
<rect x="270.91" y="173.38" width="6.23" height="5.14" fill="#7e04ff"/>
<rect x="277.14" y="173.38" width="6.23" height="5.14" fill="#8104ff"/>
<rect x="283.37" y="173.38" width="6.23" height="5.14" fill="#8405fd"/>
<rect x="289.60" y="173.38" width="6.23" height="5.14" fill="#8c07f1"/>
<rect x="295.83" y="173.38" width="6.23" height="5.14" fill="#940ad9"/>
<rect x="302.06" y="173.38" width="6.23" height="5.14" fill="#9a0cbf"/>
<rect x="308.29" y="173.38" width="6.23" height="5.14" fill="#a00fa0"/>
<rect x="314.52" y="173.38" width="6.23" height="5.14" fill="#9e0eaa"/>
<rect x="320.75" y="173.38" width="6.23" height="5.14" fill="#9c0eb3"/>
<rect x="326.97" y="173.38" width="6.23" height="5.14" fill="#950ad6"/>
<rect x="333.20" y="173.38" width="6.23" height="5.14" fill="#8d07ef"/>
<rect x="339.43" y="173.38" width="6.23" height="5.14" fill="#8a06f6"/>
<rect x="345.66" y="173.38" width="18.69" height="5.14" fill="#8605fb"/>
<rect x="364.35" y="173.38" width="6.23" height="5.14" fill="#8505fc"/>
<rect x="370.58" y="173.38" width="6.23" height="5.14" fill="#8405fd"/>
<rect x="376.81" y="173.38" width="6.23" height="5.14" fill="#8305fe"/>
<rect x="383.04" y="173.38" width="6.23" height="5.14" fill="#8205fe"/>
<rect x="389.26" y="173.38" width="6.23" height="5.14" fill="#8305fe"/>
<rect x="395.49" y="173.38" width="6.23" height="5.14" fill="#8405fd"/>
<rect x="401.72" y="173.38" width="6.23" height="5.14" fill="#8605fb"/>
<rect x="407.95" y="173.38" width="6.23" height="5.14" fill="#8a06f6"/>
<rect x="414.18" y="173.38" width="12.46" height="5.14" fill="#8d07ef"/>
<rect x="426.64" y="173.38" width="6.23" height="5.14" fill="#9109e5"/>
<rect x="432.87" y="173.38" width="6.23" height="5.14" fill="#940ad9"/>
<rect x="439.10" y="173.38" width="6.23" height="5.14" fill="#980bcb"/>
<rect x="445.33" y="173.38" width="6.23" height="5.14" fill="#9b0dbb"/>
<rect x="451.55" y="173.38" width="6.23" height="5.14" fill="#9e0eaa"/>
<rect x="457.78" y="173.38" width="6.23" height="5.14" fill="#9b0dbb"/>
<rect x="464.01" y="173.38" width="6.23" height="5.14" fill="#9e0eaa"/>
<rect x="470.24" y="173.38" width="6.23" height="5.14" fill="#9b0dbb"/>
<rect x="476.47" y="173.38" width="12.46" height="5.14" fill="#940ad9"/>
<rect x="488.93" y="173.38" width="6.23" height="5.14" fill="#980bcb"/>
<rect x="495.16" y="173.38" width="6.23" height="5.14" fill="#9b0dbb"/>
<rect x="501.39" y="173.38" width="6.23" height="5.14" fill="#9e0eaa"/>
<rect x="507.62" y="173.38" width="6.23" height="5.14" fill="#a41282"/>
<rect x="513.84" y="173.38" width="6.23" height="5.14" fill="#ad193e"/>
<rect x="520.07" y="173.38" width="3.93" height="5.14" fill="#b82400"/>
<rect x="75.00" y="178.52" width="2.81" height="5.14" fill="#bb2800"/>
<rect x="77.81" y="178.52" width="6.23" height="5.14" fill="#be2b00"/>
<rect x="84.04" y="178.52" width="12.46" height="5.14" fill="#c33300"/>
<rect x="96.50" y="178.52" width="24.92" height="5.14" fill="#c53700"/>
<rect x="121.42" y="178.52" width="6.23" height="5.14" fill="#c33300"/>
<rect x="127.65" y="178.52" width="12.46" height="5.14" fill="#c02f00"/>
<rect x="140.10" y="178.52" width="6.23" height="5.14" fill="#be2b00"/>
<rect x="146.33" y="178.52" width="6.23" height="5.14" fill="#bb2800"/>
<rect x="152.56" y="178.52" width="6.23" height="5.14" fill="#b62100"/>
<rect x="158.79" y="178.52" width="6.23" height="5.14" fill="#b01c26"/>
<rect x="165.02" y="178.52" width="12.46" height="5.14" fill="#a41282"/>
<rect x="177.48" y="178.52" width="6.23" height="5.14" fill="#a7146c"/>
<rect x="183.71" y="178.52" width="6.23" height="5.14" fill="#aa1756"/>
<rect x="189.94" y="178.52" width="6.23" height="5.14" fill="#ad193e"/>
<rect x="196.17" y="178.52" width="6.23" height="5.14" fill="#b82400"/>
<rect x="202.39" y="178.52" width="6.23" height="5.14" fill="#b62100"/>
<rect x="208.62" y="178.52" width="6.23" height="5.14" fill="#b31e0e"/>
<rect x="214.85" y="178.52" width="6.23" height="5.14" fill="#aa1756"/>
<rect x="221.08" y="178.52" width="6.23" height="5.14" fill="#a11097"/>
<rect x="227.31" y="178.52" width="6.23" height="5.14" fill="#990cc3"/>
<rect x="233.54" y="178.52" width="6.23" height="5.14" fill="#9109e5"/>
<rect x="239.77" y="178.52" width="6.23" height="5.14" fill="#8c07f3"/>
<rect x="246.00" y="178.52" width="6.23" height="5.14" fill="#8605fb"/>
<rect x="252.23" y="178.52" width="6.23" height="5.14" fill="#8205fe"/>
<rect x="258.46" y="178.52" width="6.23" height="5.14" fill="#7e04ff"/>
<rect x="264.68" y="178.52" width="6.23" height="5.14" fill="#7a03fd"/>
<rect x="270.91" y="178.52" width="6.23" height="5.14" fill="#7603f9"/>
<rect x="277.14" y="178.52" width="6.23" height="5.14" fill="#7a03fd"/>
<rect x="283.37" y="178.52" width="6.23" height="5.14" fill="#7e04ff"/>
<rect x="289.60" y="178.52" width="6.23" height="5.14" fill="#8806f9"/>
<rect x="295.83" y="178.52" width="6.23" height="5.14" fill="#9109e5"/>
<rect x="302.06" y="178.52" width="6.23" height="5.14" fill="#980bcb"/>
<rect x="308.29" y="178.52" width="6.23" height="5.14" fill="#9e0eaa"/>
<rect x="314.52" y="178.52" width="6.23" height="5.14" fill="#9c0eb3"/>
<rect x="320.75" y="178.52" width="6.23" height="5.14" fill="#9b0dbb"/>
<rect x="326.97" y="178.52" width="6.23" height="5.14" fill="#940ad9"/>
<rect x="333.20" y="178.52" width="6.23" height="5.14" fill="#8d07ef"/>
<rect x="339.43" y="178.52" width="6.23" height="5.14" fill="#8a06f6"/>
<rect x="345.66" y="178.52" width="31.14" height="5.14" fill="#8605fb"/>
<rect x="376.81" y="178.52" width="6.23" height="5.14" fill="#8405fd"/>
<rect x="383.04" y="178.52" width="18.69" height="5.14" fill="#8205fe"/>
<rect x="401.72" y="178.52" width="6.23" height="5.14" fill="#8405fd"/>
<rect x="407.95" y="178.52" width="6.23" height="5.14" fill="#8605fb"/>
<rect x="414.18" y="178.52" width="6.23" height="5.14" fill="#8c07f3"/>
<rect x="420.41" y="178.52" width="6.23" height="5.14" fill="#9109e5"/>
<rect x="426.64" y="178.52" width="6.23" height="5.14" fill="#960bd2"/>
<rect x="432.87" y="178.52" width="18.69" height="5.14" fill="#9b0dbb"/>
<rect x="451.55" y="178.52" width="6.23" height="5.14" fill="#990cc3"/>
<rect x="457.78" y="178.52" width="18.69" height="5.14" fill="#980bcb"/>
<rect x="476.47" y="178.52" width="6.23" height="5.14" fill="#990cc3"/>
<rect x="482.70" y="178.52" width="6.23" height="5.14" fill="#980bcb"/>
<rect x="488.93" y="178.52" width="12.46" height="5.14" fill="#9b0dbb"/>
<rect x="501.39" y="178.52" width="6.23" height="5.14" fill="#a11097"/>
<rect x="507.62" y="178.52" width="6.23" height="5.14" fill="#a7146c"/>
<rect x="513.84" y="178.52" width="6.23" height="5.14" fill="#b01c26"/>
<rect x="520.07" y="178.52" width="3.93" height="5.14" fill="#bb2800"/>
<rect x="75.00" y="183.66" width="2.81" height="5.14" fill="#be2b00"/>
<rect x="77.81" y="183.66" width="6.23" height="5.14" fill="#c02f00"/>
<rect x="84.04" y="183.66" width="18.69" height="5.14" fill="#c53700"/>
<rect x="102.73" y="183.66" width="24.92" height="5.14" fill="#c83b00"/>
<rect x="127.65" y="183.66" width="12.46" height="5.14" fill="#c33300"/>
<rect x="140.10" y="183.66" width="6.23" height="5.14" fill="#c02f00"/>
<rect x="146.33" y="183.66" width="6.23" height="5.14" fill="#be2b00"/>
<rect x="152.56" y="183.66" width="6.23" height="5.14" fill="#bb2800"/>
<rect x="158.79" y="183.66" width="6.23" height="5.14" fill="#b62100"/>
<rect x="165.02" y="183.66" width="6.23" height="5.14" fill="#aa1756"/>
<rect x="171.25" y="183.66" width="6.23" height="5.14" fill="#b01c26"/>
<rect x="177.48" y="183.66" width="6.23" height="5.14" fill="#b31e0e"/>
<rect x="183.71" y="183.66" width="6.23" height="5.14" fill="#b01c26"/>
<rect x="189.94" y="183.66" width="6.23" height="5.14" fill="#b31e0e"/>
<rect x="196.17" y="183.66" width="6.23" height="5.14" fill="#bc2900"/>
<rect x="202.39" y="183.66" width="6.23" height="5.14" fill="#ba2600"/>
<rect x="208.62" y="183.66" width="6.23" height="5.14" fill="#b72300"/>
<rect x="214.85" y="183.66" width="6.23" height="5.14" fill="#ad193e"/>
<rect x="221.08" y="183.66" width="6.23" height="5.14" fill="#a11097"/>
<rect x="227.31" y="183.66" width="6.23" height="5.14" fill="#8a06f6"/>
<rect x="233.54" y="183.66" width="6.23" height="5.14" fill="#8605fb"/>
<rect x="239.77" y="183.66" width="6.23" height="5.14" fill="#8d07ef"/>
<rect x="246.00" y="183.66" width="6.23" height="5.14" fill="#8205fe"/>
<rect x="252.23" y="183.66" width="6.23" height="5.14" fill="#7e04ff"/>
<rect x="258.46" y="183.66" width="18.69" height="5.14" fill="#7a03fd"/>
<rect x="277.14" y="183.66" width="18.69" height="5.14" fill="#7e04ff"/>
<rect x="295.83" y="183.66" width="6.23" height="5.14" fill="#8205fe"/>
<rect x="302.06" y="183.66" width="6.23" height="5.14" fill="#8e08ec"/>
<rect x="308.29" y="183.66" width="18.69" height="5.14" fill="#940ad9"/>
<rect x="326.97" y="183.66" width="6.23" height="5.14" fill="#8f08ea"/>
<rect x="333.20" y="183.66" width="6.23" height="5.14" fill="#8a06f6"/>
<rect x="339.43" y="183.66" width="6.23" height="5.14" fill="#8706fa"/>
<rect x="345.66" y="183.66" width="31.14" height="5.14" fill="#8405fd"/>
<rect x="376.81" y="183.66" width="6.23" height="5.14" fill="#8205fe"/>
<rect x="383.04" y="183.66" width="18.69" height="5.14" fill="#8004ff"/>
<rect x="401.72" y="183.66" width="6.23" height="5.14" fill="#8104ff"/>
<rect x="407.95" y="183.66" width="6.23" height="5.14" fill="#8205fe"/>
<rect x="414.18" y="183.66" width="6.23" height="5.14" fill="#8a06f6"/>
<rect x="420.41" y="183.66" width="6.23" height="5.14" fill="#9109e5"/>
<rect x="426.64" y="183.66" width="6.23" height="5.14" fill="#970bcf"/>
<rect x="432.87" y="183.66" width="6.23" height="5.14" fill="#9b0dbb"/>
<rect x="439.10" y="183.66" width="6.23" height="5.14" fill="#9e0eaa"/>
<rect x="445.33" y="183.66" width="6.23" height="5.14" fill="#a11097"/>
<rect x="451.55" y="183.66" width="6.23" height="5.14" fill="#9b0dbb"/>
<rect x="457.78" y="183.66" width="6.23" height="5.14" fill="#980bcb"/>
<rect x="464.01" y="183.66" width="6.23" height="5.14" fill="#940ad9"/>
<rect x="470.24" y="183.66" width="12.46" height="5.14" fill="#980bcb"/>
<rect x="482.70" y="183.66" width="12.46" height="5.14" fill="#9b0dbb"/>
<rect x="495.16" y="183.66" width="6.23" height="5.14" fill="#a11097"/>
<rect x="501.39" y="183.66" width="6.23" height="5.14" fill="#a41282"/>
<rect x="507.62" y="183.66" width="6.23" height="5.14" fill="#aa1756"/>
<rect x="513.84" y="183.66" width="6.23" height="5.14" fill="#b62100"/>
<rect x="520.07" y="183.66" width="3.93" height="5.14" fill="#bb2800"/>
<rect x="75.00" y="188.79" width="2.81" height="5.14" fill="#be2b00"/>
<rect x="77.81" y="188.79" width="6.23" height="5.14" fill="#c02f00"/>
<rect x="84.04" y="188.79" width="18.69" height="5.14" fill="#c53700"/>
<rect x="102.73" y="188.79" width="6.23" height="5.14" fill="#c83b00"/>
<rect x="108.96" y="188.79" width="12.46" height="5.14" fill="#ca4000"/>
<rect x="121.42" y="188.79" width="18.69" height="5.14" fill="#c83b00"/>
<rect x="140.10" y="188.79" width="6.23" height="5.14" fill="#c53700"/>
<rect x="146.33" y="188.79" width="6.23" height="5.14" fill="#c33300"/>
<rect x="152.56" y="188.79" width="6.23" height="5.14" fill="#c02f00"/>
<rect x="158.79" y="188.79" width="6.23" height="5.14" fill="#be2b00"/>
<rect x="165.02" y="188.79" width="6.23" height="5.14" fill="#b62100"/>
<rect x="171.25" y="188.79" width="12.46" height="5.14" fill="#b82400"/>
<rect x="183.71" y="188.79" width="6.23" height="5.14" fill="#b62100"/>
<rect x="189.94" y="188.79" width="6.23" height="5.14" fill="#b31e0e"/>
<rect x="196.17" y="188.79" width="6.23" height="5.14" fill="#c02f00"/>
<rect x="202.39" y="188.79" width="6.23" height="5.14" fill="#be2b00"/>
<rect x="208.62" y="188.79" width="6.23" height="5.14" fill="#bb2800"/>
<rect x="214.85" y="188.79" width="6.23" height="5.14" fill="#b01c26"/>
<rect x="221.08" y="188.79" width="6.23" height="5.14" fill="#a41282"/>
<rect x="227.31" y="188.79" width="6.23" height="5.14" fill="#940ad9"/>
<rect x="233.54" y="188.79" width="6.23" height="5.14" fill="#8205fe"/>
<rect x="239.77" y="188.79" width="6.23" height="5.14" fill="#7603f9"/>
<rect x="246.00" y="188.79" width="31.14" height="5.14" fill="#6d02ea"/>
<rect x="277.14" y="188.79" width="6.23" height="5.14" fill="#6901df"/>
<rect x="283.37" y="188.79" width="6.23" height="5.14" fill="#6401d2"/>
<rect x="289.60" y="188.79" width="6.23" height="5.14" fill="#7202f2"/>
<rect x="295.83" y="188.79" width="6.23" height="5.14" fill="#7603f9"/>
<rect x="302.06" y="188.79" width="6.23" height="5.14" fill="#8a06f6"/>
<rect x="308.29" y="188.79" width="6.23" height="5.14" fill="#9b0dbb"/>
<rect x="314.52" y="188.79" width="6.23" height="5.14" fill="#980bcb"/>
<rect x="320.75" y="188.79" width="6.23" height="5.14" fill="#9109e5"/>
<rect x="326.97" y="188.79" width="6.23" height="5.14" fill="#8605fb"/>
<rect x="333.20" y="188.79" width="24.92" height="5.14" fill="#8205fe"/>
<rect x="358.12" y="188.79" width="56.06" height="5.14" fill="#7e04ff"/>
<rect x="414.18" y="188.79" width="6.23" height="5.14" fill="#8806f9"/>
<rect x="420.41" y="188.79" width="6.23" height="5.14" fill="#9109e5"/>
<rect x="426.64" y="188.79" width="6.23" height="5.14" fill="#980bcb"/>
<rect x="432.87" y="188.79" width="6.23" height="5.14" fill="#9e0eaa"/>
<rect x="439.10" y="188.79" width="12.46" height="5.14" fill="#a41282"/>
<rect x="451.55" y="188.79" width="6.23" height="5.14" fill="#9e0eaa"/>
<rect x="457.78" y="188.79" width="12.46" height="5.14" fill="#980bcb"/>
<rect x="470.24" y="188.79" width="6.23" height="5.14" fill="#9b0dbb"/>
<rect x="476.47" y="188.79" width="12.46" height="5.14" fill="#9e0eaa"/>
<rect x="488.93" y="188.79" width="6.23" height="5.14" fill="#a11097"/>
<rect x="495.16" y="188.79" width="6.23" height="5.14" fill="#a41282"/>
<rect x="501.39" y="188.79" width="6.23" height="5.14" fill="#a7146c"/>
<rect x="507.62" y="188.79" width="6.23" height="5.14" fill="#ad193e"/>
<rect x="513.84" y="188.79" width="6.23" height="5.14" fill="#b82400"/>
<rect x="520.07" y="188.79" width="3.93" height="5.14" fill="#be2b00"/>
<rect x="75.00" y="193.93" width="2.81" height="5.14" fill="#c02f00"/>
<rect x="77.81" y="193.93" width="6.23" height="5.14" fill="#c33300"/>
<rect x="84.04" y="193.93" width="18.69" height="5.14" fill="#c73900"/>
<rect x="102.73" y="193.93" width="6.23" height="5.14" fill="#c93d00"/>
<rect x="108.96" y="193.93" width="6.23" height="5.14" fill="#cc4200"/>
<rect x="115.19" y="193.93" width="6.23" height="5.14" fill="#ce4700"/>
<rect x="121.42" y="193.93" width="12.46" height="5.14" fill="#d35100"/>
<rect x="133.88" y="193.93" width="6.23" height="5.14" fill="#d04c00"/>
<rect x="140.10" y="193.93" width="6.23" height="5.14" fill="#ce4700"/>
<rect x="146.33" y="193.93" width="6.23" height="5.14" fill="#cc4200"/>
<rect x="152.56" y="193.93" width="6.23" height="5.14" fill="#c93d00"/>
<rect x="158.79" y="193.93" width="6.23" height="5.14" fill="#c73900"/>
<rect x="165.02" y="193.93" width="12.46" height="5.14" fill="#c33300"/>
<rect x="177.48" y="193.93" width="6.23" height="5.14" fill="#be2b00"/>
<rect x="183.71" y="193.93" width="6.23" height="5.14" fill="#b82400"/>
<rect x="189.94" y="193.93" width="6.23" height="5.14" fill="#b62100"/>
<rect x="196.17" y="193.93" width="6.23" height="5.14" fill="#c33300"/>
<rect x="202.39" y="193.93" width="6.23" height="5.14" fill="#bf2d00"/>
<rect x="208.62" y="193.93" width="6.23" height="5.14" fill="#bb2800"/>
<rect x="214.85" y="193.93" width="6.23" height="5.14" fill="#b01c26"/>
<rect x="221.08" y="193.93" width="6.23" height="5.14" fill="#aa1756"/>
<rect x="227.31" y="193.93" width="6.23" height="5.14" fill="#980bcb"/>
<rect x="233.54" y="193.93" width="6.23" height="5.14" fill="#7e04ff"/>
<rect x="239.77" y="193.93" width="6.23" height="5.14" fill="#7202f2"/>
<rect x="246.00" y="193.93" width="6.23" height="5.14" fill="#6901df"/>
<rect x="252.23" y="193.93" width="12.46" height="5.14" fill="#5f01c3"/>
<rect x="264.68" y="193.93" width="6.23" height="5.14" fill="#6401d2"/>
<rect x="270.91" y="193.93" width="6.23" height="5.14" fill="#6901df"/>
<rect x="277.14" y="193.93" width="6.23" height="5.14" fill="#6401d2"/>
<rect x="283.37" y="193.93" width="6.23" height="5.14" fill="#5f01c3"/>
<rect x="289.60" y="193.93" width="12.46" height="5.14" fill="#6901df"/>
<rect x="302.06" y="193.93" width="6.23" height="5.14" fill="#7603f9"/>
<rect x="308.29" y="193.93" width="18.69" height="5.14" fill="#7e04ff"/>
<rect x="326.97" y="193.93" width="12.46" height="5.14" fill="#7a03fd"/>
<rect x="339.43" y="193.93" width="18.69" height="5.14" fill="#7e04ff"/>
<rect x="358.12" y="193.93" width="6.23" height="5.14" fill="#7a03fd"/>
<rect x="364.35" y="193.93" width="24.92" height="5.14" fill="#7603f9"/>
<rect x="389.26" y="193.93" width="6.23" height="5.14" fill="#7703fa"/>
<rect x="395.49" y="193.93" width="6.23" height="5.14" fill="#7803fb"/>
<rect x="401.72" y="193.93" width="6.23" height="5.14" fill="#7903fc"/>
<rect x="407.95" y="193.93" width="6.23" height="5.14" fill="#7a03fd"/>
<rect x="414.18" y="193.93" width="6.23" height="5.14" fill="#8305fe"/>
<rect x="420.41" y="193.93" width="6.23" height="5.14" fill="#8c07f3"/>
<rect x="426.64" y="193.93" width="6.23" height="5.14" fill="#940ad9"/>
<rect x="432.87" y="193.93" width="6.23" height="5.14" fill="#9b0dbb"/>
<rect x="439.10" y="193.93" width="6.23" height="5.14" fill="#a11097"/>
<rect x="445.33" y="193.93" width="6.23" height="5.14" fill="#9e0eaa"/>
<rect x="451.55" y="193.93" width="6.23" height="5.14" fill="#980bcb"/>
<rect x="457.78" y="193.93" width="6.23" height="5.14" fill="#9109e5"/>
<rect x="464.01" y="193.93" width="6.23" height="5.14" fill="#980bcb"/>
<rect x="470.24" y="193.93" width="6.23" height="5.14" fill="#9b0dbb"/>
<rect x="476.47" y="193.93" width="6.23" height="5.14" fill="#a11097"/>
<rect x="482.70" y="193.93" width="6.23" height="5.14" fill="#a41282"/>
<rect x="488.93" y="193.93" width="6.23" height="5.14" fill="#a7146c"/>
<rect x="495.16" y="193.93" width="6.23" height="5.14" fill="#aa1756"/>
<rect x="501.39" y="193.93" width="6.23" height="5.14" fill="#ad193e"/>
<rect x="507.62" y="193.93" width="6.23" height="5.14" fill="#b31e0e"/>
<rect x="513.84" y="193.93" width="6.23" height="5.14" fill="#bb2800"/>
<rect x="520.07" y="193.93" width="3.93" height="5.14" fill="#c02f00"/>
<rect x="75.00" y="199.07" width="2.81" height="5.14" fill="#c33300"/>
<rect x="77.81" y="199.07" width="6.23" height="5.14" fill="#c53700"/>
<rect x="84.04" y="199.07" width="24.92" height="5.14" fill="#c93d00"/>
<rect x="108.96" y="199.07" width="6.23" height="5.14" fill="#cc4200"/>
<rect x="115.19" y="199.07" width="6.23" height="5.14" fill="#ce4700"/>
<rect x="121.42" y="199.07" width="6.23" height="5.14" fill="#d55700"/>
<rect x="127.65" y="199.07" width="6.23" height="5.14" fill="#d85d00"/>
<rect x="133.88" y="199.07" width="12.46" height="5.14" fill="#d55700"/>
<rect x="146.33" y="199.07" width="6.23" height="5.14" fill="#d35100"/>
<rect x="152.56" y="199.07" width="6.23" height="5.14" fill="#d04c00"/>
<rect x="158.79" y="199.07" width="6.23" height="5.14" fill="#ce4700"/>
<rect x="165.02" y="199.07" width="6.23" height="5.14" fill="#ca4000"/>
<rect x="171.25" y="199.07" width="6.23" height="5.14" fill="#c83b00"/>
<rect x="177.48" y="199.07" width="6.23" height="5.14" fill="#c02f00"/>
<rect x="183.71" y="199.07" width="6.23" height="5.14" fill="#bb2800"/>
<rect x="189.94" y="199.07" width="6.23" height="5.14" fill="#b82400"/>
<rect x="196.17" y="199.07" width="6.23" height="5.14" fill="#c53700"/>
<rect x="202.39" y="199.07" width="6.23" height="5.14" fill="#c02f00"/>
<rect x="208.62" y="199.07" width="6.23" height="5.14" fill="#bb2800"/>
<rect x="214.85" y="199.07" width="6.23" height="5.14" fill="#b01c26"/>
<rect x="221.08" y="199.07" width="6.23" height="5.14" fill="#aa1756"/>
<rect x="227.31" y="199.07" width="6.23" height="5.14" fill="#980bcb"/>
<rect x="233.54" y="199.07" width="6.23" height="5.14" fill="#7e04ff"/>
<rect x="239.77" y="199.07" width="6.23" height="5.14" fill="#7202f2"/>
<rect x="246.00" y="199.07" width="6.23" height="5.14" fill="#6401d2"/>
<rect x="252.23" y="199.07" width="12.46" height="5.14" fill="#5f01c3"/>
<rect x="264.68" y="199.07" width="6.23" height="5.14" fill="#6901df"/>
<rect x="270.91" y="199.07" width="6.23" height="5.14" fill="#6d02ea"/>
<rect x="277.14" y="199.07" width="6.23" height="5.14" fill="#6401d2"/>
<rect x="283.37" y="199.07" width="18.69" height="5.14" fill="#5f01c3"/>
<rect x="302.06" y="199.07" width="6.23" height="5.14" fill="#6901df"/>
<rect x="308.29" y="199.07" width="12.46" height="5.14" fill="#7202f2"/>
<rect x="320.75" y="199.07" width="6.23" height="5.14" fill="#7603f9"/>
<rect x="326.97" y="199.07" width="12.46" height="5.14" fill="#7a03fd"/>
<rect x="339.43" y="199.07" width="12.46" height="5.14" fill="#7e04ff"/>
<rect x="351.89" y="199.07" width="6.23" height="5.14" fill="#7a03fd"/>
<rect x="358.12" y="199.07" width="6.23" height="5.14" fill="#7202f2"/>
<rect x="364.35" y="199.07" width="6.23" height="5.14" fill="#6d02ea"/>
<rect x="370.58" y="199.07" width="6.23" height="5.14" fill="#6901df"/>
<rect x="376.81" y="199.07" width="6.23" height="5.14" fill="#6d02ea"/>
<rect x="383.04" y="199.07" width="6.23" height="5.14" fill="#7202f2"/>
<rect x="389.26" y="199.07" width="6.23" height="5.14" fill="#7002ee"/>
<rect x="395.49" y="199.07" width="6.23" height="5.14" fill="#7202f2"/>
<rect x="401.72" y="199.07" width="6.23" height="5.14" fill="#7402f6"/>
<rect x="407.95" y="199.07" width="6.23" height="5.14" fill="#7603f9"/>
<rect x="414.18" y="199.07" width="6.23" height="5.14" fill="#7e04ff"/>
<rect x="420.41" y="199.07" width="6.23" height="5.14" fill="#8605fb"/>
<rect x="426.64" y="199.07" width="6.23" height="5.14" fill="#9109e5"/>
<rect x="432.87" y="199.07" width="6.23" height="5.14" fill="#9b0dbb"/>
<rect x="439.10" y="199.07" width="6.23" height="5.14" fill="#a11097"/>
<rect x="445.33" y="199.07" width="6.23" height="5.14" fill="#9b0dbb"/>
<rect x="451.55" y="199.07" width="6.23" height="5.14" fill="#9109e5"/>
<rect x="457.78" y="199.07" width="6.23" height="5.14" fill="#940ad9"/>
<rect x="464.01" y="199.07" width="6.23" height="5.14" fill="#9e0eaa"/>
<rect x="470.24" y="199.07" width="6.23" height="5.14" fill="#a41282"/>
<rect x="476.47" y="199.07" width="6.23" height="5.14" fill="#aa1756"/>
<rect x="482.70" y="199.07" width="6.23" height="5.14" fill="#ad193e"/>
<rect x="488.93" y="199.07" width="6.23" height="5.14" fill="#b01c26"/>
<rect x="495.16" y="199.07" width="6.23" height="5.14" fill="#b31e0e"/>
<rect x="501.39" y="199.07" width="6.23" height="5.14" fill="#b62100"/>
<rect x="507.62" y="199.07" width="6.23" height="5.14" fill="#b82400"/>
<rect x="513.84" y="199.07" width="6.23" height="5.14" fill="#be2b00"/>
<rect x="520.07" y="199.07" width="3.93" height="5.14" fill="#c33300"/>
<rect x="75.00" y="204.21" width="2.81" height="5.14" fill="#c53700"/>
<rect x="77.81" y="204.21" width="6.23" height="5.14" fill="#c83b00"/>
<rect x="84.04" y="204.21" width="6.23" height="5.14" fill="#cc4200"/>
<rect x="90.27" y="204.21" width="18.69" height="5.14" fill="#c93d00"/>
<rect x="108.96" y="204.21" width="6.23" height="5.14" fill="#cc4200"/>
<rect x="115.19" y="204.21" width="6.23" height="5.14" fill="#ce4700"/>
<rect x="121.42" y="204.21" width="6.23" height="5.14" fill="#d55700"/>
<rect x="127.65" y="204.21" width="12.46" height="5.14" fill="#d85d00"/>
<rect x="140.10" y="204.21" width="12.46" height="5.14" fill="#da6300"/>
<rect x="152.56" y="204.21" width="6.23" height="5.14" fill="#d85d00"/>
<rect x="158.79" y="204.21" width="6.23" height="5.14" fill="#d55700"/>
<rect x="165.02" y="204.21" width="6.23" height="5.14" fill="#cf4900"/>
<rect x="171.25" y="204.21" width="6.23" height="5.14" fill="#cd4400"/>
<rect x="177.48" y="204.21" width="6.23" height="5.14" fill="#c33300"/>
<rect x="183.71" y="204.21" width="6.23" height="5.14" fill="#be2b00"/>
<rect x="189.94" y="204.21" width="6.23" height="5.14" fill="#bb2800"/>
<rect x="196.17" y="204.21" width="6.23" height="5.14" fill="#c93d00"/>
<rect x="202.39" y="204.21" width="6.23" height="5.14" fill="#c33300"/>
<rect x="208.62" y="204.21" width="6.23" height="5.14" fill="#bc2900"/>
<rect x="214.85" y="204.21" width="6.23" height="5.14" fill="#af1b2c"/>
<rect x="221.08" y="204.21" width="6.23" height="5.14" fill="#b31e0e"/>
<rect x="227.31" y="204.21" width="6.23" height="5.14" fill="#a11097"/>
<rect x="233.54" y="204.21" width="6.23" height="5.14" fill="#7e04ff"/>
<rect x="239.77" y="204.21" width="6.23" height="5.14" fill="#7202f2"/>
<rect x="246.00" y="204.21" width="6.23" height="5.14" fill="#6401d2"/>
<rect x="252.23" y="204.21" width="12.46" height="5.14" fill="#5900b2"/>
<rect x="264.68" y="204.21" width="12.46" height="5.14" fill="#6901df"/>
<rect x="277.14" y="204.21" width="6.23" height="5.14" fill="#6401d2"/>
<rect x="283.37" y="204.21" width="12.46" height="5.14" fill="#5f01c3"/>
<rect x="295.83" y="204.21" width="12.46" height="5.14" fill="#6401d2"/>
<rect x="308.29" y="204.21" width="6.23" height="5.14" fill="#6901df"/>
<rect x="314.52" y="204.21" width="6.23" height="5.14" fill="#6d02ea"/>
<rect x="320.75" y="204.21" width="6.23" height="5.14" fill="#7202f2"/>
<rect x="326.97" y="204.21" width="12.46" height="5.14" fill="#7603f9"/>
<rect x="339.43" y="204.21" width="12.46" height="5.14" fill="#7a03fd"/>
<rect x="351.89" y="204.21" width="6.23" height="5.14" fill="#7603f9"/>
<rect x="358.12" y="204.21" width="6.23" height="5.14" fill="#6d02ea"/>
<rect x="364.35" y="204.21" width="6.23" height="5.14" fill="#6901df"/>
<rect x="370.58" y="204.21" width="6.23" height="5.14" fill="#6401d2"/>
<rect x="376.81" y="204.21" width="6.23" height="5.14" fill="#6901df"/>
<rect x="383.04" y="204.21" width="6.23" height="5.14" fill="#6d02ea"/>
<rect x="389.26" y="204.21" width="6.23" height="5.14" fill="#6901df"/>
<rect x="395.49" y="204.21" width="6.23" height="5.14" fill="#6b01e4"/>
<rect x="401.72" y="204.21" width="6.23" height="5.14" fill="#6f02ec"/>
<rect x="407.95" y="204.21" width="6.23" height="5.14" fill="#7202f2"/>
<rect x="414.18" y="204.21" width="6.23" height="5.14" fill="#7b03fe"/>
<rect x="420.41" y="204.21" width="6.23" height="5.14" fill="#8405fd"/>
<rect x="426.64" y="204.21" width="6.23" height="5.14" fill="#9008e8"/>
<rect x="432.87" y="204.21" width="6.23" height="5.14" fill="#980bcb"/>
<rect x="439.10" y="204.21" width="6.23" height="5.14" fill="#9e0eaa"/>
<rect x="445.33" y="204.21" width="6.23" height="5.14" fill="#9b0dbb"/>
<rect x="451.55" y="204.21" width="6.23" height="5.14" fill="#980bcb"/>
<rect x="457.78" y="204.21" width="6.23" height="5.14" fill="#9e0eaa"/>
<rect x="464.01" y="204.21" width="6.23" height="5.14" fill="#a41282"/>
<rect x="470.24" y="204.21" width="6.23" height="5.14" fill="#aa1756"/>
<rect x="476.47" y="204.21" width="6.23" height="5.14" fill="#b31e0e"/>
<rect x="482.70" y="204.21" width="6.23" height="5.14" fill="#b82400"/>
<rect x="488.93" y="204.21" width="18.69" height="5.14" fill="#bb2800"/>
<rect x="507.62" y="204.21" width="6.23" height="5.14" fill="#be2b00"/>
<rect x="513.84" y="204.21" width="6.23" height="5.14" fill="#c02f00"/>
<rect x="520.07" y="204.21" width="3.93" height="5.14" fill="#c53700"/>
<rect x="75.00" y="209.34" width="2.81" height="5.14" fill="#c83b00"/>
<rect x="77.81" y="209.34" width="6.23" height="5.14" fill="#ca4000"/>
<rect x="84.04" y="209.34" width="6.23" height="5.14" fill="#ce4700"/>
<rect x="90.27" y="209.34" width="6.23" height="5.14" fill="#cc4200"/>
<rect x="96.50" y="209.34" width="12.46" height="5.14" fill="#c93d00"/>
<rect x="108.96" y="209.34" width="6.23" height="5.14" fill="#cc4200"/>
<rect x="115.19" y="209.34" width="6.23" height="5.14" fill="#ce4700"/>
<rect x="121.42" y="209.34" width="12.46" height="5.14" fill="#d55700"/>
<rect x="133.88" y="209.34" width="6.23" height="5.14" fill="#da6300"/>
<rect x="140.10" y="209.34" width="6.23" height="5.14" fill="#dc6900"/>
<rect x="146.33" y="209.34" width="6.23" height="5.14" fill="#de7000"/>
<rect x="152.56" y="209.34" width="6.23" height="5.14" fill="#dc6900"/>
<rect x="158.79" y="209.34" width="6.23" height="5.14" fill="#da6300"/>
<rect x="165.02" y="209.34" width="6.23" height="5.14" fill="#d45400"/>
<rect x="171.25" y="209.34" width="6.23" height="5.14" fill="#cf4900"/>
<rect x="177.48" y="209.34" width="6.23" height="5.14" fill="#c53700"/>
<rect x="183.71" y="209.34" width="6.23" height="5.14" fill="#c02f00"/>
<rect x="189.94" y="209.34" width="6.23" height="5.14" fill="#be2b00"/>
<rect x="196.17" y="209.34" width="6.23" height="5.14" fill="#cd4400"/>
<rect x="202.39" y="209.34" width="6.23" height="5.14" fill="#c53700"/>
<rect x="208.62" y="209.34" width="6.23" height="5.14" fill="#be2b00"/>
<rect x="214.85" y="209.34" width="6.23" height="5.14" fill="#af1a32"/>
<rect x="221.08" y="209.34" width="6.23" height="5.14" fill="#b82400"/>
<rect x="227.31" y="209.34" width="6.23" height="5.14" fill="#a11097"/>
<rect x="233.54" y="209.34" width="6.23" height="5.14" fill="#7e04ff"/>
<rect x="239.77" y="209.34" width="6.23" height="5.14" fill="#7202f2"/>
<rect x="246.00" y="209.34" width="6.23" height="5.14" fill="#6901df"/>
<rect x="252.23" y="209.34" width="6.23" height="5.14" fill="#4d008c"/>
<rect x="258.46" y="209.34" width="12.46" height="5.14" fill="#5900b2"/>
<rect x="270.91" y="209.34" width="12.46" height="5.14" fill="#6401d2"/>
<rect x="283.37" y="209.34" width="6.23" height="5.14" fill="#5f01c3"/>
<rect x="289.60" y="209.34" width="12.46" height="5.14" fill="#6901df"/>
<rect x="302.06" y="209.34" width="18.69" height="5.14" fill="#6401d2"/>
<rect x="320.75" y="209.34" width="12.46" height="5.14" fill="#5f01c3"/>
<rect x="333.20" y="209.34" width="6.23" height="5.14" fill="#6401d2"/>
<rect x="339.43" y="209.34" width="6.23" height="5.14" fill="#6d02ea"/>
<rect x="345.66" y="209.34" width="12.46" height="5.14" fill="#7202f2"/>
<rect x="358.12" y="209.34" width="6.23" height="5.14" fill="#6901df"/>
<rect x="364.35" y="209.34" width="6.23" height="5.14" fill="#5f01c3"/>
<rect x="370.58" y="209.34" width="6.23" height="5.14" fill="#5900b2"/>
<rect x="376.81" y="209.34" width="6.23" height="5.14" fill="#5f01c3"/>
<rect x="383.04" y="209.34" width="6.23" height="5.14" fill="#6401d2"/>
<rect x="389.26" y="209.34" width="6.23" height="5.14" fill="#6101ca"/>
<rect x="395.49" y="209.34" width="6.23" height="5.14" fill="#6401d2"/>
<rect x="401.72" y="209.34" width="6.23" height="5.14" fill="#6901df"/>
<rect x="407.95" y="209.34" width="6.23" height="5.14" fill="#6d02ea"/>
<rect x="414.18" y="209.34" width="6.23" height="5.14" fill="#7803fb"/>
<rect x="420.41" y="209.34" width="6.23" height="5.14" fill="#8205fe"/>
<rect x="426.64" y="209.34" width="6.23" height="5.14" fill="#8f08ea"/>
<rect x="432.87" y="209.34" width="6.23" height="5.14" fill="#940ad9"/>
<rect x="439.10" y="209.34" width="18.69" height="5.14" fill="#9e0eaa"/>
<rect x="457.78" y="209.34" width="6.23" height="5.14" fill="#a11097"/>
<rect x="464.01" y="209.34" width="6.23" height="5.14" fill="#a7146c"/>
<rect x="470.24" y="209.34" width="6.23" height="5.14" fill="#b01c26"/>
<rect x="476.47" y="209.34" width="6.23" height="5.14" fill="#bb2800"/>
<rect x="482.70" y="209.34" width="6.23" height="5.14" fill="#c02f00"/>
<rect x="488.93" y="209.34" width="6.23" height="5.14" fill="#c33300"/>
<rect x="495.16" y="209.34" width="12.46" height="5.14" fill="#c53700"/>
<rect x="507.62" y="209.34" width="6.23" height="5.14" fill="#c83b00"/>
<rect x="513.84" y="209.34" width="10.16" height="5.14" fill="#ca4000"/>
<rect x="75.00" y="214.48" width="2.81" height="5.14" fill="#ca4000"/>
<rect x="77.81" y="214.48" width="12.46" height="5.14" fill="#cd4400"/>
<rect x="90.27" y="214.48" width="6.23" height="5.14" fill="#ca4000"/>
<rect x="96.50" y="214.48" width="18.69" height="5.14" fill="#c83b00"/>
<rect x="115.19" y="214.48" width="6.23" height="5.14" fill="#ca4000"/>
<rect x="121.42" y="214.48" width="12.46" height="5.14" fill="#cf4900"/>
<rect x="133.88" y="214.48" width="6.23" height="5.14" fill="#d65a00"/>
<rect x="140.10" y="214.48" width="6.23" height="5.14" fill="#db6600"/>
<rect x="146.33" y="214.48" width="12.46" height="5.14" fill="#dd6d00"/>
<rect x="158.79" y="214.48" width="6.23" height="5.14" fill="#db6600"/>
<rect x="165.02" y="214.48" width="6.23" height="5.14" fill="#d65a00"/>
<rect x="171.25" y="214.48" width="6.23" height="5.14" fill="#d24f00"/>
<rect x="177.48" y="214.48" width="6.23" height="5.14" fill="#c83b00"/>
<rect x="183.71" y="214.48" width="6.23" height="5.14" fill="#c33300"/>
<rect x="189.94" y="214.48" width="6.23" height="5.14" fill="#c02f00"/>
<rect x="196.17" y="214.48" width="6.23" height="5.14" fill="#ce4700"/>
<rect x="202.39" y="214.48" width="6.23" height="5.14" fill="#c43500"/>
<rect x="208.62" y="214.48" width="6.23" height="5.14" fill="#ba2600"/>
<rect x="214.85" y="214.48" width="6.23" height="5.14" fill="#ab1750"/>
<rect x="221.08" y="214.48" width="6.23" height="5.14" fill="#b31e0e"/>
<rect x="227.31" y="214.48" width="6.23" height="5.14" fill="#9b0dbb"/>
<rect x="233.54" y="214.48" width="6.23" height="5.14" fill="#7e04ff"/>
<rect x="239.77" y="214.48" width="6.23" height="5.14" fill="#7202f2"/>
<rect x="246.00" y="214.48" width="6.23" height="5.14" fill="#5f01c3"/>
<rect x="252.23" y="214.48" width="6.23" height="5.14" fill="#470076"/>
<rect x="258.46" y="214.48" width="6.23" height="5.14" fill="#54009f"/>
<rect x="264.68" y="214.48" width="18.69" height="5.14" fill="#5900b2"/>
<rect x="283.37" y="214.48" width="6.23" height="5.14" fill="#6401d2"/>
<rect x="289.60" y="214.48" width="6.23" height="5.14" fill="#7603f9"/>
<rect x="295.83" y="214.48" width="6.23" height="5.14" fill="#7202f2"/>
<rect x="302.06" y="214.48" width="6.23" height="5.14" fill="#6d02ea"/>
<rect x="308.29" y="214.48" width="6.23" height="5.14" fill="#6901df"/>
<rect x="314.52" y="214.48" width="6.23" height="5.14" fill="#6401d2"/>
<rect x="320.75" y="214.48" width="6.23" height="5.14" fill="#54009f"/>
<rect x="326.97" y="214.48" width="6.23" height="5.14" fill="#470076"/>
<rect x="333.20" y="214.48" width="6.23" height="5.14" fill="#4d008c"/>
<rect x="339.43" y="214.48" width="6.23" height="5.14" fill="#5f01c3"/>
<rect x="345.66" y="214.48" width="6.23" height="5.14" fill="#6901df"/>
<rect x="351.89" y="214.48" width="6.23" height="5.14" fill="#6d02ea"/>
<rect x="358.12" y="214.48" width="6.23" height="5.14" fill="#6901df"/>
<rect x="364.35" y="214.48" width="6.23" height="5.14" fill="#5f01c3"/>
<rect x="370.58" y="214.48" width="6.23" height="5.14" fill="#54009f"/>
<rect x="376.81" y="214.48" width="6.23" height="5.14" fill="#5900b2"/>
<rect x="383.04" y="214.48" width="6.23" height="5.14" fill="#5f01c3"/>
<rect x="389.26" y="214.48" width="6.23" height="5.14" fill="#5c01bb"/>
<rect x="395.49" y="214.48" width="6.23" height="5.14" fill="#5f01c3"/>
<rect x="401.72" y="214.48" width="6.23" height="5.14" fill="#6501d5"/>
<rect x="407.95" y="214.48" width="6.23" height="5.14" fill="#6b01e4"/>
<rect x="414.18" y="214.48" width="6.23" height="5.14" fill="#7603f9"/>
<rect x="420.41" y="214.48" width="6.23" height="5.14" fill="#8004ff"/>
<rect x="426.64" y="214.48" width="6.23" height="5.14" fill="#8d07ef"/>
<rect x="432.87" y="214.48" width="6.23" height="5.14" fill="#9109e5"/>
<rect x="439.10" y="214.48" width="6.23" height="5.14" fill="#9b0dbb"/>
<rect x="445.33" y="214.48" width="12.46" height="5.14" fill="#9e0eaa"/>
<rect x="457.78" y="214.48" width="6.23" height="5.14" fill="#a11097"/>
<rect x="464.01" y="214.48" width="6.23" height="5.14" fill="#aa1756"/>
<rect x="470.24" y="214.48" width="6.23" height="5.14" fill="#b62100"/>
<rect x="476.47" y="214.48" width="6.23" height="5.14" fill="#c02f00"/>
<rect x="482.70" y="214.48" width="6.23" height="5.14" fill="#c53700"/>
<rect x="488.93" y="214.48" width="6.23" height="5.14" fill="#c83b00"/>
<rect x="495.16" y="214.48" width="6.23" height="5.14" fill="#ca4000"/>
<rect x="501.39" y="214.48" width="6.23" height="5.14" fill="#cd4400"/>
<rect x="507.62" y="214.48" width="6.23" height="5.14" fill="#cf4900"/>
<rect x="513.84" y="214.48" width="10.16" height="5.14" fill="#d24f00"/>
<rect x="75.00" y="219.62" width="2.81" height="5.14" fill="#cd4400"/>
<rect x="77.81" y="219.62" width="12.46" height="5.14" fill="#cf4900"/>
<rect x="90.27" y="219.62" width="6.23" height="5.14" fill="#cd4400"/>
<rect x="96.50" y="219.62" width="12.46" height="5.14" fill="#ca4000"/>
<rect x="108.96" y="219.62" width="12.46" height="5.14" fill="#c83b00"/>
<rect x="121.42" y="219.62" width="12.46" height="5.14" fill="#cd4400"/>
<rect x="133.88" y="219.62" width="6.23" height="5.14" fill="#d45400"/>
<rect x="140.10" y="219.62" width="6.23" height="5.14" fill="#db6600"/>
<rect x="146.33" y="219.62" width="12.46" height="5.14" fill="#dd6d00"/>
<rect x="158.79" y="219.62" width="6.23" height="5.14" fill="#db6600"/>
<rect x="165.02" y="219.62" width="6.23" height="5.14" fill="#d96000"/>
<rect x="171.25" y="219.62" width="6.23" height="5.14" fill="#d45400"/>
<rect x="177.48" y="219.62" width="6.23" height="5.14" fill="#ca4000"/>
<rect x="183.71" y="219.62" width="6.23" height="5.14" fill="#c53700"/>
<rect x="189.94" y="219.62" width="6.23" height="5.14" fill="#c33300"/>
<rect x="196.17" y="219.62" width="6.23" height="5.14" fill="#cf4900"/>
<rect x="202.39" y="219.62" width="6.23" height="5.14" fill="#c33300"/>
<rect x="208.62" y="219.62" width="6.23" height="5.14" fill="#b62100"/>
<rect x="214.85" y="219.62" width="6.23" height="5.14" fill="#a7146c"/>
<rect x="221.08" y="219.62" width="6.23" height="5.14" fill="#aa1756"/>
<rect x="227.31" y="219.62" width="6.23" height="5.14" fill="#940ad9"/>
<rect x="233.54" y="219.62" width="6.23" height="5.14" fill="#7a03fd"/>
<rect x="239.77" y="219.62" width="6.23" height="5.14" fill="#6d02ea"/>
<rect x="246.00" y="219.62" width="6.23" height="5.14" fill="#3f0060"/>
<rect x="252.23" y="219.62" width="6.23" height="5.14" fill="#16000c"/>
<rect x="258.46" y="219.62" width="6.23" height="5.14" fill="#3b0055"/>
<rect x="264.68" y="219.62" width="6.23" height="5.14" fill="#5f01c3"/>
<rect x="270.91" y="219.62" width="12.46" height="5.14" fill="#6d02ea"/>
<rect x="283.37" y="219.62" width="6.23" height="5.14" fill="#7202f2"/>
<rect x="289.60" y="219.62" width="6.23" height="5.14" fill="#7a03fd"/>
<rect x="295.83" y="219.62" width="6.23" height="5.14" fill="#7603f9"/>
<rect x="302.06" y="219.62" width="6.23" height="5.14" fill="#7202f2"/>
<rect x="308.29" y="219.62" width="6.23" height="5.14" fill="#6d02ea"/>
<rect x="314.52" y="219.62" width="6.23" height="5.14" fill="#6901df"/>
<rect x="320.75" y="219.62" width="6.23" height="5.14" fill="#54009f"/>
<rect x="326.97" y="219.62" width="6.23" height="5.14" fill="#4d008c"/>
<rect x="333.20" y="219.62" width="6.23" height="5.14" fill="#54009f"/>
<rect x="339.43" y="219.62" width="6.23" height="5.14" fill="#5900b2"/>
<rect x="345.66" y="219.62" width="6.23" height="5.14" fill="#4d008c"/>
<rect x="351.89" y="219.62" width="6.23" height="5.14" fill="#54009f"/>
<rect x="358.12" y="219.62" width="12.46" height="5.14" fill="#5f01c3"/>
<rect x="370.58" y="219.62" width="12.46" height="5.14" fill="#54009f"/>
<rect x="383.04" y="219.62" width="6.23" height="5.14" fill="#5900b2"/>
<rect x="389.26" y="219.62" width="6.23" height="5.14" fill="#5700a9"/>
<rect x="395.49" y="219.62" width="6.23" height="5.14" fill="#5900b2"/>
<rect x="401.72" y="219.62" width="6.23" height="5.14" fill="#6101ca"/>
<rect x="407.95" y="219.62" width="6.23" height="5.14" fill="#6901df"/>
<rect x="414.18" y="219.62" width="6.23" height="5.14" fill="#7402f6"/>
<rect x="420.41" y="219.62" width="6.23" height="5.14" fill="#7e04ff"/>
<rect x="426.64" y="219.62" width="6.23" height="5.14" fill="#8c07f3"/>
<rect x="432.87" y="219.62" width="6.23" height="5.14" fill="#8d07ef"/>
<rect x="439.10" y="219.62" width="6.23" height="5.14" fill="#980bcb"/>
<rect x="445.33" y="219.62" width="12.46" height="5.14" fill="#9e0eaa"/>
<rect x="457.78" y="219.62" width="6.23" height="5.14" fill="#a11097"/>
<rect x="464.01" y="219.62" width="6.23" height="5.14" fill="#ad193e"/>
<rect x="470.24" y="219.62" width="6.23" height="5.14" fill="#bb2800"/>
<rect x="476.47" y="219.62" width="6.23" height="5.14" fill="#c53700"/>
<rect x="482.70" y="219.62" width="6.23" height="5.14" fill="#ca4000"/>
<rect x="488.93" y="219.62" width="6.23" height="5.14" fill="#cd4400"/>
<rect x="495.16" y="219.62" width="6.23" height="5.14" fill="#d24f00"/>
<rect x="501.39" y="219.62" width="6.23" height="5.14" fill="#d45400"/>
<rect x="507.62" y="219.62" width="6.23" height="5.14" fill="#d65a00"/>
<rect x="513.84" y="219.62" width="10.16" height="5.14" fill="#d96000"/>
<rect x="75.00" y="224.76" width="9.04" height="5.14" fill="#d24f00"/>
<rect x="84.04" y="224.76" width="12.46" height="5.14" fill="#d45400"/>
<rect x="96.50" y="224.76" width="6.23" height="5.14" fill="#d24f00"/>
<rect x="102.73" y="224.76" width="6.23" height="5.14" fill="#cd4400"/>
<rect x="108.96" y="224.76" width="18.69" height="5.14" fill="#ca4000"/>
<rect x="127.65" y="224.76" width="6.23" height="5.14" fill="#c83b00"/>
<rect x="133.88" y="224.76" width="6.23" height="5.14" fill="#cf4900"/>
<rect x="140.10" y="224.76" width="6.23" height="5.14" fill="#d45400"/>
<rect x="146.33" y="224.76" width="6.23" height="5.14" fill="#d65a00"/>
<rect x="152.56" y="224.76" width="12.46" height="5.14" fill="#d96000"/>
<rect x="165.02" y="224.76" width="6.23" height="5.14" fill="#d65a00"/>
<rect x="171.25" y="224.76" width="6.23" height="5.14" fill="#d45400"/>
<rect x="177.48" y="224.76" width="6.23" height="5.14" fill="#cf4900"/>
<rect x="183.71" y="224.76" width="18.69" height="5.14" fill="#ca4000"/>
<rect x="202.39" y="224.76" width="6.23" height="5.14" fill="#be2b00"/>
<rect x="208.62" y="224.76" width="6.23" height="5.14" fill="#b01c26"/>
<rect x="214.85" y="224.76" width="6.23" height="5.14" fill="#a21192"/>
<rect x="221.08" y="224.76" width="6.23" height="5.14" fill="#980bcb"/>
<rect x="227.31" y="224.76" width="6.23" height="5.14" fill="#8d07ef"/>
<rect x="233.54" y="224.76" width="6.23" height="5.14" fill="#7a03fd"/>
<rect x="239.77" y="224.76" width="6.23" height="5.14" fill="#6d02ea"/>
<rect x="246.00" y="224.76" width="6.23" height="5.14" fill="#3b0055"/>
<rect x="252.23" y="224.76" width="6.23" height="5.14" fill="#2d0031"/>
<rect x="258.46" y="224.76" width="6.23" height="5.14" fill="#4d008c"/>
<rect x="264.68" y="224.76" width="6.23" height="5.14" fill="#7202f2"/>
<rect x="270.91" y="224.76" width="18.69" height="5.14" fill="#7a03fd"/>
<rect x="289.60" y="224.76" width="6.23" height="5.14" fill="#8205fe"/>
<rect x="295.83" y="224.76" width="6.23" height="5.14" fill="#7e04ff"/>
<rect x="302.06" y="224.76" width="6.23" height="5.14" fill="#7a03fd"/>
<rect x="308.29" y="224.76" width="6.23" height="5.14" fill="#7603f9"/>
<rect x="314.52" y="224.76" width="6.23" height="5.14" fill="#6d02ea"/>
<rect x="320.75" y="224.76" width="6.23" height="5.14" fill="#6401d2"/>
<rect x="326.97" y="224.76" width="6.23" height="5.14" fill="#5f01c3"/>
<rect x="333.20" y="224.76" width="6.23" height="5.14" fill="#5900b2"/>
<rect x="339.43" y="224.76" width="6.23" height="5.14" fill="#54009f"/>
<rect x="345.66" y="224.76" width="12.46" height="5.14" fill="#470076"/>
<rect x="358.12" y="224.76" width="6.23" height="5.14" fill="#54009f"/>
<rect x="364.35" y="224.76" width="6.23" height="5.14" fill="#5f01c3"/>
<rect x="370.58" y="224.76" width="6.23" height="5.14" fill="#5900b2"/>
<rect x="376.81" y="224.76" width="6.23" height="5.14" fill="#54009f"/>
<rect x="383.04" y="224.76" width="6.23" height="5.14" fill="#5900b2"/>
<rect x="389.26" y="224.76" width="6.23" height="5.14" fill="#5b01b6"/>
<rect x="395.49" y="224.76" width="6.23" height="5.14" fill="#5c01bb"/>
<rect x="401.72" y="224.76" width="6.23" height="5.14" fill="#6301ce"/>
<rect x="407.95" y="224.76" width="6.23" height="5.14" fill="#6901df"/>
<rect x="414.18" y="224.76" width="6.23" height="5.14" fill="#7302f4"/>
<rect x="420.41" y="224.76" width="6.23" height="5.14" fill="#7c03fe"/>
<rect x="426.64" y="224.76" width="6.23" height="5.14" fill="#8906f8"/>
<rect x="432.87" y="224.76" width="6.23" height="5.14" fill="#8d07ef"/>
<rect x="439.10" y="224.76" width="6.23" height="5.14" fill="#980bcb"/>
<rect x="445.33" y="224.76" width="12.46" height="5.14" fill="#9e0eaa"/>
<rect x="457.78" y="224.76" width="6.23" height="5.14" fill="#a11097"/>
<rect x="464.01" y="224.76" width="6.23" height="5.14" fill="#ad193e"/>
<rect x="470.24" y="224.76" width="6.23" height="5.14" fill="#bb2800"/>
<rect x="476.47" y="224.76" width="6.23" height="5.14" fill="#c33300"/>
<rect x="482.70" y="224.76" width="6.23" height="5.14" fill="#ca4000"/>
<rect x="488.93" y="224.76" width="6.23" height="5.14" fill="#cf4900"/>
<rect x="495.16" y="224.76" width="6.23" height="5.14" fill="#d45400"/>
<rect x="501.39" y="224.76" width="6.23" height="5.14" fill="#d96000"/>
<rect x="507.62" y="224.76" width="6.23" height="5.14" fill="#db6600"/>
<rect x="513.84" y="224.76" width="10.16" height="5.14" fill="#dd6d00"/>
<rect x="75.00" y="229.89" width="2.81" height="5.14" fill="#d45400"/>
<rect x="77.81" y="229.89" width="18.69" height="5.14" fill="#d65a00"/>
<rect x="96.50" y="229.89" width="6.23" height="5.14" fill="#d45400"/>
<rect x="102.73" y="229.89" width="6.23" height="5.14" fill="#d24f00"/>
<rect x="108.96" y="229.89" width="12.46" height="5.14" fill="#cf4900"/>
<rect x="121.42" y="229.89" width="6.23" height="5.14" fill="#cd4400"/>
<rect x="127.65" y="229.89" width="6.23" height="5.14" fill="#ca4000"/>
<rect x="133.88" y="229.89" width="6.23" height="5.14" fill="#cd4400"/>
<rect x="140.10" y="229.89" width="6.23" height="5.14" fill="#d24f00"/>
<rect x="146.33" y="229.89" width="6.23" height="5.14" fill="#d45400"/>
<rect x="152.56" y="229.89" width="18.69" height="5.14" fill="#d65a00"/>
<rect x="171.25" y="229.89" width="6.23" height="5.14" fill="#d45400"/>
<rect x="177.48" y="229.89" width="6.23" height="5.14" fill="#d24f00"/>
<rect x="183.71" y="229.89" width="6.23" height="5.14" fill="#cd4400"/>
<rect x="189.94" y="229.89" width="6.23" height="5.14" fill="#ca4000"/>
<rect x="196.17" y="229.89" width="6.23" height="5.14" fill="#bb2800"/>
<rect x="202.39" y="229.89" width="6.23" height="5.14" fill="#b01c26"/>
<rect x="208.62" y="229.89" width="6.23" height="5.14" fill="#a41282"/>
<rect x="214.85" y="229.89" width="6.23" height="5.14" fill="#980bcb"/>
<rect x="221.08" y="229.89" width="6.23" height="5.14" fill="#8a06f6"/>
<rect x="227.31" y="229.89" width="6.23" height="5.14" fill="#8205fe"/>
<rect x="233.54" y="229.89" width="6.23" height="5.14" fill="#7e04ff"/>
<rect x="239.77" y="229.89" width="6.23" height="5.14" fill="#7a03fd"/>
<rect x="246.00" y="229.89" width="6.23" height="5.14" fill="#7202f2"/>
<rect x="252.23" y="229.89" width="6.23" height="5.14" fill="#6401d2"/>
<rect x="258.46" y="229.89" width="6.23" height="5.14" fill="#6d02ea"/>
<rect x="264.68" y="229.89" width="12.46" height="5.14" fill="#7a03fd"/>
<rect x="277.14" y="229.89" width="6.23" height="5.14" fill="#8a06f6"/>
<rect x="283.37" y="229.89" width="12.46" height="5.14" fill="#980bcb"/>
<rect x="295.83" y="229.89" width="6.23" height="5.14" fill="#9109e5"/>
<rect x="302.06" y="229.89" width="6.23" height="5.14" fill="#8205fe"/>
<rect x="308.29" y="229.89" width="6.23" height="5.14" fill="#7a03fd"/>
<rect x="314.52" y="229.89" width="12.46" height="5.14" fill="#7603f9"/>
<rect x="326.97" y="229.89" width="6.23" height="5.14" fill="#7202f2"/>
<rect x="333.20" y="229.89" width="6.23" height="5.14" fill="#6d02ea"/>
<rect x="339.43" y="229.89" width="6.23" height="5.14" fill="#6901df"/>
<rect x="345.66" y="229.89" width="12.46" height="5.14" fill="#5f01c3"/>
<rect x="358.12" y="229.89" width="12.46" height="5.14" fill="#6401d2"/>
<rect x="370.58" y="229.89" width="18.69" height="5.14" fill="#5f01c3"/>
<rect x="389.26" y="229.89" width="12.46" height="5.14" fill="#54009f"/>
<rect x="401.72" y="229.89" width="6.23" height="5.14" fill="#5900b2"/>
<rect x="407.95" y="229.89" width="6.23" height="5.14" fill="#5f01c3"/>
<rect x="414.18" y="229.89" width="6.23" height="5.14" fill="#6901df"/>
<rect x="420.41" y="229.89" width="6.23" height="5.14" fill="#7202f2"/>
<rect x="426.64" y="229.89" width="6.23" height="5.14" fill="#8605fb"/>
<rect x="432.87" y="229.89" width="6.23" height="5.14" fill="#9109e5"/>
<rect x="439.10" y="229.89" width="6.23" height="5.14" fill="#9b0dbb"/>
<rect x="445.33" y="229.89" width="12.46" height="5.14" fill="#9e0eaa"/>
<rect x="457.78" y="229.89" width="6.23" height="5.14" fill="#a11097"/>
<rect x="464.01" y="229.89" width="6.23" height="5.14" fill="#a7146c"/>
<rect x="470.24" y="229.89" width="6.23" height="5.14" fill="#b62100"/>
<rect x="476.47" y="229.89" width="6.23" height="5.14" fill="#c02f00"/>
<rect x="482.70" y="229.89" width="6.23" height="5.14" fill="#c83b00"/>
<rect x="488.93" y="229.89" width="6.23" height="5.14" fill="#cf4900"/>
<rect x="495.16" y="229.89" width="6.23" height="5.14" fill="#d65a00"/>
<rect x="501.39" y="229.89" width="6.23" height="5.14" fill="#db6600"/>
<rect x="507.62" y="229.89" width="6.23" height="5.14" fill="#df7400"/>
<rect x="513.84" y="229.89" width="6.23" height="5.14" fill="#e48200"/>
<rect x="520.07" y="229.89" width="3.93" height="5.14" fill="#e27b00"/>
<rect x="75.00" y="235.03" width="2.81" height="5.14" fill="#d65a00"/>
<rect x="77.81" y="235.03" width="18.69" height="5.14" fill="#d96000"/>
<rect x="96.50" y="235.03" width="6.23" height="5.14" fill="#d65a00"/>
<rect x="102.73" y="235.03" width="6.23" height="5.14" fill="#d45400"/>
<rect x="108.96" y="235.03" width="12.46" height="5.14" fill="#d24f00"/>
<rect x="121.42" y="235.03" width="6.23" height="5.14" fill="#cf4900"/>
<rect x="127.65" y="235.03" width="12.46" height="5.14" fill="#cd4400"/>
<rect x="140.10" y="235.03" width="6.23" height="5.14" fill="#cf4900"/>
<rect x="146.33" y="235.03" width="6.23" height="5.14" fill="#d24f00"/>
<rect x="152.56" y="235.03" width="18.69" height="5.14" fill="#d45400"/>
<rect x="171.25" y="235.03" width="6.23" height="5.14" fill="#d24f00"/>
<rect x="177.48" y="235.03" width="6.23" height="5.14" fill="#cf4900"/>
<rect x="183.71" y="235.03" width="6.23" height="5.14" fill="#ca4000"/>
<rect x="189.94" y="235.03" width="6.23" height="5.14" fill="#c53700"/>
<rect x="196.17" y="235.03" width="6.23" height="5.14" fill="#aa1756"/>
<rect x="202.39" y="235.03" width="6.23" height="5.14" fill="#a7146c"/>
<rect x="208.62" y="235.03" width="6.23" height="5.14" fill="#980bcb"/>
<rect x="214.85" y="235.03" width="6.23" height="5.14" fill="#8a06f6"/>
<rect x="221.08" y="235.03" width="6.23" height="5.14" fill="#7e04ff"/>
<rect x="227.31" y="235.03" width="6.23" height="5.14" fill="#6d02ea"/>
<rect x="233.54" y="235.03" width="6.23" height="5.14" fill="#6401d2"/>
<rect x="239.77" y="235.03" width="6.23" height="5.14" fill="#7202f2"/>
<rect x="246.00" y="235.03" width="6.23" height="5.14" fill="#7a03fd"/>
<rect x="252.23" y="235.03" width="6.23" height="5.14" fill="#7603f9"/>
<rect x="258.46" y="235.03" width="18.69" height="5.14" fill="#7a03fd"/>
<rect x="277.14" y="235.03" width="12.46" height="5.14" fill="#8605fb"/>
<rect x="289.60" y="235.03" width="6.23" height="5.14" fill="#8a06f6"/>
<rect x="295.83" y="235.03" width="6.23" height="5.14" fill="#8205fe"/>
<rect x="302.06" y="235.03" width="24.92" height="5.14" fill="#7e04ff"/>
<rect x="326.97" y="235.03" width="6.23" height="5.14" fill="#7a03fd"/>
<rect x="333.20" y="235.03" width="12.46" height="5.14" fill="#7603f9"/>
<rect x="345.66" y="235.03" width="6.23" height="5.14" fill="#6d02ea"/>
<rect x="351.89" y="235.03" width="12.46" height="5.14" fill="#6901df"/>
<rect x="364.35" y="235.03" width="18.69" height="5.14" fill="#6401d2"/>
<rect x="383.04" y="235.03" width="6.23" height="5.14" fill="#5f01c3"/>
<rect x="389.26" y="235.03" width="12.46" height="5.14" fill="#5900b2"/>
<rect x="401.72" y="235.03" width="6.23" height="5.14" fill="#5b01b6"/>
<rect x="407.95" y="235.03" width="6.23" height="5.14" fill="#5c01bb"/>
<rect x="414.18" y="235.03" width="6.23" height="5.14" fill="#6901df"/>
<rect x="420.41" y="235.03" width="6.23" height="5.14" fill="#7402f6"/>
<rect x="426.64" y="235.03" width="6.23" height="5.14" fill="#8706fa"/>
<rect x="432.87" y="235.03" width="6.23" height="5.14" fill="#8d07ef"/>
<rect x="439.10" y="235.03" width="6.23" height="5.14" fill="#980bcb"/>
<rect x="445.33" y="235.03" width="12.46" height="5.14" fill="#9b0dbb"/>
<rect x="457.78" y="235.03" width="6.23" height="5.14" fill="#9e0eaa"/>
<rect x="464.01" y="235.03" width="6.23" height="5.14" fill="#a41282"/>
<rect x="470.24" y="235.03" width="6.23" height="5.14" fill="#b31e0e"/>
<rect x="476.47" y="235.03" width="6.23" height="5.14" fill="#be2b00"/>
<rect x="482.70" y="235.03" width="6.23" height="5.14" fill="#c53700"/>
<rect x="488.93" y="235.03" width="6.23" height="5.14" fill="#cd4400"/>
<rect x="495.16" y="235.03" width="6.23" height="5.14" fill="#d45400"/>
<rect x="501.39" y="235.03" width="6.23" height="5.14" fill="#d96000"/>
<rect x="507.62" y="235.03" width="6.23" height="5.14" fill="#e27b00"/>
<rect x="513.84" y="235.03" width="6.23" height="5.14" fill="#e68a00"/>
<rect x="520.07" y="235.03" width="3.93" height="5.14" fill="#e89200"/>
<rect x="75.00" y="240.17" width="2.81" height="5.14" fill="#db6600"/>
<rect x="77.81" y="240.17" width="6.23" height="5.14" fill="#df7400"/>
<rect x="84.04" y="240.17" width="6.23" height="5.14" fill="#e48200"/>
<rect x="90.27" y="240.17" width="6.23" height="5.14" fill="#e68a00"/>
<rect x="96.50" y="240.17" width="6.23" height="5.14" fill="#e27b00"/>
<rect x="102.73" y="240.17" width="6.23" height="5.14" fill="#d96000"/>
<rect x="108.96" y="240.17" width="6.23" height="5.14" fill="#dd6d00"/>
<rect x="115.19" y="240.17" width="6.23" height="5.14" fill="#d96000"/>
<rect x="121.42" y="240.17" width="6.23" height="5.14" fill="#d45400"/>
<rect x="127.65" y="240.17" width="6.23" height="5.14" fill="#cd4400"/>
<rect x="133.88" y="240.17" width="6.23" height="5.14" fill="#ca4000"/>
<rect x="140.10" y="240.17" width="6.23" height="5.14" fill="#cd4400"/>
<rect x="146.33" y="240.17" width="24.92" height="5.14" fill="#cf4900"/>
<rect x="171.25" y="240.17" width="6.23" height="5.14" fill="#cd4400"/>
<rect x="177.48" y="240.17" width="6.23" height="5.14" fill="#ca4000"/>
<rect x="183.71" y="240.17" width="6.23" height="5.14" fill="#c53700"/>
<rect x="189.94" y="240.17" width="6.23" height="5.14" fill="#be2b00"/>
<rect x="196.17" y="240.17" width="6.23" height="5.14" fill="#a11097"/>
<rect x="202.39" y="240.17" width="6.23" height="5.14" fill="#9b0dbb"/>
<rect x="208.62" y="240.17" width="6.23" height="5.14" fill="#940ad9"/>
<rect x="214.85" y="240.17" width="6.23" height="5.14" fill="#8605fb"/>
<rect x="221.08" y="240.17" width="6.23" height="5.14" fill="#7e04ff"/>
<rect x="227.31" y="240.17" width="6.23" height="5.14" fill="#7202f2"/>
<rect x="233.54" y="240.17" width="6.23" height="5.14" fill="#6901df"/>
<rect x="239.77" y="240.17" width="6.23" height="5.14" fill="#7e04ff"/>
<rect x="246.00" y="240.17" width="12.46" height="5.14" fill="#7a03fd"/>
<rect x="258.46" y="240.17" width="18.69" height="5.14" fill="#7603f9"/>
<rect x="277.14" y="240.17" width="6.23" height="5.14" fill="#7e04ff"/>
<rect x="283.37" y="240.17" width="6.23" height="5.14" fill="#7a03fd"/>
<rect x="289.60" y="240.17" width="6.23" height="5.14" fill="#7e04ff"/>
<rect x="295.83" y="240.17" width="12.46" height="5.14" fill="#7a03fd"/>
<rect x="308.29" y="240.17" width="6.23" height="5.14" fill="#7e04ff"/>
<rect x="314.52" y="240.17" width="6.23" height="5.14" fill="#8205fe"/>
<rect x="320.75" y="240.17" width="12.46" height="5.14" fill="#7e04ff"/>
<rect x="333.20" y="240.17" width="6.23" height="5.14" fill="#7a03fd"/>
<rect x="339.43" y="240.17" width="6.23" height="5.14" fill="#7603f9"/>
<rect x="345.66" y="240.17" width="6.23" height="5.14" fill="#7202f2"/>
<rect x="351.89" y="240.17" width="6.23" height="5.14" fill="#6d02ea"/>
<rect x="358.12" y="240.17" width="6.23" height="5.14" fill="#6901df"/>
<rect x="364.35" y="240.17" width="6.23" height="5.14" fill="#6401d2"/>
<rect x="370.58" y="240.17" width="6.23" height="5.14" fill="#5f01c3"/>
<rect x="376.81" y="240.17" width="12.46" height="5.14" fill="#5900b2"/>
<rect x="389.26" y="240.17" width="12.46" height="5.14" fill="#54009f"/>
<rect x="401.72" y="240.17" width="6.23" height="5.14" fill="#5900b2"/>
<rect x="407.95" y="240.17" width="6.23" height="5.14" fill="#5f01c3"/>
<rect x="414.18" y="240.17" width="6.23" height="5.14" fill="#6d02ea"/>
<rect x="420.41" y="240.17" width="6.23" height="5.14" fill="#7a03fd"/>
<rect x="426.64" y="240.17" width="6.23" height="5.14" fill="#8205fe"/>
<rect x="432.87" y="240.17" width="6.23" height="5.14" fill="#8a06f6"/>
<rect x="439.10" y="240.17" width="6.23" height="5.14" fill="#940ad9"/>
<rect x="445.33" y="240.17" width="6.23" height="5.14" fill="#980bcb"/>
<rect x="451.55" y="240.17" width="6.23" height="5.14" fill="#9b0dbb"/>
<rect x="457.78" y="240.17" width="6.23" height="5.14" fill="#9e0eaa"/>
<rect x="464.01" y="240.17" width="6.23" height="5.14" fill="#a11097"/>
<rect x="470.24" y="240.17" width="6.23" height="5.14" fill="#ad193e"/>
<rect x="476.47" y="240.17" width="6.23" height="5.14" fill="#b82400"/>
<rect x="482.70" y="240.17" width="6.23" height="5.14" fill="#c02f00"/>
<rect x="488.93" y="240.17" width="6.23" height="5.14" fill="#c83b00"/>
<rect x="495.16" y="240.17" width="6.23" height="5.14" fill="#cd4400"/>
<rect x="501.39" y="240.17" width="6.23" height="5.14" fill="#d45400"/>
<rect x="507.62" y="240.17" width="6.23" height="5.14" fill="#dd6d00"/>
<rect x="513.84" y="240.17" width="6.23" height="5.14" fill="#e48200"/>
<rect x="520.07" y="240.17" width="3.93" height="5.14" fill="#e68a00"/>
<rect x="75.00" y="245.31" width="2.81" height="5.14" fill="#d96000"/>
<rect x="77.81" y="245.31" width="6.23" height="5.14" fill="#dd6d00"/>
<rect x="84.04" y="245.31" width="6.23" height="5.14" fill="#e27b00"/>
<rect x="90.27" y="245.31" width="6.23" height="5.14" fill="#e89200"/>
<rect x="96.50" y="245.31" width="6.23" height="5.14" fill="#e48200"/>
<rect x="102.73" y="245.31" width="6.23" height="5.14" fill="#d96000"/>
<rect x="108.96" y="245.31" width="6.23" height="5.14" fill="#df7400"/>
<rect x="115.19" y="245.31" width="6.23" height="5.14" fill="#db6600"/>
<rect x="121.42" y="245.31" width="6.23" height="5.14" fill="#d45400"/>
<rect x="127.65" y="245.31" width="6.23" height="5.14" fill="#cd4400"/>
<rect x="133.88" y="245.31" width="31.15" height="5.14" fill="#ca4000"/>
<rect x="165.02" y="245.31" width="6.23" height="5.14" fill="#c83b00"/>
<rect x="171.25" y="245.31" width="6.23" height="5.14" fill="#c53700"/>
<rect x="177.48" y="245.31" width="6.23" height="5.14" fill="#c02f00"/>
<rect x="183.71" y="245.31" width="6.23" height="5.14" fill="#be2b00"/>
<rect x="189.94" y="245.31" width="6.23" height="5.14" fill="#b62100"/>
<rect x="196.17" y="245.31" width="6.23" height="5.14" fill="#980bcb"/>
<rect x="202.39" y="245.31" width="6.23" height="5.14" fill="#9109e5"/>
<rect x="208.62" y="245.31" width="6.23" height="5.14" fill="#8a06f6"/>
<rect x="214.85" y="245.31" width="6.23" height="5.14" fill="#8205fe"/>
<rect x="221.08" y="245.31" width="6.23" height="5.14" fill="#7a03fd"/>
<rect x="227.31" y="245.31" width="6.23" height="5.14" fill="#7202f2"/>
<rect x="233.54" y="245.31" width="6.23" height="5.14" fill="#6d02ea"/>
<rect x="239.77" y="245.31" width="6.23" height="5.14" fill="#7a03fd"/>
<rect x="246.00" y="245.31" width="12.46" height="5.14" fill="#7e04ff"/>
<rect x="258.46" y="245.31" width="18.69" height="5.14" fill="#7202f2"/>
<rect x="277.14" y="245.31" width="6.23" height="5.14" fill="#7102f0"/>
<rect x="283.37" y="245.31" width="6.23" height="5.14" fill="#7002ee"/>
<rect x="289.60" y="245.31" width="6.23" height="5.14" fill="#7603f9"/>
<rect x="295.83" y="245.31" width="6.23" height="5.14" fill="#7202f2"/>
<rect x="302.06" y="245.31" width="6.23" height="5.14" fill="#7603f9"/>
<rect x="308.29" y="245.31" width="6.23" height="5.14" fill="#7a03fd"/>
<rect x="314.52" y="245.31" width="18.69" height="5.14" fill="#7e04ff"/>
<rect x="333.20" y="245.31" width="6.23" height="5.14" fill="#7a03fd"/>
<rect x="339.43" y="245.31" width="6.23" height="5.14" fill="#7603f9"/>
<rect x="345.66" y="245.31" width="12.46" height="5.14" fill="#6d02ea"/>
<rect x="358.12" y="245.31" width="6.23" height="5.14" fill="#6901df"/>
<rect x="364.35" y="245.31" width="6.23" height="5.14" fill="#6401d2"/>
<rect x="370.58" y="245.31" width="6.23" height="5.14" fill="#5f01c3"/>
<rect x="376.81" y="245.31" width="12.46" height="5.14" fill="#5900b2"/>
<rect x="389.26" y="245.31" width="18.69" height="5.14" fill="#54009f"/>
<rect x="407.95" y="245.31" width="6.23" height="5.14" fill="#5900b2"/>
<rect x="414.18" y="245.31" width="6.23" height="5.14" fill="#6901df"/>
<rect x="420.41" y="245.31" width="6.23" height="5.14" fill="#7603f9"/>
<rect x="426.64" y="245.31" width="6.23" height="5.14" fill="#7e04ff"/>
<rect x="432.87" y="245.31" width="6.23" height="5.14" fill="#8605fb"/>
<rect x="439.10" y="245.31" width="6.23" height="5.14" fill="#9109e5"/>
<rect x="445.33" y="245.31" width="6.23" height="5.14" fill="#940ad9"/>
<rect x="451.55" y="245.31" width="6.23" height="5.14" fill="#980bcb"/>
<rect x="457.78" y="245.31" width="6.23" height="5.14" fill="#9b0dbb"/>
<rect x="464.01" y="245.31" width="6.23" height="5.14" fill="#9e0eaa"/>
<rect x="470.24" y="245.31" width="6.23" height="5.14" fill="#a7146c"/>
<rect x="476.47" y="245.31" width="6.23" height="5.14" fill="#b01c26"/>
<rect x="482.70" y="245.31" width="6.23" height="5.14" fill="#b82400"/>
<rect x="488.93" y="245.31" width="6.23" height="5.14" fill="#c02f00"/>
<rect x="495.16" y="245.31" width="6.23" height="5.14" fill="#c53700"/>
<rect x="501.39" y="245.31" width="6.23" height="5.14" fill="#cd4400"/>
<rect x="507.62" y="245.31" width="6.23" height="5.14" fill="#d45400"/>
<rect x="513.84" y="245.31" width="6.23" height="5.14" fill="#db6600"/>
<rect x="520.07" y="245.31" width="3.93" height="5.14" fill="#dd6d00"/>
<rect x="75.00" y="250.44" width="2.81" height="5.14" fill="#d45400"/>
<rect x="77.81" y="250.44" width="6.23" height="5.14" fill="#d65a00"/>
<rect x="84.04" y="250.44" width="6.23" height="5.14" fill="#d96000"/>
<rect x="90.27" y="250.44" width="6.23" height="5.14" fill="#d45400"/>
<rect x="96.50" y="250.44" width="6.23" height="5.14" fill="#d24f00"/>
<rect x="102.73" y="250.44" width="6.23" height="5.14" fill="#d45400"/>
<rect x="108.96" y="250.44" width="6.23" height="5.14" fill="#d65a00"/>
<rect x="115.19" y="250.44" width="6.23" height="5.14" fill="#d24f00"/>
<rect x="121.42" y="250.44" width="6.23" height="5.14" fill="#cf4900"/>
<rect x="127.65" y="250.44" width="6.23" height="5.14" fill="#ca4000"/>
<rect x="133.88" y="250.44" width="18.69" height="5.14" fill="#c83b00"/>
<rect x="152.56" y="250.44" width="6.23" height="5.14" fill="#c53700"/>
<rect x="158.79" y="250.44" width="6.23" height="5.14" fill="#c33300"/>
<rect x="165.02" y="250.44" width="6.23" height="5.14" fill="#c02f00"/>
<rect x="171.25" y="250.44" width="6.23" height="5.14" fill="#be2b00"/>
<rect x="177.48" y="250.44" width="6.23" height="5.14" fill="#b82400"/>
<rect x="183.71" y="250.44" width="6.23" height="5.14" fill="#b31e0e"/>
<rect x="189.94" y="250.44" width="6.23" height="5.14" fill="#a41282"/>
<rect x="196.17" y="250.44" width="6.23" height="5.14" fill="#940ad9"/>
<rect x="202.39" y="250.44" width="6.23" height="5.14" fill="#9109e5"/>
<rect x="208.62" y="250.44" width="6.23" height="5.14" fill="#8d07ef"/>
<rect x="214.85" y="250.44" width="6.23" height="5.14" fill="#8605fb"/>
<rect x="221.08" y="250.44" width="6.23" height="5.14" fill="#7e04ff"/>
<rect x="227.31" y="250.44" width="12.46" height="5.14" fill="#7603f9"/>
<rect x="239.77" y="250.44" width="12.46" height="5.14" fill="#7e04ff"/>
<rect x="252.23" y="250.44" width="6.23" height="5.14" fill="#7a03fd"/>
<rect x="258.46" y="250.44" width="18.69" height="5.14" fill="#6d02ea"/>
<rect x="277.14" y="250.44" width="6.23" height="5.14" fill="#7002ee"/>
<rect x="283.37" y="250.44" width="12.46" height="5.14" fill="#6d02ea"/>
<rect x="295.83" y="250.44" width="6.23" height="5.14" fill="#6601d8"/>
<rect x="302.06" y="250.44" width="6.23" height="5.14" fill="#6b01e4"/>
<rect x="308.29" y="250.44" width="6.23" height="5.14" fill="#7002ee"/>
<rect x="314.52" y="250.44" width="6.23" height="5.14" fill="#7402f6"/>
<rect x="320.75" y="250.44" width="6.23" height="5.14" fill="#7e04ff"/>
<rect x="326.97" y="250.44" width="6.23" height="5.14" fill="#7c03fe"/>
<rect x="333.20" y="250.44" width="6.23" height="5.14" fill="#7a03fd"/>
<rect x="339.43" y="250.44" width="6.23" height="5.14" fill="#7603f9"/>
<rect x="345.66" y="250.44" width="6.23" height="5.14" fill="#7202f2"/>
<rect x="351.89" y="250.44" width="6.23" height="5.14" fill="#6901df"/>
<rect x="358.12" y="250.44" width="6.23" height="5.14" fill="#6401d2"/>
<rect x="364.35" y="250.44" width="6.23" height="5.14" fill="#5f01c3"/>
<rect x="370.58" y="250.44" width="6.23" height="5.14" fill="#5900b2"/>
<rect x="376.81" y="250.44" width="6.23" height="5.14" fill="#54009f"/>
<rect x="383.04" y="250.44" width="6.23" height="5.14" fill="#4d008c"/>
<rect x="389.26" y="250.44" width="18.69" height="5.14" fill="#54009f"/>
<rect x="407.95" y="250.44" width="6.23" height="5.14" fill="#5900b2"/>
<rect x="414.18" y="250.44" width="6.23" height="5.14" fill="#6901df"/>
<rect x="420.41" y="250.44" width="6.23" height="5.14" fill="#7603f9"/>
<rect x="426.64" y="250.44" width="6.23" height="5.14" fill="#7e04ff"/>
<rect x="432.87" y="250.44" width="6.23" height="5.14" fill="#8205fe"/>
<rect x="439.10" y="250.44" width="6.23" height="5.14" fill="#8a06f6"/>
<rect x="445.33" y="250.44" width="6.23" height="5.14" fill="#8d07ef"/>
<rect x="451.55" y="250.44" width="6.23" height="5.14" fill="#940ad9"/>
<rect x="457.78" y="250.44" width="6.23" height="5.14" fill="#980bcb"/>
<rect x="464.01" y="250.44" width="6.23" height="5.14" fill="#9b0dbb"/>
<rect x="470.24" y="250.44" width="6.23" height="5.14" fill="#a11097"/>
<rect x="476.47" y="250.44" width="6.23" height="5.14" fill="#a7146c"/>
<rect x="482.70" y="250.44" width="6.23" height="5.14" fill="#b01c26"/>
<rect x="488.93" y="250.44" width="6.23" height="5.14" fill="#b82400"/>
<rect x="495.16" y="250.44" width="6.23" height="5.14" fill="#be2b00"/>
<rect x="501.39" y="250.44" width="6.23" height="5.14" fill="#c53700"/>
<rect x="507.62" y="250.44" width="6.23" height="5.14" fill="#ca4000"/>
<rect x="513.84" y="250.44" width="6.23" height="5.14" fill="#d24f00"/>
<rect x="520.07" y="250.44" width="3.93" height="5.14" fill="#d45400"/>
<rect x="75.00" y="255.58" width="40.19" height="5.14" fill="#c53700"/>
<rect x="115.19" y="255.58" width="6.23" height="5.14" fill="#c33300"/>
<rect x="121.42" y="255.58" width="6.23" height="5.14" fill="#c53700"/>
<rect x="127.65" y="255.58" width="12.46" height="5.14" fill="#c83b00"/>
<rect x="140.10" y="255.58" width="18.69" height="5.14" fill="#c53700"/>
<rect x="158.79" y="255.58" width="6.23" height="5.14" fill="#c33300"/>
<rect x="165.02" y="255.58" width="6.23" height="5.14" fill="#c02f00"/>
<rect x="171.25" y="255.58" width="6.23" height="5.14" fill="#bb2800"/>
<rect x="177.48" y="255.58" width="6.23" height="5.14" fill="#b62100"/>
<rect x="183.71" y="255.58" width="6.23" height="5.14" fill="#a41282"/>
<rect x="189.94" y="255.58" width="18.69" height="5.14" fill="#980bcb"/>
<rect x="208.62" y="255.58" width="6.23" height="5.14" fill="#9109e5"/>
<rect x="214.85" y="255.58" width="6.23" height="5.14" fill="#8a06f6"/>
<rect x="221.08" y="255.58" width="6.23" height="5.14" fill="#8605fb"/>
<rect x="227.31" y="255.58" width="6.23" height="5.14" fill="#8205fe"/>
<rect x="233.54" y="255.58" width="6.23" height="5.14" fill="#7e04ff"/>
<rect x="239.77" y="255.58" width="12.46" height="5.14" fill="#8205fe"/>
<rect x="252.23" y="255.58" width="6.23" height="5.14" fill="#7603f9"/>
<rect x="258.46" y="255.58" width="6.23" height="5.14" fill="#6d02ea"/>
<rect x="264.68" y="255.58" width="12.46" height="5.14" fill="#6901df"/>
<rect x="277.14" y="255.58" width="6.23" height="5.14" fill="#6c01e7"/>
<rect x="283.37" y="255.58" width="6.23" height="5.14" fill="#6b01e4"/>
<rect x="289.60" y="255.58" width="6.23" height="5.14" fill="#6801dc"/>
<rect x="295.83" y="255.58" width="6.23" height="5.14" fill="#5c01bb"/>
<rect x="302.06" y="255.58" width="6.23" height="5.14" fill="#6001c7"/>
<rect x="308.29" y="255.58" width="6.23" height="5.14" fill="#6401d2"/>
<rect x="314.52" y="255.58" width="6.23" height="5.14" fill="#6801dc"/>
<rect x="320.75" y="255.58" width="18.69" height="5.14" fill="#7202f2"/>
<rect x="339.43" y="255.58" width="6.23" height="5.14" fill="#7002ee"/>
<rect x="345.66" y="255.58" width="6.23" height="5.14" fill="#6d02ea"/>
<rect x="351.89" y="255.58" width="6.23" height="5.14" fill="#6901df"/>
<rect x="358.12" y="255.58" width="6.23" height="5.14" fill="#6401d2"/>
<rect x="364.35" y="255.58" width="6.23" height="5.14" fill="#5f01c3"/>
<rect x="370.58" y="255.58" width="6.23" height="5.14" fill="#54009f"/>
<rect x="376.81" y="255.58" width="12.46" height="5.14" fill="#470076"/>
<rect x="389.26" y="255.58" width="6.23" height="5.14" fill="#4d008c"/>
<rect x="395.49" y="255.58" width="12.46" height="5.14" fill="#54009f"/>
<rect x="407.95" y="255.58" width="6.23" height="5.14" fill="#5900b2"/>
<rect x="414.18" y="255.58" width="6.23" height="5.14" fill="#6401d2"/>
<rect x="420.41" y="255.58" width="6.23" height="5.14" fill="#7202f2"/>
<rect x="426.64" y="255.58" width="12.46" height="5.14" fill="#7e04ff"/>
<rect x="439.10" y="255.58" width="6.23" height="5.14" fill="#8205fe"/>
<rect x="445.33" y="255.58" width="6.23" height="5.14" fill="#8605fb"/>
<rect x="451.55" y="255.58" width="6.23" height="5.14" fill="#8d07ef"/>
<rect x="457.78" y="255.58" width="6.23" height="5.14" fill="#940ad9"/>
<rect x="464.01" y="255.58" width="6.23" height="5.14" fill="#980bcb"/>
<rect x="470.24" y="255.58" width="6.23" height="5.14" fill="#9b0dbb"/>
<rect x="476.47" y="255.58" width="6.23" height="5.14" fill="#a11097"/>
<rect x="482.70" y="255.58" width="6.23" height="5.14" fill="#a7146c"/>
<rect x="488.93" y="255.58" width="6.23" height="5.14" fill="#ad193e"/>
<rect x="495.16" y="255.58" width="6.23" height="5.14" fill="#b62100"/>
<rect x="501.39" y="255.58" width="6.23" height="5.14" fill="#be2b00"/>
<rect x="507.62" y="255.58" width="6.23" height="5.14" fill="#c02f00"/>
<rect x="513.84" y="255.58" width="6.23" height="5.14" fill="#c33300"/>
<rect x="520.07" y="255.58" width="3.93" height="5.14" fill="#c53700"/>
<rect x="75.00" y="260.72" width="2.81" height="5.14" fill="#b62100"/>
<rect x="77.81" y="260.72" width="6.23" height="5.14" fill="#b82400"/>
<rect x="84.04" y="260.72" width="37.37" height="5.14" fill="#bb2800"/>
<rect x="121.42" y="260.72" width="6.23" height="5.14" fill="#be2b00"/>
<rect x="127.65" y="260.72" width="6.23" height="5.14" fill="#c02f00"/>
<rect x="133.88" y="260.72" width="6.23" height="5.14" fill="#c53700"/>
<rect x="140.10" y="260.72" width="12.46" height="5.14" fill="#c33300"/>
<rect x="152.56" y="260.72" width="12.46" height="5.14" fill="#c53700"/>
<rect x="165.02" y="260.72" width="6.23" height="5.14" fill="#c02f00"/>
<rect x="171.25" y="260.72" width="6.23" height="5.14" fill="#b82400"/>
<rect x="177.48" y="260.72" width="6.23" height="5.14" fill="#ad193e"/>
<rect x="183.71" y="260.72" width="6.23" height="5.14" fill="#9b0dbb"/>
<rect x="189.94" y="260.72" width="6.23" height="5.14" fill="#9109e5"/>
<rect x="196.17" y="260.72" width="12.46" height="5.14" fill="#9e0eaa"/>
<rect x="208.62" y="260.72" width="6.23" height="5.14" fill="#9b0dbb"/>
<rect x="214.85" y="260.72" width="6.23" height="5.14" fill="#940ad9"/>
<rect x="221.08" y="260.72" width="6.23" height="5.14" fill="#9109e5"/>
<rect x="227.31" y="260.72" width="6.23" height="5.14" fill="#8a06f6"/>
<rect x="233.54" y="260.72" width="12.46" height="5.14" fill="#8605fb"/>
<rect x="246.00" y="260.72" width="6.23" height="5.14" fill="#8205fe"/>
<rect x="252.23" y="260.72" width="6.23" height="5.14" fill="#7603f9"/>
<rect x="258.46" y="260.72" width="12.46" height="5.14" fill="#6901df"/>
<rect x="270.91" y="260.72" width="6.23" height="5.14" fill="#6401d2"/>
<rect x="277.14" y="260.72" width="12.46" height="5.14" fill="#6901df"/>
<rect x="289.60" y="260.72" width="6.23" height="5.14" fill="#6101ca"/>
<rect x="295.83" y="260.72" width="6.23" height="5.14" fill="#510096"/>
<rect x="302.06" y="260.72" width="6.23" height="5.14" fill="#54009f"/>
<rect x="308.29" y="260.72" width="6.23" height="5.14" fill="#5700a9"/>
<rect x="314.52" y="260.72" width="6.23" height="5.14" fill="#5900b2"/>
<rect x="320.75" y="260.72" width="6.23" height="5.14" fill="#6401d2"/>
<rect x="326.97" y="260.72" width="6.23" height="5.14" fill="#6601d8"/>
<rect x="333.20" y="260.72" width="18.69" height="5.14" fill="#6901df"/>
<rect x="351.89" y="260.72" width="12.46" height="5.14" fill="#6401d2"/>
<rect x="364.35" y="260.72" width="6.23" height="5.14" fill="#5f01c3"/>
<rect x="370.58" y="260.72" width="6.23" height="5.14" fill="#54009f"/>
<rect x="376.81" y="260.72" width="6.23" height="5.14" fill="#3f0060"/>
<rect x="383.04" y="260.72" width="6.23" height="5.14" fill="#470076"/>
<rect x="389.26" y="260.72" width="18.69" height="5.14" fill="#4d008c"/>
<rect x="407.95" y="260.72" width="6.23" height="5.14" fill="#54009f"/>
<rect x="414.18" y="260.72" width="6.23" height="5.14" fill="#6401d2"/>
<rect x="420.41" y="260.72" width="6.23" height="5.14" fill="#7202f2"/>
<rect x="426.64" y="260.72" width="12.46" height="5.14" fill="#7a03fd"/>
<rect x="439.10" y="260.72" width="6.23" height="5.14" fill="#7e04ff"/>
<rect x="445.33" y="260.72" width="6.23" height="5.14" fill="#8205fe"/>
<rect x="451.55" y="260.72" width="6.23" height="5.14" fill="#8605fb"/>
<rect x="457.78" y="260.72" width="6.23" height="5.14" fill="#8d07ef"/>
<rect x="464.01" y="260.72" width="6.23" height="5.14" fill="#940ad9"/>
<rect x="470.24" y="260.72" width="6.23" height="5.14" fill="#980bcb"/>
<rect x="476.47" y="260.72" width="6.23" height="5.14" fill="#9e0eaa"/>
<rect x="482.70" y="260.72" width="6.23" height="5.14" fill="#a11097"/>
<rect x="488.93" y="260.72" width="6.23" height="5.14" fill="#a41282"/>
<rect x="495.16" y="260.72" width="6.23" height="5.14" fill="#aa1756"/>
<rect x="501.39" y="260.72" width="6.23" height="5.14" fill="#b01c26"/>
<rect x="507.62" y="260.72" width="6.23" height="5.14" fill="#b31e0e"/>
<rect x="513.84" y="260.72" width="6.23" height="5.14" fill="#b62100"/>
<rect x="520.07" y="260.72" width="3.93" height="5.14" fill="#b82400"/>
<rect x="75.00" y="265.86" width="2.81" height="5.14" fill="#9e0eaa"/>
<rect x="77.81" y="265.86" width="6.23" height="5.14" fill="#a11097"/>
<rect x="84.04" y="265.86" width="12.46" height="5.14" fill="#a41282"/>
<rect x="96.50" y="265.86" width="6.23" height="5.14" fill="#a7146c"/>
<rect x="102.73" y="265.86" width="6.23" height="5.14" fill="#aa1756"/>
<rect x="108.96" y="265.86" width="6.23" height="5.14" fill="#ad193e"/>
<rect x="115.19" y="265.86" width="6.23" height="5.14" fill="#b01c26"/>
<rect x="121.42" y="265.86" width="6.23" height="5.14" fill="#b31e0e"/>
<rect x="127.65" y="265.86" width="6.23" height="5.14" fill="#b62100"/>
<rect x="133.88" y="265.86" width="6.23" height="5.14" fill="#b31e0e"/>
<rect x="140.10" y="265.86" width="6.23" height="5.14" fill="#be2b00"/>
<rect x="146.33" y="265.86" width="6.23" height="5.14" fill="#c02f00"/>
<rect x="152.56" y="265.86" width="6.23" height="5.14" fill="#c53700"/>
<rect x="158.79" y="265.86" width="12.46" height="5.14" fill="#c83b00"/>
<rect x="171.25" y="265.86" width="6.23" height="5.14" fill="#bb2800"/>
<rect x="177.48" y="265.86" width="6.23" height="5.14" fill="#b01c26"/>
<rect x="183.71" y="265.86" width="6.23" height="5.14" fill="#a11097"/>
<rect x="189.94" y="265.86" width="6.23" height="5.14" fill="#980bcb"/>
<rect x="196.17" y="265.86" width="6.23" height="5.14" fill="#aa1756"/>
<rect x="202.39" y="265.86" width="6.23" height="5.14" fill="#a41282"/>
<rect x="208.62" y="265.86" width="6.23" height="5.14" fill="#9e0eaa"/>
<rect x="214.85" y="265.86" width="6.23" height="5.14" fill="#9b0dbb"/>
<rect x="221.08" y="265.86" width="6.23" height="5.14" fill="#980bcb"/>
<rect x="227.31" y="265.86" width="6.23" height="5.14" fill="#9109e5"/>
<rect x="233.54" y="265.86" width="6.23" height="5.14" fill="#8605fb"/>
<rect x="239.77" y="265.86" width="6.23" height="5.14" fill="#7e04ff"/>
<rect x="246.00" y="265.86" width="6.23" height="5.14" fill="#7a03fd"/>
<rect x="252.23" y="265.86" width="6.23" height="5.14" fill="#7202f2"/>
<rect x="258.46" y="265.86" width="6.23" height="5.14" fill="#6901df"/>
<rect x="264.68" y="265.86" width="12.46" height="5.14" fill="#5f01c3"/>
<rect x="277.14" y="265.86" width="6.23" height="5.14" fill="#6501d5"/>
<rect x="283.37" y="265.86" width="6.23" height="5.14" fill="#6401d2"/>
<rect x="289.60" y="265.86" width="6.23" height="5.14" fill="#5d01bf"/>
<rect x="295.83" y="265.86" width="6.23" height="5.14" fill="#4d008c"/>
<rect x="302.06" y="265.86" width="6.23" height="5.14" fill="#510096"/>
<rect x="308.29" y="265.86" width="6.23" height="5.14" fill="#54009f"/>
<rect x="314.52" y="265.86" width="6.23" height="5.14" fill="#5700a9"/>
<rect x="320.75" y="265.86" width="6.23" height="5.14" fill="#6101ca"/>
<rect x="326.97" y="265.86" width="6.23" height="5.14" fill="#6401d2"/>
<rect x="333.20" y="265.86" width="6.23" height="5.14" fill="#6601d8"/>
<rect x="339.43" y="265.86" width="6.23" height="5.14" fill="#6501d5"/>
<rect x="345.66" y="265.86" width="12.46" height="5.14" fill="#6401d2"/>
<rect x="358.12" y="265.86" width="12.46" height="5.14" fill="#5f01c3"/>
<rect x="370.58" y="265.86" width="6.23" height="5.14" fill="#5900b2"/>
<rect x="376.81" y="265.86" width="12.46" height="5.14" fill="#4d008c"/>
<rect x="389.26" y="265.86" width="12.46" height="5.14" fill="#470076"/>
<rect x="401.72" y="265.86" width="6.23" height="5.14" fill="#4d008c"/>
<rect x="407.95" y="265.86" width="6.23" height="5.14" fill="#54009f"/>
<rect x="414.18" y="265.86" width="6.23" height="5.14" fill="#6401d2"/>
<rect x="420.41" y="265.86" width="6.23" height="5.14" fill="#6d02ea"/>
<rect x="426.64" y="265.86" width="6.23" height="5.14" fill="#7a03fd"/>
<rect x="432.87" y="265.86" width="6.23" height="5.14" fill="#7603f9"/>
<rect x="439.10" y="265.86" width="6.23" height="5.14" fill="#7a03fd"/>
<rect x="445.33" y="265.86" width="6.23" height="5.14" fill="#7e04ff"/>
<rect x="451.55" y="265.86" width="6.23" height="5.14" fill="#8205fe"/>
<rect x="457.78" y="265.86" width="6.23" height="5.14" fill="#8605fb"/>
<rect x="464.01" y="265.86" width="6.23" height="5.14" fill="#8d07ef"/>
<rect x="470.24" y="265.86" width="6.23" height="5.14" fill="#940ad9"/>
<rect x="476.47" y="265.86" width="6.23" height="5.14" fill="#980bcb"/>
<rect x="482.70" y="265.86" width="6.23" height="5.14" fill="#9b0dbb"/>
<rect x="488.93" y="265.86" width="6.23" height="5.14" fill="#9e0eaa"/>
<rect x="495.16" y="265.86" width="6.23" height="5.14" fill="#a11097"/>
<rect x="501.39" y="265.86" width="6.23" height="5.14" fill="#a7146c"/>
<rect x="507.62" y="265.86" width="6.23" height="5.14" fill="#aa1756"/>
<rect x="513.84" y="265.86" width="6.23" height="5.14" fill="#ad193e"/>
<rect x="520.07" y="265.86" width="3.93" height="5.14" fill="#b01c26"/>
<rect x="75.00" y="270.99" width="9.04" height="5.14" fill="#980bcb"/>
<rect x="84.04" y="270.99" width="6.23" height="5.14" fill="#940ad9"/>
<rect x="90.27" y="270.99" width="6.23" height="5.14" fill="#980bcb"/>
<rect x="96.50" y="270.99" width="6.23" height="5.14" fill="#9e0eaa"/>
<rect x="102.73" y="270.99" width="6.23" height="5.14" fill="#a41282"/>
<rect x="108.96" y="270.99" width="12.46" height="5.14" fill="#a7146c"/>
<rect x="121.42" y="270.99" width="6.23" height="5.14" fill="#ad193e"/>
<rect x="127.65" y="270.99" width="6.23" height="5.14" fill="#b01c26"/>
<rect x="133.88" y="270.99" width="6.23" height="5.14" fill="#b31e0e"/>
<rect x="140.10" y="270.99" width="6.23" height="5.14" fill="#b62100"/>
<rect x="146.33" y="270.99" width="6.23" height="5.14" fill="#bb2800"/>
<rect x="152.56" y="270.99" width="6.23" height="5.14" fill="#c33300"/>
<rect x="158.79" y="270.99" width="6.23" height="5.14" fill="#c83b00"/>
<rect x="165.02" y="270.99" width="12.46" height="5.14" fill="#ca4000"/>
<rect x="177.48" y="270.99" width="6.23" height="5.14" fill="#c53700"/>
<rect x="183.71" y="270.99" width="6.23" height="5.14" fill="#be2b00"/>
<rect x="189.94" y="270.99" width="6.23" height="5.14" fill="#aa1756"/>
<rect x="196.17" y="270.99" width="6.23" height="5.14" fill="#b62100"/>
<rect x="202.39" y="270.99" width="6.23" height="5.14" fill="#aa1756"/>
<rect x="208.62" y="270.99" width="6.23" height="5.14" fill="#9e0eaa"/>
<rect x="214.85" y="270.99" width="6.23" height="5.14" fill="#980bcb"/>
<rect x="221.08" y="270.99" width="6.23" height="5.14" fill="#940ad9"/>
<rect x="227.31" y="270.99" width="6.23" height="5.14" fill="#8d07ef"/>
<rect x="233.54" y="270.99" width="6.23" height="5.14" fill="#8205fe"/>
<rect x="239.77" y="270.99" width="6.23" height="5.14" fill="#7a03fd"/>
<rect x="246.00" y="270.99" width="6.23" height="5.14" fill="#7603f9"/>
<rect x="252.23" y="270.99" width="6.23" height="5.14" fill="#6d02ea"/>
<rect x="258.46" y="270.99" width="6.23" height="5.14" fill="#6901df"/>
<rect x="264.68" y="270.99" width="6.23" height="5.14" fill="#5f01c3"/>
<rect x="270.91" y="270.99" width="6.23" height="5.14" fill="#5900b2"/>
<rect x="277.14" y="270.99" width="6.23" height="5.14" fill="#6101ca"/>
<rect x="283.37" y="270.99" width="6.23" height="5.14" fill="#5f01c3"/>
<rect x="289.60" y="270.99" width="6.23" height="5.14" fill="#5900b2"/>
<rect x="295.83" y="270.99" width="6.23" height="5.14" fill="#4a0081"/>
<rect x="302.06" y="270.99" width="6.23" height="5.14" fill="#4d008c"/>
<rect x="308.29" y="270.99" width="6.23" height="5.14" fill="#510096"/>
<rect x="314.52" y="270.99" width="6.23" height="5.14" fill="#54009f"/>
<rect x="320.75" y="270.99" width="6.23" height="5.14" fill="#5f01c3"/>
<rect x="326.97" y="270.99" width="6.23" height="5.14" fill="#6101ca"/>
<rect x="333.20" y="270.99" width="6.23" height="5.14" fill="#6401d2"/>
<rect x="339.43" y="270.99" width="6.23" height="5.14" fill="#6101ca"/>
<rect x="345.66" y="270.99" width="18.69" height="5.14" fill="#5f01c3"/>
<rect x="364.35" y="270.99" width="12.46" height="5.14" fill="#5900b2"/>
<rect x="376.81" y="270.99" width="6.23" height="5.14" fill="#54009f"/>
<rect x="383.04" y="270.99" width="6.23" height="5.14" fill="#470076"/>
<rect x="389.26" y="270.99" width="6.23" height="5.14" fill="#370049"/>
<rect x="395.49" y="270.99" width="6.23" height="5.14" fill="#3f0060"/>
<rect x="401.72" y="270.99" width="6.23" height="5.14" fill="#470076"/>
<rect x="407.95" y="270.99" width="6.23" height="5.14" fill="#54009f"/>
<rect x="414.18" y="270.99" width="6.23" height="5.14" fill="#5f01c3"/>
<rect x="420.41" y="270.99" width="6.23" height="5.14" fill="#6d02ea"/>
<rect x="426.64" y="270.99" width="12.46" height="5.14" fill="#7a03fd"/>
<rect x="439.10" y="270.99" width="6.23" height="5.14" fill="#7e04ff"/>
<rect x="445.33" y="270.99" width="6.23" height="5.14" fill="#8205fe"/>
<rect x="451.55" y="270.99" width="6.23" height="5.14" fill="#8605fb"/>
<rect x="457.78" y="270.99" width="6.23" height="5.14" fill="#8a06f6"/>
<rect x="464.01" y="270.99" width="6.23" height="5.14" fill="#8d07ef"/>
<rect x="470.24" y="270.99" width="6.23" height="5.14" fill="#9109e5"/>
<rect x="476.47" y="270.99" width="6.23" height="5.14" fill="#9309df"/>
<rect x="482.70" y="270.99" width="6.23" height="5.14" fill="#940ad9"/>
<rect x="488.93" y="270.99" width="6.23" height="5.14" fill="#960bd2"/>
<rect x="495.16" y="270.99" width="6.23" height="5.14" fill="#980bcb"/>
<rect x="501.39" y="270.99" width="6.23" height="5.14" fill="#9b0dbb"/>
<rect x="507.62" y="270.99" width="6.23" height="5.14" fill="#9e0eaa"/>
<rect x="513.84" y="270.99" width="6.23" height="5.14" fill="#a00fa0"/>
<rect x="520.07" y="270.99" width="3.93" height="5.14" fill="#a11097"/>
<rect x="75.00" y="276.13" width="2.81" height="5.14" fill="#8a06f6"/>
<rect x="77.81" y="276.13" width="12.46" height="5.14" fill="#8d07ef"/>
<rect x="90.27" y="276.13" width="6.23" height="5.14" fill="#9109e5"/>
<rect x="96.50" y="276.13" width="6.23" height="5.14" fill="#940ad9"/>
<rect x="102.73" y="276.13" width="6.23" height="5.14" fill="#9b0dbb"/>
<rect x="108.96" y="276.13" width="6.23" height="5.14" fill="#9e0eaa"/>
<rect x="115.19" y="276.13" width="6.23" height="5.14" fill="#a11097"/>
<rect x="121.42" y="276.13" width="6.23" height="5.14" fill="#a7146c"/>
<rect x="127.65" y="276.13" width="6.23" height="5.14" fill="#ad193e"/>
<rect x="133.88" y="276.13" width="6.23" height="5.14" fill="#a7146c"/>
<rect x="140.10" y="276.13" width="6.23" height="5.14" fill="#aa1756"/>
<rect x="146.33" y="276.13" width="6.23" height="5.14" fill="#b01c26"/>
<rect x="152.56" y="276.13" width="6.23" height="5.14" fill="#b82400"/>
<rect x="158.79" y="276.13" width="6.23" height="5.14" fill="#be2b00"/>
<rect x="165.02" y="276.13" width="6.23" height="5.14" fill="#c83b00"/>
<rect x="171.25" y="276.13" width="6.23" height="5.14" fill="#cd4400"/>
<rect x="177.48" y="276.13" width="6.23" height="5.14" fill="#ca4000"/>
<rect x="183.71" y="276.13" width="6.23" height="5.14" fill="#c53700"/>
<rect x="189.94" y="276.13" width="6.23" height="5.14" fill="#b82400"/>
<rect x="196.17" y="276.13" width="6.23" height="5.14" fill="#b62100"/>
<rect x="202.39" y="276.13" width="6.23" height="5.14" fill="#ad193e"/>
<rect x="208.62" y="276.13" width="6.23" height="5.14" fill="#9b0dbb"/>
<rect x="214.85" y="276.13" width="6.23" height="5.14" fill="#9109e5"/>
<rect x="221.08" y="276.13" width="6.23" height="5.14" fill="#8a06f6"/>
<rect x="227.31" y="276.13" width="6.23" height="5.14" fill="#8205fe"/>
<rect x="233.54" y="276.13" width="6.23" height="5.14" fill="#6d02ea"/>
<rect x="239.77" y="276.13" width="12.46" height="5.14" fill="#6901df"/>
<rect x="252.23" y="276.13" width="6.23" height="5.14" fill="#6401d2"/>
<rect x="258.46" y="276.13" width="6.23" height="5.14" fill="#5f01c3"/>
<rect x="264.68" y="276.13" width="6.23" height="5.14" fill="#5900b2"/>
<rect x="270.91" y="276.13" width="12.46" height="5.14" fill="#54009f"/>
<rect x="283.37" y="276.13" width="12.46" height="5.14" fill="#4d008c"/>
<rect x="295.83" y="276.13" width="18.69" height="5.14" fill="#43006b"/>
<rect x="314.52" y="276.13" width="6.23" height="5.14" fill="#4a0081"/>
<rect x="320.75" y="276.13" width="12.46" height="5.14" fill="#5900b2"/>
<rect x="333.20" y="276.13" width="6.23" height="5.14" fill="#54009f"/>
<rect x="339.43" y="276.13" width="12.46" height="5.14" fill="#4d008c"/>
<rect x="351.89" y="276.13" width="6.23" height="5.14" fill="#54009f"/>
<rect x="358.12" y="276.13" width="6.23" height="5.14" fill="#5800ae"/>
<rect x="364.35" y="276.13" width="6.23" height="5.14" fill="#54009f"/>
<rect x="370.58" y="276.13" width="12.46" height="5.14" fill="#4d008c"/>
<rect x="383.04" y="276.13" width="6.23" height="5.14" fill="#470076"/>
<rect x="389.26" y="276.13" width="12.46" height="5.14" fill="#370049"/>
<rect x="401.72" y="276.13" width="6.23" height="5.14" fill="#3f0060"/>
<rect x="407.95" y="276.13" width="6.23" height="5.14" fill="#4a0081"/>
<rect x="414.18" y="276.13" width="6.23" height="5.14" fill="#54009f"/>
<rect x="420.41" y="276.13" width="6.23" height="5.14" fill="#6401d2"/>
<rect x="426.64" y="276.13" width="6.23" height="5.14" fill="#7002ee"/>
<rect x="432.87" y="276.13" width="6.23" height="5.14" fill="#7a03fd"/>
<rect x="439.10" y="276.13" width="6.23" height="5.14" fill="#7e04ff"/>
<rect x="445.33" y="276.13" width="6.23" height="5.14" fill="#8205fe"/>
<rect x="451.55" y="276.13" width="6.23" height="5.14" fill="#8505fc"/>
<rect x="457.78" y="276.13" width="6.23" height="5.14" fill="#8806f9"/>
<rect x="464.01" y="276.13" width="6.23" height="5.14" fill="#8a06f6"/>
<rect x="470.24" y="276.13" width="6.23" height="5.14" fill="#8c07f3"/>
<rect x="476.47" y="276.13" width="6.23" height="5.14" fill="#8d07ef"/>
<rect x="482.70" y="276.13" width="6.23" height="5.14" fill="#8f08ea"/>
<rect x="488.93" y="276.13" width="6.23" height="5.14" fill="#9109e5"/>
<rect x="495.16" y="276.13" width="6.23" height="5.14" fill="#9309df"/>
<rect x="501.39" y="276.13" width="6.23" height="5.14" fill="#950ad6"/>
<rect x="507.62" y="276.13" width="6.23" height="5.14" fill="#980bcb"/>
<rect x="513.84" y="276.13" width="6.23" height="5.14" fill="#980cc7"/>
<rect x="520.07" y="276.13" width="3.93" height="5.14" fill="#990cc3"/>
<rect x="75.00" y="281.27" width="9.04" height="5.14" fill="#8605fb"/>
<rect x="84.04" y="281.27" width="12.46" height="5.14" fill="#8a06f6"/>
<rect x="96.50" y="281.27" width="6.23" height="5.14" fill="#8d07ef"/>
<rect x="102.73" y="281.27" width="6.23" height="5.14" fill="#9109e5"/>
<rect x="108.96" y="281.27" width="6.23" height="5.14" fill="#940ad9"/>
<rect x="115.19" y="281.27" width="6.23" height="5.14" fill="#9b0dbb"/>
<rect x="121.42" y="281.27" width="6.23" height="5.14" fill="#a11097"/>
<rect x="127.65" y="281.27" width="6.23" height="5.14" fill="#a7146c"/>
<rect x="133.88" y="281.27" width="6.23" height="5.14" fill="#980bcb"/>
<rect x="140.10" y="281.27" width="6.23" height="5.14" fill="#9b0dbb"/>
<rect x="146.33" y="281.27" width="6.23" height="5.14" fill="#a11097"/>
<rect x="152.56" y="281.27" width="6.23" height="5.14" fill="#a7146c"/>
<rect x="158.79" y="281.27" width="6.23" height="5.14" fill="#b62100"/>
<rect x="165.02" y="281.27" width="6.23" height="5.14" fill="#c53700"/>
<rect x="171.25" y="281.27" width="6.23" height="5.14" fill="#ca4000"/>
<rect x="177.48" y="281.27" width="6.23" height="5.14" fill="#cd4400"/>
<rect x="183.71" y="281.27" width="6.23" height="5.14" fill="#c83b00"/>
<rect x="189.94" y="281.27" width="6.23" height="5.14" fill="#be2b00"/>
<rect x="196.17" y="281.27" width="6.23" height="5.14" fill="#b31e0e"/>
<rect x="202.39" y="281.27" width="6.23" height="5.14" fill="#aa1756"/>
<rect x="208.62" y="281.27" width="6.23" height="5.14" fill="#9109e5"/>
<rect x="214.85" y="281.27" width="6.23" height="5.14" fill="#8a06f6"/>
<rect x="221.08" y="281.27" width="6.23" height="5.14" fill="#8205fe"/>
<rect x="227.31" y="281.27" width="6.23" height="5.14" fill="#7e04ff"/>
<rect x="233.54" y="281.27" width="6.23" height="5.14" fill="#6901df"/>
<rect x="239.77" y="281.27" width="12.46" height="5.14" fill="#6401d2"/>
<rect x="252.23" y="281.27" width="6.23" height="5.14" fill="#5f01c3"/>
<rect x="258.46" y="281.27" width="6.23" height="5.14" fill="#5900b2"/>
<rect x="264.68" y="281.27" width="12.46" height="5.14" fill="#54009f"/>
<rect x="277.14" y="281.27" width="18.69" height="5.14" fill="#4d008c"/>
<rect x="295.83" y="281.27" width="6.23" height="5.14" fill="#470076"/>
<rect x="302.06" y="281.27" width="12.46" height="5.14" fill="#4d008c"/>
<rect x="314.52" y="281.27" width="6.23" height="5.14" fill="#54009f"/>
<rect x="320.75" y="281.27" width="6.23" height="5.14" fill="#5900b2"/>
<rect x="326.97" y="281.27" width="6.23" height="5.14" fill="#5f01c3"/>
<rect x="333.20" y="281.27" width="6.23" height="5.14" fill="#5900b2"/>
<rect x="339.43" y="281.27" width="6.23" height="5.14" fill="#54009f"/>
<rect x="345.66" y="281.27" width="12.46" height="5.14" fill="#4d008c"/>
<rect x="358.12" y="281.27" width="6.23" height="5.14" fill="#5700a9"/>
<rect x="364.35" y="281.27" width="6.23" height="5.14" fill="#510096"/>
<rect x="370.58" y="281.27" width="6.23" height="5.14" fill="#4d008c"/>
<rect x="376.81" y="281.27" width="6.23" height="5.14" fill="#4a0081"/>
<rect x="383.04" y="281.27" width="6.23" height="5.14" fill="#470076"/>
<rect x="389.26" y="281.27" width="6.23" height="5.14" fill="#3f0060"/>
<rect x="395.49" y="281.27" width="6.23" height="5.14" fill="#3b0055"/>
<rect x="401.72" y="281.27" width="6.23" height="5.14" fill="#43006b"/>
<rect x="407.95" y="281.27" width="6.23" height="5.14" fill="#4d008c"/>
<rect x="414.18" y="281.27" width="6.23" height="5.14" fill="#5700a9"/>
<rect x="420.41" y="281.27" width="6.23" height="5.14" fill="#6401d2"/>
<rect x="426.64" y="281.27" width="6.23" height="5.14" fill="#7002ee"/>
<rect x="432.87" y="281.27" width="6.23" height="5.14" fill="#7a03fd"/>
<rect x="439.10" y="281.27" width="6.23" height="5.14" fill="#7e04ff"/>
<rect x="445.33" y="281.27" width="6.23" height="5.14" fill="#8205fe"/>
<rect x="451.55" y="281.27" width="6.23" height="5.14" fill="#8405fd"/>
<rect x="457.78" y="281.27" width="18.69" height="5.14" fill="#8605fb"/>
<rect x="476.47" y="281.27" width="6.23" height="5.14" fill="#8806f9"/>
<rect x="482.70" y="281.27" width="6.23" height="5.14" fill="#8a06f6"/>
<rect x="488.93" y="281.27" width="6.23" height="5.14" fill="#8c07f3"/>
<rect x="495.16" y="281.27" width="6.23" height="5.14" fill="#8d07ef"/>
<rect x="501.39" y="281.27" width="6.23" height="5.14" fill="#8f08ea"/>
<rect x="507.62" y="281.27" width="16.38" height="5.14" fill="#9109e5"/>
<rect x="75.00" y="286.41" width="9.04" height="5.14" fill="#8205fe"/>
<rect x="84.04" y="286.41" width="12.46" height="5.14" fill="#8605fb"/>
<rect x="96.50" y="286.41" width="12.46" height="5.14" fill="#8a06f6"/>
<rect x="108.96" y="286.41" width="6.23" height="5.14" fill="#8d07ef"/>
<rect x="115.19" y="286.41" width="6.23" height="5.14" fill="#940ad9"/>
<rect x="121.42" y="286.41" width="6.23" height="5.14" fill="#9b0dbb"/>
<rect x="127.65" y="286.41" width="6.23" height="5.14" fill="#a11097"/>
<rect x="133.88" y="286.41" width="6.23" height="5.14" fill="#8d07ef"/>
<rect x="140.10" y="286.41" width="6.23" height="5.14" fill="#9109e5"/>
<rect x="146.33" y="286.41" width="6.23" height="5.14" fill="#980bcb"/>
<rect x="152.56" y="286.41" width="6.23" height="5.14" fill="#9e0eaa"/>
<rect x="158.79" y="286.41" width="6.23" height="5.14" fill="#ad193e"/>
<rect x="165.02" y="286.41" width="6.23" height="5.14" fill="#c02f00"/>
<rect x="171.25" y="286.41" width="6.23" height="5.14" fill="#c83b00"/>
<rect x="177.48" y="286.41" width="6.23" height="5.14" fill="#ca4000"/>
<rect x="183.71" y="286.41" width="6.23" height="5.14" fill="#c33300"/>
<rect x="189.94" y="286.41" width="6.23" height="5.14" fill="#b82400"/>
<rect x="196.17" y="286.41" width="6.23" height="5.14" fill="#aa1756"/>
<rect x="202.39" y="286.41" width="6.23" height="5.14" fill="#a11097"/>
<rect x="208.62" y="286.41" width="6.23" height="5.14" fill="#8a06f6"/>
<rect x="214.85" y="286.41" width="6.23" height="5.14" fill="#8205fe"/>
<rect x="221.08" y="286.41" width="6.23" height="5.14" fill="#7e04ff"/>
<rect x="227.31" y="286.41" width="6.23" height="5.14" fill="#7603f9"/>
<rect x="233.54" y="286.41" width="6.23" height="5.14" fill="#6901df"/>
<rect x="239.77" y="286.41" width="6.23" height="5.14" fill="#6401d2"/>
<rect x="246.00" y="286.41" width="12.46" height="5.14" fill="#5f01c3"/>
<rect x="258.46" y="286.41" width="6.23" height="5.14" fill="#5900b2"/>
<rect x="264.68" y="286.41" width="6.23" height="5.14" fill="#54009f"/>
<rect x="270.91" y="286.41" width="12.46" height="5.14" fill="#4d008c"/>
<rect x="283.37" y="286.41" width="12.46" height="5.14" fill="#470076"/>
<rect x="295.83" y="286.41" width="6.23" height="5.14" fill="#3f0060"/>
<rect x="302.06" y="286.41" width="6.23" height="5.14" fill="#470076"/>
<rect x="308.29" y="286.41" width="12.46" height="5.14" fill="#4d008c"/>
<rect x="320.75" y="286.41" width="6.23" height="5.14" fill="#54009f"/>
<rect x="326.97" y="286.41" width="12.46" height="5.14" fill="#5900b2"/>
<rect x="339.43" y="286.41" width="6.23" height="5.14" fill="#54009f"/>
<rect x="345.66" y="286.41" width="12.46" height="5.14" fill="#4d008c"/>
<rect x="358.12" y="286.41" width="6.23" height="5.14" fill="#52009c"/>
<rect x="364.35" y="286.41" width="6.23" height="5.14" fill="#4a0081"/>
<rect x="370.58" y="286.41" width="31.14" height="5.14" fill="#470076"/>
<rect x="401.72" y="286.41" width="6.23" height="5.14" fill="#4a0081"/>
<rect x="407.95" y="286.41" width="6.23" height="5.14" fill="#54009f"/>
<rect x="414.18" y="286.41" width="6.23" height="5.14" fill="#5c01bb"/>
<rect x="420.41" y="286.41" width="6.23" height="5.14" fill="#6601d8"/>
<rect x="426.64" y="286.41" width="6.23" height="5.14" fill="#6d02ea"/>
<rect x="432.87" y="286.41" width="6.23" height="5.14" fill="#7803fb"/>
<rect x="439.10" y="286.41" width="6.23" height="5.14" fill="#7c03fe"/>
<rect x="445.33" y="286.41" width="6.23" height="5.14" fill="#8004ff"/>
<rect x="451.55" y="286.41" width="6.23" height="5.14" fill="#8205fe"/>
<rect x="457.78" y="286.41" width="18.69" height="5.14" fill="#8405fd"/>
<rect x="476.47" y="286.41" width="6.23" height="5.14" fill="#8505fc"/>
<rect x="482.70" y="286.41" width="6.23" height="5.14" fill="#8605fb"/>
<rect x="488.93" y="286.41" width="6.23" height="5.14" fill="#8806f9"/>
<rect x="495.16" y="286.41" width="6.23" height="5.14" fill="#8a06f6"/>
<rect x="501.39" y="286.41" width="6.23" height="5.14" fill="#8b07f5"/>
<rect x="507.62" y="286.41" width="16.38" height="5.14" fill="#8c07f3"/>
<rect x="75.00" y="291.54" width="27.73" height="5.14" fill="#8605fb"/>
<rect x="102.73" y="291.54" width="6.23" height="5.14" fill="#8806f9"/>
<rect x="108.96" y="291.54" width="6.23" height="5.14" fill="#8a06f6"/>
<rect x="115.19" y="291.54" width="6.23" height="5.14" fill="#8d07ef"/>
<rect x="121.42" y="291.54" width="18.69" height="5.14" fill="#9109e5"/>
<rect x="140.10" y="291.54" width="6.23" height="5.14" fill="#980bcb"/>
<rect x="146.33" y="291.54" width="6.23" height="5.14" fill="#9e0eaa"/>
<rect x="152.56" y="291.54" width="6.23" height="5.14" fill="#a11097"/>
<rect x="158.79" y="291.54" width="6.23" height="5.14" fill="#a41282"/>
<rect x="165.02" y="291.54" width="6.23" height="5.14" fill="#ac184a"/>
<rect x="171.25" y="291.54" width="6.23" height="5.14" fill="#b31e0e"/>
<rect x="177.48" y="291.54" width="6.23" height="5.14" fill="#af1a32"/>
<rect x="183.71" y="291.54" width="6.23" height="5.14" fill="#aa1756"/>
<rect x="189.94" y="291.54" width="6.23" height="5.14" fill="#a11097"/>
<rect x="196.17" y="291.54" width="6.23" height="5.14" fill="#980bcb"/>
<rect x="202.39" y="291.54" width="6.23" height="5.14" fill="#8d07ef"/>
<rect x="208.62" y="291.54" width="6.23" height="5.14" fill="#8205fe"/>
<rect x="214.85" y="291.54" width="6.23" height="5.14" fill="#7e04ff"/>
<rect x="221.08" y="291.54" width="6.23" height="5.14" fill="#7a03fd"/>
<rect x="227.31" y="291.54" width="6.23" height="5.14" fill="#7402f6"/>
<rect x="233.54" y="291.54" width="6.23" height="5.14" fill="#6401d2"/>
<rect x="239.77" y="291.54" width="6.23" height="5.14" fill="#5f01c3"/>
<rect x="246.00" y="291.54" width="12.46" height="5.14" fill="#5900b2"/>
<rect x="258.46" y="291.54" width="6.23" height="5.14" fill="#54009f"/>
<rect x="264.68" y="291.54" width="12.46" height="5.14" fill="#4d008c"/>
<rect x="277.14" y="291.54" width="18.69" height="5.14" fill="#470076"/>
<rect x="295.83" y="291.54" width="12.46" height="5.14" fill="#3f0060"/>
<rect x="308.29" y="291.54" width="6.23" height="5.14" fill="#470076"/>
<rect x="314.52" y="291.54" width="6.23" height="5.14" fill="#4d008c"/>
<rect x="320.75" y="291.54" width="12.46" height="5.14" fill="#54009f"/>
<rect x="333.20" y="291.54" width="6.23" height="5.14" fill="#5900b2"/>
<rect x="339.43" y="291.54" width="6.23" height="5.14" fill="#54009f"/>
<rect x="345.66" y="291.54" width="18.69" height="5.14" fill="#4d008c"/>
<rect x="364.35" y="291.54" width="6.23" height="5.14" fill="#470076"/>
<rect x="370.58" y="291.54" width="12.46" height="5.14" fill="#43006b"/>
<rect x="383.04" y="291.54" width="12.46" height="5.14" fill="#470076"/>
<rect x="395.49" y="291.54" width="6.23" height="5.14" fill="#4a0081"/>
<rect x="401.72" y="291.54" width="6.23" height="5.14" fill="#510096"/>
<rect x="407.95" y="291.54" width="6.23" height="5.14" fill="#5900b2"/>
<rect x="414.18" y="291.54" width="6.23" height="5.14" fill="#5f01c3"/>
<rect x="420.41" y="291.54" width="6.23" height="5.14" fill="#6601d8"/>
<rect x="426.64" y="291.54" width="6.23" height="5.14" fill="#6b01e4"/>
<rect x="432.87" y="291.54" width="6.23" height="5.14" fill="#7603f9"/>
<rect x="439.10" y="291.54" width="6.23" height="5.14" fill="#7a03fd"/>
<rect x="445.33" y="291.54" width="6.23" height="5.14" fill="#7e04ff"/>
<rect x="451.55" y="291.54" width="6.23" height="5.14" fill="#8004ff"/>
<rect x="457.78" y="291.54" width="31.14" height="5.14" fill="#8205fe"/>
<rect x="488.93" y="291.54" width="6.23" height="5.14" fill="#8405fd"/>
<rect x="495.16" y="291.54" width="28.84" height="5.14" fill="#8605fb"/>
<rect x="75.00" y="296.68" width="27.73" height="5.14" fill="#8405fd"/>
<rect x="102.73" y="296.68" width="6.23" height="5.14" fill="#8505fc"/>
<rect x="108.96" y="296.68" width="6.23" height="5.14" fill="#8605fb"/>
<rect x="115.19" y="296.68" width="6.23" height="5.14" fill="#8806f9"/>
<rect x="121.42" y="296.68" width="6.23" height="5.14" fill="#8a06f6"/>
<rect x="127.65" y="296.68" width="6.23" height="5.14" fill="#8c07f3"/>
<rect x="133.88" y="296.68" width="6.23" height="5.14" fill="#8d07ef"/>
<rect x="140.10" y="296.68" width="6.23" height="5.14" fill="#9109e5"/>
<rect x="146.33" y="296.68" width="6.23" height="5.14" fill="#940ad9"/>
<rect x="152.56" y="296.68" width="6.23" height="5.14" fill="#970bcf"/>
<rect x="158.79" y="296.68" width="6.23" height="5.14" fill="#990cc3"/>
<rect x="165.02" y="296.68" width="6.23" height="5.14" fill="#a00fa0"/>
<rect x="171.25" y="296.68" width="6.23" height="5.14" fill="#a61377"/>
<rect x="177.48" y="296.68" width="6.23" height="5.14" fill="#a00fa0"/>
<rect x="183.71" y="296.68" width="6.23" height="5.14" fill="#990cc3"/>
<rect x="189.94" y="296.68" width="6.23" height="5.14" fill="#9309df"/>
<rect x="196.17" y="296.68" width="6.23" height="5.14" fill="#8c07f3"/>
<rect x="202.39" y="296.68" width="6.23" height="5.14" fill="#8405fd"/>
<rect x="208.62" y="296.68" width="6.23" height="5.14" fill="#7c03fe"/>
<rect x="214.85" y="296.68" width="6.23" height="5.14" fill="#7803fb"/>
<rect x="221.08" y="296.68" width="6.23" height="5.14" fill="#7402f6"/>
<rect x="227.31" y="296.68" width="6.23" height="5.14" fill="#6f02ec"/>
<rect x="233.54" y="296.68" width="6.23" height="5.14" fill="#5f01c3"/>
<rect x="239.77" y="296.68" width="6.23" height="5.14" fill="#5900b2"/>
<rect x="246.00" y="296.68" width="12.46" height="5.14" fill="#54009f"/>
<rect x="258.46" y="296.68" width="12.46" height="5.14" fill="#4d008c"/>
<rect x="270.91" y="296.68" width="18.69" height="5.14" fill="#470076"/>
<rect x="289.60" y="296.68" width="18.69" height="5.14" fill="#3f0060"/>
<rect x="308.29" y="296.68" width="6.23" height="5.14" fill="#470076"/>
<rect x="314.52" y="296.68" width="18.69" height="5.14" fill="#4d008c"/>
<rect x="333.20" y="296.68" width="12.46" height="5.14" fill="#54009f"/>
<rect x="345.66" y="296.68" width="18.69" height="5.14" fill="#4d008c"/>
<rect x="364.35" y="296.68" width="37.37" height="5.14" fill="#470076"/>
<rect x="401.72" y="296.68" width="6.23" height="5.14" fill="#4d008c"/>
<rect x="407.95" y="296.68" width="6.23" height="5.14" fill="#5900b2"/>
<rect x="414.18" y="296.68" width="6.23" height="5.14" fill="#6401d2"/>
<rect x="420.41" y="296.68" width="12.46" height="5.14" fill="#6901df"/>
<rect x="432.87" y="296.68" width="6.23" height="5.14" fill="#7402f6"/>
<rect x="439.10" y="296.68" width="6.23" height="5.14" fill="#7803fb"/>
<rect x="445.33" y="296.68" width="6.23" height="5.14" fill="#7c03fe"/>
<rect x="451.55" y="296.68" width="6.23" height="5.14" fill="#7e04ff"/>
<rect x="457.78" y="296.68" width="6.23" height="5.14" fill="#8004ff"/>
<rect x="464.01" y="296.68" width="6.23" height="5.14" fill="#8104ff"/>
<rect x="470.24" y="296.68" width="18.69" height="5.14" fill="#8205fe"/>
<rect x="488.93" y="296.68" width="6.23" height="5.14" fill="#8305fe"/>
<rect x="495.16" y="296.68" width="28.84" height="5.14" fill="#8405fd"/>
<rect x="75.00" y="301.82" width="40.19" height="5.14" fill="#8205fe"/>
<rect x="115.19" y="301.82" width="12.46" height="5.14" fill="#8204ff"/>
<rect x="127.65" y="301.82" width="6.23" height="5.14" fill="#8505fc"/>
<rect x="133.88" y="301.82" width="6.23" height="5.14" fill="#8906f8"/>
<rect x="140.10" y="301.82" width="12.46" height="5.14" fill="#8806f9"/>
<rect x="152.56" y="301.82" width="6.23" height="5.14" fill="#8a06f7"/>
<rect x="158.79" y="301.82" width="6.23" height="5.14" fill="#8b07f4"/>
<rect x="165.02" y="301.82" width="6.23" height="5.14" fill="#9008e6"/>
<rect x="171.25" y="301.82" width="6.23" height="5.14" fill="#950ad4"/>
<rect x="177.48" y="301.82" width="6.23" height="5.14" fill="#8d07f0"/>
<rect x="183.71" y="301.82" width="6.23" height="5.14" fill="#8405fe"/>
<rect x="189.94" y="301.82" width="6.23" height="5.14" fill="#8004ff"/>
<rect x="196.17" y="301.82" width="6.23" height="5.14" fill="#7e04ff"/>
<rect x="202.39" y="301.82" width="6.23" height="5.14" fill="#7a03fd"/>
<rect x="208.62" y="301.82" width="6.23" height="5.14" fill="#7603f9"/>
<rect x="214.85" y="301.82" width="6.23" height="5.14" fill="#7202f2"/>
<rect x="221.08" y="301.82" width="6.23" height="5.14" fill="#6d02ea"/>
<rect x="227.31" y="301.82" width="6.23" height="5.14" fill="#6901df"/>
<rect x="233.54" y="301.82" width="6.23" height="5.14" fill="#5900b2"/>
<rect x="239.77" y="301.82" width="6.23" height="5.14" fill="#54009f"/>
<rect x="246.00" y="301.82" width="12.46" height="5.14" fill="#4d008c"/>
<rect x="258.46" y="301.82" width="18.69" height="5.14" fill="#470076"/>
<rect x="277.14" y="301.82" width="31.15" height="5.14" fill="#3f0060"/>
<rect x="308.29" y="301.82" width="31.14" height="5.14" fill="#470076"/>
<rect x="339.43" y="301.82" width="18.69" height="5.14" fill="#4d008c"/>
<rect x="358.12" y="301.82" width="6.23" height="5.14" fill="#510096"/>
<rect x="364.35" y="301.82" width="37.37" height="5.14" fill="#4d008c"/>
<rect x="401.72" y="301.82" width="6.23" height="5.14" fill="#54009f"/>
<rect x="407.95" y="301.82" width="6.23" height="5.14" fill="#5f01c3"/>
<rect x="414.18" y="301.82" width="12.46" height="5.14" fill="#6901df"/>
<rect x="426.64" y="301.82" width="6.23" height="5.14" fill="#6601d8"/>
<rect x="432.87" y="301.82" width="6.23" height="5.14" fill="#7202f2"/>
<rect x="439.10" y="301.82" width="6.23" height="5.14" fill="#7603f9"/>
<rect x="445.33" y="301.82" width="6.23" height="5.14" fill="#7a03fd"/>
<rect x="451.55" y="301.82" width="6.23" height="5.14" fill="#7c03fe"/>
<rect x="457.78" y="301.82" width="6.23" height="5.14" fill="#7e04ff"/>
<rect x="464.01" y="301.82" width="6.23" height="5.14" fill="#8004ff"/>
<rect x="470.24" y="301.82" width="53.76" height="5.14" fill="#8205fe"/>
<rect x="75.00" y="306.96" width="46.42" height="5.14" fill="#8004ff"/>
<rect x="121.42" y="306.96" width="6.23" height="5.14" fill="#7f04ff"/>
<rect x="127.65" y="306.96" width="6.23" height="5.14" fill="#8004ff"/>
<rect x="133.88" y="306.96" width="6.23" height="5.14" fill="#8204ff"/>
<rect x="140.10" y="306.96" width="24.92" height="5.14" fill="#8104ff"/>
<rect x="165.02" y="306.96" width="6.23" height="5.14" fill="#8205fe"/>
<rect x="171.25" y="306.96" width="6.23" height="5.14" fill="#8305fe"/>
<rect x="177.48" y="306.96" width="6.23" height="5.14" fill="#7d04ff"/>
<rect x="183.71" y="306.96" width="6.23" height="5.14" fill="#7703fa"/>
<rect x="189.94" y="306.96" width="6.23" height="5.14" fill="#7402f6"/>
<rect x="196.17" y="306.96" width="6.23" height="5.14" fill="#7603f9"/>
<rect x="202.39" y="306.96" width="6.23" height="5.14" fill="#7302f4"/>
<rect x="208.62" y="306.96" width="6.23" height="5.14" fill="#7002ee"/>
<rect x="214.85" y="306.96" width="6.23" height="5.14" fill="#6c01e7"/>
<rect x="221.08" y="306.96" width="6.23" height="5.14" fill="#6901df"/>
<rect x="227.31" y="306.96" width="6.23" height="5.14" fill="#6501d5"/>
<rect x="233.54" y="306.96" width="6.23" height="5.14" fill="#54009f"/>
<rect x="239.77" y="306.96" width="6.23" height="5.14" fill="#4d008c"/>
<rect x="246.00" y="306.96" width="18.69" height="5.14" fill="#470076"/>
<rect x="264.68" y="306.96" width="31.14" height="5.14" fill="#3f0060"/>
<rect x="295.83" y="306.96" width="6.23" height="5.14" fill="#370049"/>
<rect x="302.06" y="306.96" width="31.15" height="5.14" fill="#3f0060"/>
<rect x="333.20" y="306.96" width="18.69" height="5.14" fill="#470076"/>
<rect x="351.89" y="306.96" width="6.23" height="5.14" fill="#4d008c"/>
<rect x="358.12" y="306.96" width="6.23" height="5.14" fill="#5700a9"/>
<rect x="364.35" y="306.96" width="12.46" height="5.14" fill="#5900b2"/>
<rect x="376.81" y="306.96" width="31.15" height="5.14" fill="#54009f"/>
<rect x="407.95" y="306.96" width="6.23" height="5.14" fill="#5900b2"/>
<rect x="414.18" y="306.96" width="6.23" height="5.14" fill="#5f01c3"/>
<rect x="420.41" y="306.96" width="6.23" height="5.14" fill="#6401d2"/>
<rect x="426.64" y="306.96" width="6.23" height="5.14" fill="#6101ca"/>
<rect x="432.87" y="306.96" width="6.23" height="5.14" fill="#6d02ea"/>
<rect x="439.10" y="306.96" width="6.23" height="5.14" fill="#7302f4"/>
<rect x="445.33" y="306.96" width="6.23" height="5.14" fill="#7803fb"/>
<rect x="451.55" y="306.96" width="6.23" height="5.14" fill="#7b03fe"/>
<rect x="457.78" y="306.96" width="6.23" height="5.14" fill="#7e04ff"/>
<rect x="464.01" y="306.96" width="6.23" height="5.14" fill="#7f04ff"/>
<rect x="470.24" y="306.96" width="53.76" height="5.14" fill="#8004ff"/>
<rect x="75.00" y="312.09" width="40.19" height="5.14" fill="#7e04ff"/>
<rect x="115.19" y="312.09" width="6.23" height="5.14" fill="#7d04ff"/>
<rect x="121.42" y="312.09" width="6.23" height="5.14" fill="#7d03fe"/>
<rect x="127.65" y="312.09" width="6.23" height="5.14" fill="#7c03fe"/>
<rect x="133.88" y="312.09" width="6.23" height="5.14" fill="#7b03fd"/>
<rect x="140.10" y="312.09" width="6.23" height="5.14" fill="#7a03fd"/>
<rect x="146.33" y="312.09" width="6.23" height="5.14" fill="#7903fc"/>
<rect x="152.56" y="312.09" width="6.23" height="5.14" fill="#7803fb"/>
<rect x="158.79" y="312.09" width="6.23" height="5.14" fill="#7703fa"/>
<rect x="165.02" y="312.09" width="6.23" height="5.14" fill="#7202f3"/>
<rect x="171.25" y="312.09" width="6.23" height="5.14" fill="#6e02eb"/>
<rect x="177.48" y="312.09" width="6.23" height="5.14" fill="#6c01e6"/>
<rect x="183.71" y="312.09" width="6.23" height="5.14" fill="#6901e0"/>
<rect x="189.94" y="312.09" width="6.23" height="5.14" fill="#6701da"/>
<rect x="196.17" y="312.09" width="6.23" height="5.14" fill="#6d02ea"/>
<rect x="202.39" y="312.09" width="6.23" height="5.14" fill="#6b01e4"/>
<rect x="208.62" y="312.09" width="6.23" height="5.14" fill="#6901df"/>
<rect x="214.85" y="312.09" width="6.23" height="5.14" fill="#6601d8"/>
<rect x="221.08" y="312.09" width="6.23" height="5.14" fill="#5f01c3"/>
<rect x="227.31" y="312.09" width="6.23" height="5.14" fill="#5c01bb"/>
<rect x="233.54" y="312.09" width="6.23" height="5.14" fill="#470076"/>
<rect x="239.77" y="312.09" width="12.46" height="5.14" fill="#3f0060"/>
<rect x="252.23" y="312.09" width="43.60" height="5.14" fill="#370049"/>
<rect x="295.83" y="312.09" width="6.23" height="5.14" fill="#2d0031"/>
<rect x="302.06" y="312.09" width="6.23" height="5.14" fill="#370049"/>
<rect x="308.29" y="312.09" width="43.60" height="5.14" fill="#3f0060"/>
<rect x="351.89" y="312.09" width="6.23" height="5.14" fill="#470076"/>
<rect x="358.12" y="312.09" width="6.23" height="5.14" fill="#5900b2"/>
<rect x="364.35" y="312.09" width="12.46" height="5.14" fill="#5f01c3"/>
<rect x="376.81" y="312.09" width="6.23" height="5.14" fill="#5900b2"/>
<rect x="383.04" y="312.09" width="12.46" height="5.14" fill="#54009f"/>
<rect x="395.49" y="312.09" width="18.69" height="5.14" fill="#4d008c"/>
<rect x="414.18" y="312.09" width="6.23" height="5.14" fill="#54009f"/>
<rect x="420.41" y="312.09" width="6.23" height="5.14" fill="#5900b2"/>
<rect x="426.64" y="312.09" width="6.23" height="5.14" fill="#5c01bb"/>
<rect x="432.87" y="312.09" width="6.23" height="5.14" fill="#6901df"/>
<rect x="439.10" y="312.09" width="6.23" height="5.14" fill="#7002ee"/>
<rect x="445.33" y="312.09" width="6.23" height="5.14" fill="#7603f9"/>
<rect x="451.55" y="312.09" width="6.23" height="5.14" fill="#7a03fd"/>
<rect x="457.78" y="312.09" width="66.22" height="5.14" fill="#7e04ff"/>
<rect x="75.00" y="317.23" width="15.27" height="5.14" fill="#7e04ff"/>
<rect x="90.27" y="317.23" width="6.23" height="5.14" fill="#7d04ff"/>
<rect x="96.50" y="317.23" width="18.69" height="5.14" fill="#7c03fe"/>
<rect x="115.19" y="317.23" width="6.23" height="5.14" fill="#7b03fe"/>
<rect x="121.42" y="317.23" width="6.23" height="5.14" fill="#7a03fd"/>
<rect x="127.65" y="317.23" width="6.23" height="5.14" fill="#7903fc"/>
<rect x="133.88" y="317.23" width="6.23" height="5.14" fill="#7703fa"/>
<rect x="140.10" y="317.23" width="6.23" height="5.14" fill="#7502f7"/>
<rect x="146.33" y="317.23" width="6.23" height="5.14" fill="#7202f3"/>
<rect x="152.56" y="317.23" width="6.23" height="5.14" fill="#7002ef"/>
<rect x="158.79" y="317.23" width="6.23" height="5.14" fill="#6d02ea"/>
<rect x="165.02" y="317.23" width="6.23" height="5.14" fill="#6901df"/>
<rect x="171.25" y="317.23" width="6.23" height="5.14" fill="#6401d2"/>
<rect x="177.48" y="317.23" width="6.23" height="5.14" fill="#6101ca"/>
<rect x="183.71" y="317.23" width="6.23" height="5.14" fill="#5f01c3"/>
<rect x="189.94" y="317.23" width="6.23" height="5.14" fill="#5c01bb"/>
<rect x="196.17" y="317.23" width="6.23" height="5.14" fill="#6601d8"/>
<rect x="202.39" y="317.23" width="6.23" height="5.14" fill="#6401d2"/>
<rect x="208.62" y="317.23" width="6.23" height="5.14" fill="#6101ca"/>
<rect x="214.85" y="317.23" width="6.23" height="5.14" fill="#5f01c3"/>
<rect x="221.08" y="317.23" width="6.23" height="5.14" fill="#5700a9"/>
<rect x="227.31" y="317.23" width="6.23" height="5.14" fill="#54009f"/>
<rect x="233.54" y="317.23" width="6.23" height="5.14" fill="#3f0060"/>
<rect x="239.77" y="317.23" width="56.06" height="5.14" fill="#370049"/>
<rect x="295.83" y="317.23" width="6.23" height="5.14" fill="#2d0031"/>
<rect x="302.06" y="317.23" width="12.46" height="5.14" fill="#370049"/>
<rect x="314.52" y="317.23" width="12.46" height="5.14" fill="#3f0060"/>
<rect x="326.97" y="317.23" width="18.69" height="5.14" fill="#370049"/>
<rect x="345.66" y="317.23" width="12.46" height="5.14" fill="#3f0060"/>
<rect x="358.12" y="317.23" width="6.23" height="5.14" fill="#510096"/>
<rect x="364.35" y="317.23" width="12.46" height="5.14" fill="#5900b2"/>
<rect x="376.81" y="317.23" width="6.23" height="5.14" fill="#54009f"/>
<rect x="383.04" y="317.23" width="12.46" height="5.14" fill="#4d008c"/>
<rect x="395.49" y="317.23" width="18.69" height="5.14" fill="#470076"/>
<rect x="414.18" y="317.23" width="12.46" height="5.14" fill="#4d008c"/>
<rect x="426.64" y="317.23" width="6.23" height="5.14" fill="#5700a9"/>
<rect x="432.87" y="317.23" width="6.23" height="5.14" fill="#6401d2"/>
<rect x="439.10" y="317.23" width="6.23" height="5.14" fill="#6c01e7"/>
<rect x="445.33" y="317.23" width="6.23" height="5.14" fill="#7402f6"/>
<rect x="451.55" y="317.23" width="6.23" height="5.14" fill="#7803fb"/>
<rect x="457.78" y="317.23" width="18.69" height="5.14" fill="#7c03fe"/>
<rect x="476.47" y="317.23" width="6.23" height="5.14" fill="#7d04ff"/>
<rect x="482.70" y="317.23" width="41.30" height="5.14" fill="#7e04ff"/>
<rect x="75.00" y="322.37" width="15.27" height="5.14" fill="#7e04ff"/>
<rect x="90.27" y="322.37" width="6.23" height="5.14" fill="#7c03fe"/>
<rect x="96.50" y="322.37" width="18.69" height="5.14" fill="#7a03fd"/>
<rect x="115.19" y="322.37" width="6.23" height="5.14" fill="#7903fc"/>
<rect x="121.42" y="322.37" width="6.23" height="5.14" fill="#7803fb"/>
<rect x="127.65" y="322.37" width="6.23" height="5.14" fill="#7703f9"/>
<rect x="133.88" y="322.37" width="6.23" height="5.14" fill="#7502f7"/>
<rect x="140.10" y="322.37" width="6.23" height="5.14" fill="#7202f2"/>
<rect x="146.33" y="322.37" width="6.23" height="5.14" fill="#6e02eb"/>
<rect x="152.56" y="322.37" width="6.23" height="5.14" fill="#6a01e2"/>
<rect x="158.79" y="322.37" width="6.23" height="5.14" fill="#6601d8"/>
<rect x="165.02" y="322.37" width="6.23" height="5.14" fill="#6101ca"/>
<rect x="171.25" y="322.37" width="6.23" height="5.14" fill="#5c01bb"/>
<rect x="177.48" y="322.37" width="6.23" height="5.14" fill="#5900b2"/>
<rect x="183.71" y="322.37" width="6.23" height="5.14" fill="#5700a9"/>
<rect x="189.94" y="322.37" width="6.23" height="5.14" fill="#54009f"/>
<rect x="196.17" y="322.37" width="6.23" height="5.14" fill="#5f01c3"/>
<rect x="202.39" y="322.37" width="6.23" height="5.14" fill="#5c01bb"/>
<rect x="208.62" y="322.37" width="6.23" height="5.14" fill="#5900b2"/>
<rect x="214.85" y="322.37" width="6.23" height="5.14" fill="#5700a9"/>
<rect x="221.08" y="322.37" width="6.23" height="5.14" fill="#4d008c"/>
<rect x="227.31" y="322.37" width="6.23" height="5.14" fill="#4a0081"/>
<rect x="233.54" y="322.37" width="6.23" height="5.14" fill="#2d0031"/>
<rect x="239.77" y="322.37" width="6.23" height="5.14" fill="#270025"/>
<rect x="246.00" y="322.37" width="12.46" height="5.14" fill="#2d0031"/>
<rect x="258.46" y="322.37" width="18.69" height="5.14" fill="#370049"/>
<rect x="277.14" y="322.37" width="6.23" height="5.14" fill="#3f0060"/>
<rect x="283.37" y="322.37" width="12.46" height="5.14" fill="#370049"/>
<rect x="295.83" y="322.37" width="6.23" height="5.14" fill="#2d0031"/>
<rect x="302.06" y="322.37" width="49.83" height="5.14" fill="#370049"/>
<rect x="351.89" y="322.37" width="6.23" height="5.14" fill="#3f0060"/>
<rect x="358.12" y="322.37" width="31.14" height="5.14" fill="#470076"/>
<rect x="389.26" y="322.37" width="24.92" height="5.14" fill="#3f0060"/>
<rect x="414.18" y="322.37" width="12.46" height="5.14" fill="#470076"/>
<rect x="426.64" y="322.37" width="6.23" height="5.14" fill="#510096"/>
<rect x="432.87" y="322.37" width="6.23" height="5.14" fill="#5f01c3"/>
<rect x="439.10" y="322.37" width="6.23" height="5.14" fill="#6901df"/>
<rect x="445.33" y="322.37" width="6.23" height="5.14" fill="#7202f2"/>
<rect x="451.55" y="322.37" width="6.23" height="5.14" fill="#7603f9"/>
<rect x="457.78" y="322.37" width="18.69" height="5.14" fill="#7a03fd"/>
<rect x="476.47" y="322.37" width="6.23" height="5.14" fill="#7c03fe"/>
<rect x="482.70" y="322.37" width="41.30" height="5.14" fill="#7e04ff"/>
<rect x="75.00" y="327.51" width="15.27" height="5.14" fill="#7e04ff"/>
<rect x="90.27" y="327.51" width="6.23" height="5.14" fill="#7d04ff"/>
<rect x="96.50" y="327.51" width="6.23" height="5.14" fill="#7c03fe"/>
<rect x="102.73" y="327.51" width="6.23" height="5.14" fill="#7b03fe"/>
<rect x="108.96" y="327.51" width="6.23" height="5.14" fill="#7a03fd"/>
<rect x="115.19" y="327.51" width="6.23" height="5.14" fill="#7803fb"/>
<rect x="121.42" y="327.51" width="6.23" height="5.14" fill="#7602f8"/>
<rect x="127.65" y="327.51" width="6.23" height="5.14" fill="#7302f5"/>
<rect x="133.88" y="327.51" width="6.23" height="5.14" fill="#7102f0"/>
<rect x="140.10" y="327.51" width="6.23" height="5.14" fill="#6c01e6"/>
<rect x="146.33" y="327.51" width="6.23" height="5.14" fill="#6701da"/>
<rect x="152.56" y="327.51" width="6.23" height="5.14" fill="#6301cf"/>
<rect x="158.79" y="327.51" width="6.23" height="5.14" fill="#5f01c3"/>
<rect x="165.02" y="327.51" width="6.23" height="5.14" fill="#5b01b6"/>
<rect x="171.25" y="327.51" width="6.23" height="5.14" fill="#5700a9"/>
<rect x="177.48" y="327.51" width="6.23" height="5.14" fill="#52009b"/>
<rect x="183.71" y="327.51" width="6.23" height="5.14" fill="#4d008c"/>
<rect x="189.94" y="327.51" width="6.23" height="5.14" fill="#4a0081"/>
<rect x="196.17" y="327.51" width="6.23" height="5.14" fill="#5700a9"/>
<rect x="202.39" y="327.51" width="6.23" height="5.14" fill="#54009f"/>
<rect x="208.62" y="327.51" width="6.23" height="5.14" fill="#510096"/>
<rect x="214.85" y="327.51" width="6.23" height="5.14" fill="#4d008c"/>
<rect x="221.08" y="327.51" width="6.23" height="5.14" fill="#43006b"/>
<rect x="227.31" y="327.51" width="6.23" height="5.14" fill="#410066"/>
<rect x="233.54" y="327.51" width="6.23" height="5.14" fill="#2d0031"/>
<rect x="239.77" y="327.51" width="12.46" height="5.14" fill="#270025"/>
<rect x="252.23" y="327.51" width="6.23" height="5.14" fill="#2d0031"/>
<rect x="258.46" y="327.51" width="37.37" height="5.14" fill="#370049"/>
<rect x="295.83" y="327.51" width="6.23" height="5.14" fill="#2d0031"/>
<rect x="302.06" y="327.51" width="31.15" height="5.14" fill="#370049"/>
<rect x="333.20" y="327.51" width="12.46" height="5.14" fill="#2d0031"/>
<rect x="345.66" y="327.51" width="12.46" height="5.14" fill="#370049"/>
<rect x="358.12" y="327.51" width="18.69" height="5.14" fill="#3f0060"/>
<rect x="376.81" y="327.51" width="18.69" height="5.14" fill="#370049"/>
<rect x="395.49" y="327.51" width="31.15" height="5.14" fill="#3f0060"/>
<rect x="426.64" y="327.51" width="6.23" height="5.14" fill="#4c0086"/>
<rect x="432.87" y="327.51" width="6.23" height="5.14" fill="#5700a9"/>
<rect x="439.10" y="327.51" width="6.23" height="5.14" fill="#6001c7"/>
<rect x="445.33" y="327.51" width="6.23" height="5.14" fill="#6901df"/>
<rect x="451.55" y="327.51" width="6.23" height="5.14" fill="#6f02ec"/>
<rect x="457.78" y="327.51" width="6.23" height="5.14" fill="#7402f6"/>
<rect x="464.01" y="327.51" width="6.23" height="5.14" fill="#7603f9"/>
<rect x="470.24" y="327.51" width="6.23" height="5.14" fill="#7803fb"/>
<rect x="476.47" y="327.51" width="6.23" height="5.14" fill="#7a03fd"/>
<rect x="482.70" y="327.51" width="6.23" height="5.14" fill="#7c03fe"/>
<rect x="488.93" y="327.51" width="6.23" height="5.14" fill="#7d04ff"/>
<rect x="495.16" y="327.51" width="28.84" height="5.14" fill="#7e04ff"/>
<rect x="75.00" y="332.64" width="27.73" height="5.14" fill="#7e04ff"/>
<rect x="102.73" y="332.64" width="6.23" height="5.14" fill="#7c03fe"/>
<rect x="108.96" y="332.64" width="6.23" height="5.14" fill="#7a03fd"/>
<rect x="115.19" y="332.64" width="6.23" height="5.14" fill="#7703fa"/>
<rect x="121.42" y="332.64" width="6.23" height="5.14" fill="#7402f5"/>
<rect x="127.65" y="332.64" width="6.23" height="5.14" fill="#7002ef"/>
<rect x="133.88" y="332.64" width="6.23" height="5.14" fill="#6c01e7"/>
<rect x="140.10" y="332.64" width="6.23" height="5.14" fill="#6601d8"/>
<rect x="146.33" y="332.64" width="6.23" height="5.14" fill="#5f01c5"/>
<rect x="152.56" y="332.64" width="6.23" height="5.14" fill="#5b01b7"/>
<rect x="158.79" y="332.64" width="6.23" height="5.14" fill="#5700a9"/>
<rect x="165.02" y="332.64" width="6.23" height="5.14" fill="#54009f"/>
<rect x="171.25" y="332.64" width="6.23" height="5.14" fill="#510096"/>
<rect x="177.48" y="332.64" width="6.23" height="5.14" fill="#4a0081"/>
<rect x="183.71" y="332.64" width="6.23" height="5.14" fill="#43006b"/>
<rect x="189.94" y="332.64" width="6.23" height="5.14" fill="#3f0060"/>
<rect x="196.17" y="332.64" width="6.23" height="5.14" fill="#4d008c"/>
<rect x="202.39" y="332.64" width="6.23" height="5.14" fill="#4a0081"/>
<rect x="208.62" y="332.64" width="6.23" height="5.14" fill="#470076"/>
<rect x="214.85" y="332.64" width="6.23" height="5.14" fill="#43006b"/>
<rect x="221.08" y="332.64" width="56.06" height="5.14" fill="#370049"/>
<rect x="277.14" y="332.64" width="12.46" height="5.14" fill="#2d0031"/>
<rect x="289.60" y="332.64" width="6.23" height="5.14" fill="#370049"/>
<rect x="295.83" y="332.64" width="6.23" height="5.14" fill="#2d0031"/>
<rect x="302.06" y="332.64" width="31.15" height="5.14" fill="#370049"/>
<rect x="333.20" y="332.64" width="24.92" height="5.14" fill="#2d0031"/>
<rect x="358.12" y="332.64" width="18.69" height="5.14" fill="#370049"/>
<rect x="376.81" y="332.64" width="12.46" height="5.14" fill="#2d0031"/>
<rect x="389.26" y="332.64" width="6.23" height="5.14" fill="#370049"/>
<rect x="395.49" y="332.64" width="31.15" height="5.14" fill="#3f0060"/>
<rect x="426.64" y="332.64" width="6.23" height="5.14" fill="#470076"/>
<rect x="432.87" y="332.64" width="6.23" height="5.14" fill="#4d008c"/>
<rect x="439.10" y="332.64" width="6.23" height="5.14" fill="#5700a9"/>
<rect x="445.33" y="332.64" width="6.23" height="5.14" fill="#5f01c3"/>
<rect x="451.55" y="332.64" width="6.23" height="5.14" fill="#6601d8"/>
<rect x="457.78" y="332.64" width="6.23" height="5.14" fill="#6d02ea"/>
<rect x="464.01" y="332.64" width="6.23" height="5.14" fill="#7202f2"/>
<rect x="470.24" y="332.64" width="6.23" height="5.14" fill="#7603f9"/>
<rect x="476.47" y="332.64" width="6.23" height="5.14" fill="#7803fb"/>
<rect x="482.70" y="332.64" width="6.23" height="5.14" fill="#7a03fd"/>
<rect x="488.93" y="332.64" width="6.23" height="5.14" fill="#7c03fe"/>
<rect x="495.16" y="332.64" width="28.84" height="5.14" fill="#7e04ff"/>
<rect x="75.00" y="337.78" width="15.27" height="5.14" fill="#7c03fe"/>
<rect x="90.27" y="337.78" width="6.23" height="5.14" fill="#7b03fe"/>
<rect x="96.50" y="337.78" width="6.23" height="5.14" fill="#7a03fd"/>
<rect x="102.73" y="337.78" width="6.23" height="5.14" fill="#7803fb"/>
<rect x="108.96" y="337.78" width="6.23" height="5.14" fill="#7603f9"/>
<rect x="115.19" y="337.78" width="6.23" height="5.14" fill="#7302f4"/>
<rect x="121.42" y="337.78" width="6.23" height="5.14" fill="#6f02ed"/>
<rect x="127.65" y="337.78" width="6.23" height="5.14" fill="#6b01e5"/>
<rect x="133.88" y="337.78" width="6.23" height="5.14" fill="#6801dc"/>
<rect x="140.10" y="337.78" width="6.23" height="5.14" fill="#6201cd"/>
<rect x="146.33" y="337.78" width="6.23" height="5.14" fill="#5d01bd"/>
<rect x="152.56" y="337.78" width="6.23" height="5.14" fill="#5700aa"/>
<rect x="158.79" y="337.78" width="6.23" height="5.14" fill="#510096"/>
<rect x="165.02" y="337.78" width="6.23" height="5.14" fill="#4d008c"/>
<rect x="171.25" y="337.78" width="6.23" height="5.14" fill="#4a0081"/>
<rect x="177.48" y="337.78" width="6.23" height="5.14" fill="#450071"/>
<rect x="183.71" y="337.78" width="6.23" height="5.14" fill="#3f0060"/>
<rect x="189.94" y="337.78" width="6.23" height="5.14" fill="#3b0055"/>
<rect x="196.17" y="337.78" width="6.23" height="5.14" fill="#4a0081"/>
<rect x="202.39" y="337.78" width="6.23" height="5.14" fill="#470076"/>
<rect x="208.62" y="337.78" width="6.23" height="5.14" fill="#43006b"/>
<rect x="214.85" y="337.78" width="6.23" height="5.14" fill="#410066"/>
<rect x="221.08" y="337.78" width="6.23" height="5.14" fill="#370049"/>
<rect x="227.31" y="337.78" width="6.23" height="5.14" fill="#340043"/>
<rect x="233.54" y="337.78" width="24.92" height="5.14" fill="#370049"/>
<rect x="258.46" y="337.78" width="43.60" height="5.14" fill="#2d0031"/>
<rect x="302.06" y="337.78" width="24.92" height="5.14" fill="#370049"/>
<rect x="326.97" y="337.78" width="56.06" height="5.14" fill="#2d0031"/>
<rect x="383.04" y="337.78" width="18.69" height="5.14" fill="#370049"/>
<rect x="401.72" y="337.78" width="24.92" height="5.14" fill="#3f0060"/>
<rect x="426.64" y="337.78" width="6.23" height="5.14" fill="#43006b"/>
<rect x="432.87" y="337.78" width="6.23" height="5.14" fill="#4a0081"/>
<rect x="439.10" y="337.78" width="6.23" height="5.14" fill="#52009b"/>
<rect x="445.33" y="337.78" width="6.23" height="5.14" fill="#5900b2"/>
<rect x="451.55" y="337.78" width="6.23" height="5.14" fill="#6101ca"/>
<rect x="457.78" y="337.78" width="6.23" height="5.14" fill="#6901df"/>
<rect x="464.01" y="337.78" width="6.23" height="5.14" fill="#6d02ea"/>
<rect x="470.24" y="337.78" width="6.23" height="5.14" fill="#7202f2"/>
<rect x="476.47" y="337.78" width="6.23" height="5.14" fill="#7402f6"/>
<rect x="482.70" y="337.78" width="6.23" height="5.14" fill="#7603f9"/>
<rect x="488.93" y="337.78" width="6.23" height="5.14" fill="#7803fb"/>
<rect x="495.16" y="337.78" width="6.23" height="5.14" fill="#7a03fd"/>
<rect x="501.39" y="337.78" width="6.23" height="5.14" fill="#7b03fe"/>
<rect x="507.62" y="337.78" width="6.23" height="5.14" fill="#7c03fe"/>
<rect x="513.84" y="337.78" width="6.23" height="5.14" fill="#7d04ff"/>
<rect x="520.07" y="337.78" width="3.93" height="5.14" fill="#7e04ff"/>
<rect x="75.00" y="342.92" width="15.27" height="5.14" fill="#7a03fd"/>
<rect x="90.27" y="342.92" width="6.23" height="5.14" fill="#7803fb"/>
<rect x="96.50" y="342.92" width="6.23" height="5.14" fill="#7603f9"/>
<rect x="102.73" y="342.92" width="6.23" height="5.14" fill="#7402f6"/>
<rect x="108.96" y="342.92" width="6.23" height="5.14" fill="#7202f2"/>
<rect x="115.19" y="342.92" width="6.23" height="5.14" fill="#6f02ec"/>
<rect x="121.42" y="342.92" width="6.23" height="5.14" fill="#6b01e4"/>
<rect x="127.65" y="342.92" width="6.23" height="5.14" fill="#6701db"/>
<rect x="133.88" y="342.92" width="6.23" height="5.14" fill="#6401d1"/>
<rect x="140.10" y="342.92" width="6.23" height="5.14" fill="#6001c6"/>
<rect x="146.33" y="342.92" width="6.23" height="5.14" fill="#5c01b9"/>
<rect x="152.56" y="342.92" width="6.23" height="5.14" fill="#5500a3"/>
<rect x="158.79" y="342.92" width="6.23" height="5.14" fill="#4d008a"/>
<rect x="165.02" y="342.92" width="6.23" height="5.14" fill="#4a007f"/>
<rect x="171.25" y="342.92" width="6.23" height="5.14" fill="#460075"/>
<rect x="177.48" y="342.92" width="6.23" height="5.14" fill="#420069"/>
<rect x="183.71" y="342.92" width="6.23" height="5.14" fill="#3f005e"/>
<rect x="189.94" y="342.92" width="6.23" height="5.14" fill="#3a0053"/>
<rect x="196.17" y="342.92" width="6.23" height="5.14" fill="#470076"/>
<rect x="202.39" y="342.92" width="6.23" height="5.14" fill="#43006b"/>
<rect x="208.62" y="342.92" width="12.46" height="5.14" fill="#3f0060"/>
<rect x="221.08" y="342.92" width="6.23" height="5.14" fill="#370049"/>
<rect x="227.31" y="342.92" width="6.23" height="5.14" fill="#32003d"/>
<rect x="233.54" y="342.92" width="12.46" height="5.14" fill="#370049"/>
<rect x="246.00" y="342.92" width="18.69" height="5.14" fill="#2d0031"/>
<rect x="264.68" y="342.92" width="18.69" height="5.14" fill="#270025"/>
<rect x="283.37" y="342.92" width="18.69" height="5.14" fill="#2d0031"/>
<rect x="302.06" y="342.92" width="24.92" height="5.14" fill="#370049"/>
<rect x="326.97" y="342.92" width="6.23" height="5.14" fill="#2d0031"/>
<rect x="333.20" y="342.92" width="6.23" height="5.14" fill="#270025"/>
<rect x="339.43" y="342.92" width="6.23" height="5.14" fill="#200019"/>
<rect x="345.66" y="342.92" width="12.46" height="5.14" fill="#2d0031"/>
<rect x="358.12" y="342.92" width="6.23" height="5.14" fill="#2a002b"/>
<rect x="364.35" y="342.92" width="18.69" height="5.14" fill="#2d0031"/>
<rect x="383.04" y="342.92" width="18.69" height="5.14" fill="#370049"/>
<rect x="401.72" y="342.92" width="31.15" height="5.14" fill="#3f0060"/>
<rect x="432.87" y="342.92" width="6.23" height="5.14" fill="#470076"/>
<rect x="439.10" y="342.92" width="6.23" height="5.14" fill="#4d008c"/>
<rect x="445.33" y="342.92" width="6.23" height="5.14" fill="#54009f"/>
<rect x="451.55" y="342.92" width="6.23" height="5.14" fill="#5c01bb"/>
<rect x="457.78" y="342.92" width="6.23" height="5.14" fill="#6401d2"/>
<rect x="464.01" y="342.92" width="6.23" height="5.14" fill="#6901df"/>
<rect x="470.24" y="342.92" width="6.23" height="5.14" fill="#6d02ea"/>
<rect x="476.47" y="342.92" width="6.23" height="5.14" fill="#7002ee"/>
<rect x="482.70" y="342.92" width="6.23" height="5.14" fill="#7202f2"/>
<rect x="488.93" y="342.92" width="6.23" height="5.14" fill="#7402f6"/>
<rect x="495.16" y="342.92" width="6.23" height="5.14" fill="#7603f9"/>
<rect x="501.39" y="342.92" width="6.23" height="5.14" fill="#7803fb"/>
<rect x="507.62" y="342.92" width="6.23" height="5.14" fill="#7a03fd"/>
<rect x="513.84" y="342.92" width="6.23" height="5.14" fill="#7c03fe"/>
<rect x="520.07" y="342.92" width="3.93" height="5.14" fill="#7e04ff"/>
<rect x="75.00" y="348.06" width="15.27" height="5.14" fill="#7803fb"/>
<rect x="90.27" y="348.06" width="6.23" height="5.14" fill="#7502f7"/>
<rect x="96.50" y="348.06" width="6.23" height="5.14" fill="#7202f2"/>
<rect x="102.73" y="348.06" width="6.23" height="5.14" fill="#7002ee"/>
<rect x="108.96" y="348.06" width="6.23" height="5.14" fill="#6d02ea"/>
<rect x="115.19" y="348.06" width="6.23" height="5.14" fill="#6901df"/>
<rect x="121.42" y="348.06" width="6.23" height="5.14" fill="#6401d3"/>
<rect x="127.65" y="348.06" width="6.23" height="5.14" fill="#6101c9"/>
<rect x="133.88" y="348.06" width="6.23" height="5.14" fill="#5d01bd"/>
<rect x="140.10" y="348.06" width="6.23" height="5.14" fill="#5900b1"/>
<rect x="146.33" y="348.06" width="6.23" height="5.14" fill="#5500a4"/>
<rect x="152.56" y="348.06" width="6.23" height="5.14" fill="#4f0092"/>
<rect x="158.79" y="348.06" width="6.23" height="5.14" fill="#49007e"/>
<rect x="165.02" y="348.06" width="6.23" height="5.14" fill="#470078"/>
<rect x="171.25" y="348.06" width="6.23" height="5.14" fill="#450073"/>
<rect x="177.48" y="348.06" width="6.23" height="5.14" fill="#420068"/>
<rect x="183.71" y="348.06" width="6.23" height="5.14" fill="#3e005c"/>
<rect x="189.94" y="348.06" width="6.23" height="5.14" fill="#3a0051"/>
<rect x="196.17" y="348.06" width="6.23" height="5.14" fill="#43006b"/>
<rect x="202.39" y="348.06" width="6.23" height="5.14" fill="#3f0060"/>
<rect x="208.62" y="348.06" width="12.46" height="5.14" fill="#3b0055"/>
<rect x="221.08" y="348.06" width="6.23" height="5.14" fill="#32003d"/>
<rect x="227.31" y="348.06" width="6.23" height="5.14" fill="#2f0037"/>
<rect x="233.54" y="348.06" width="12.46" height="5.14" fill="#370049"/>
<rect x="246.00" y="348.06" width="24.92" height="5.14" fill="#2d0031"/>
<rect x="270.91" y="348.06" width="12.46" height="5.14" fill="#270025"/>
<rect x="283.37" y="348.06" width="18.69" height="5.14" fill="#2d0031"/>
<rect x="302.06" y="348.06" width="24.92" height="5.14" fill="#370049"/>
<rect x="326.97" y="348.06" width="62.29" height="5.14" fill="#2d0031"/>
<rect x="389.26" y="348.06" width="18.69" height="5.14" fill="#370049"/>
<rect x="407.95" y="348.06" width="18.69" height="5.14" fill="#3f0060"/>
<rect x="426.64" y="348.06" width="6.23" height="5.14" fill="#3d005a"/>
<rect x="432.87" y="348.06" width="6.23" height="5.14" fill="#43006b"/>
<rect x="439.10" y="348.06" width="6.23" height="5.14" fill="#4a0081"/>
<rect x="445.33" y="348.06" width="6.23" height="5.14" fill="#510096"/>
<rect x="451.55" y="348.06" width="6.23" height="5.14" fill="#5800ad"/>
<rect x="457.78" y="348.06" width="6.23" height="5.14" fill="#5f01c3"/>
<rect x="464.01" y="348.06" width="6.23" height="5.14" fill="#6401d2"/>
<rect x="470.24" y="348.06" width="6.23" height="5.14" fill="#6901df"/>
<rect x="476.47" y="348.06" width="6.23" height="5.14" fill="#6b01e4"/>
<rect x="482.70" y="348.06" width="6.23" height="5.14" fill="#6d02ea"/>
<rect x="488.93" y="348.06" width="6.23" height="5.14" fill="#7002ee"/>
<rect x="495.16" y="348.06" width="6.23" height="5.14" fill="#7202f2"/>
<rect x="501.39" y="348.06" width="6.23" height="5.14" fill="#7402f6"/>
<rect x="507.62" y="348.06" width="6.23" height="5.14" fill="#7603f9"/>
<rect x="513.84" y="348.06" width="6.23" height="5.14" fill="#7803fb"/>
<rect x="520.07" y="348.06" width="3.93" height="5.14" fill="#7a03fd"/>
<rect x="75.00" y="353.19" width="15.27" height="5.14" fill="#7603f9"/>
<rect x="90.27" y="353.19" width="6.23" height="5.14" fill="#7202f2"/>
<rect x="96.50" y="353.19" width="6.23" height="5.14" fill="#6d02ea"/>
<rect x="102.73" y="353.19" width="6.23" height="5.14" fill="#6b01e4"/>
<rect x="108.96" y="353.19" width="6.23" height="5.14" fill="#6901df"/>
<rect x="115.19" y="353.19" width="6.23" height="5.14" fill="#6301cf"/>
<rect x="121.42" y="353.19" width="6.23" height="5.14" fill="#5d01be"/>
<rect x="127.65" y="353.19" width="6.23" height="5.14" fill="#5a00b2"/>
<rect x="133.88" y="353.19" width="6.23" height="5.14" fill="#5600a7"/>
<rect x="140.10" y="353.19" width="6.23" height="5.14" fill="#52009a"/>
<rect x="146.33" y="353.19" width="6.23" height="5.14" fill="#4e008d"/>
<rect x="152.56" y="353.19" width="6.23" height="5.14" fill="#49007f"/>
<rect x="158.79" y="353.19" width="18.69" height="5.14" fill="#450071"/>
<rect x="177.48" y="353.19" width="6.23" height="5.14" fill="#410066"/>
<rect x="183.71" y="353.19" width="6.23" height="5.14" fill="#3d005a"/>
<rect x="189.94" y="353.19" width="6.23" height="5.14" fill="#39004f"/>
<rect x="196.17" y="353.19" width="6.23" height="5.14" fill="#3f0060"/>
<rect x="202.39" y="353.19" width="6.23" height="5.14" fill="#3b0055"/>
<rect x="208.62" y="353.19" width="12.46" height="5.14" fill="#370049"/>
<rect x="221.08" y="353.19" width="18.69" height="5.14" fill="#2d0031"/>
<rect x="239.77" y="353.19" width="6.23" height="5.14" fill="#270025"/>
<rect x="246.00" y="353.19" width="31.14" height="5.14" fill="#200019"/>
<rect x="277.14" y="353.19" width="6.23" height="5.14" fill="#270025"/>
<rect x="283.37" y="353.19" width="6.23" height="5.14" fill="#2d0031"/>
<rect x="289.60" y="353.19" width="6.23" height="5.14" fill="#32003d"/>
<rect x="295.83" y="353.19" width="6.23" height="5.14" fill="#370049"/>
<rect x="302.06" y="353.19" width="12.46" height="5.14" fill="#3f0060"/>
<rect x="314.52" y="353.19" width="6.23" height="5.14" fill="#3b0055"/>
<rect x="320.75" y="353.19" width="18.69" height="5.14" fill="#370049"/>
<rect x="339.43" y="353.19" width="6.23" height="5.14" fill="#3b0055"/>
<rect x="345.66" y="353.19" width="6.23" height="5.14" fill="#3f0060"/>
<rect x="351.89" y="353.19" width="6.23" height="5.14" fill="#3b0055"/>
<rect x="358.12" y="353.19" width="68.52" height="5.14" fill="#370049"/>
<rect x="426.64" y="353.19" width="6.23" height="5.14" fill="#3b0055"/>
<rect x="432.87" y="353.19" width="6.23" height="5.14" fill="#3f0060"/>
<rect x="439.10" y="353.19" width="6.23" height="5.14" fill="#470076"/>
<rect x="445.33" y="353.19" width="6.23" height="5.14" fill="#4d008c"/>
<rect x="451.55" y="353.19" width="6.23" height="5.14" fill="#54009f"/>
<rect x="457.78" y="353.19" width="6.23" height="5.14" fill="#5900b2"/>
<rect x="464.01" y="353.19" width="6.23" height="5.14" fill="#5f01c3"/>
<rect x="470.24" y="353.19" width="6.23" height="5.14" fill="#6401d2"/>
<rect x="476.47" y="353.19" width="6.23" height="5.14" fill="#6601d8"/>
<rect x="482.70" y="353.19" width="6.23" height="5.14" fill="#6901df"/>
<rect x="488.93" y="353.19" width="6.23" height="5.14" fill="#6b01e4"/>
<rect x="495.16" y="353.19" width="6.23" height="5.14" fill="#6d02ea"/>
<rect x="501.39" y="353.19" width="6.23" height="5.14" fill="#7002ee"/>
<rect x="507.62" y="353.19" width="6.23" height="5.14" fill="#7202f2"/>
<rect x="513.84" y="353.19" width="6.23" height="5.14" fill="#7402f6"/>
<rect x="520.07" y="353.19" width="3.93" height="5.14" fill="#7603f9"/>
<rect x="75.00" y="358.33" width="15.27" height="5.14" fill="#7202f2"/>
<rect x="90.27" y="358.33" width="6.23" height="5.14" fill="#6f02ec"/>
<rect x="96.50" y="358.33" width="6.23" height="5.14" fill="#6b01e4"/>
<rect x="102.73" y="358.33" width="6.23" height="5.14" fill="#6801dc"/>
<rect x="108.96" y="358.33" width="6.23" height="5.14" fill="#6401d2"/>
<rect x="115.19" y="358.33" width="6.23" height="5.14" fill="#6001c5"/>
<rect x="121.42" y="358.33" width="6.23" height="5.14" fill="#5b01b7"/>
<rect x="127.65" y="358.33" width="6.23" height="5.14" fill="#5800ac"/>
<rect x="133.88" y="358.33" width="6.23" height="5.14" fill="#5400a1"/>
<rect x="140.10" y="358.33" width="6.23" height="5.14" fill="#500095"/>
<rect x="146.33" y="358.33" width="6.23" height="5.14" fill="#4d0089"/>
<rect x="152.56" y="358.33" width="6.23" height="5.14" fill="#49007c"/>
<rect x="158.79" y="358.33" width="18.69" height="5.14" fill="#44006f"/>
<rect x="177.48" y="358.33" width="6.23" height="5.14" fill="#410064"/>
<rect x="183.71" y="358.33" width="6.23" height="5.14" fill="#3d0058"/>
<rect x="189.94" y="358.33" width="6.23" height="5.14" fill="#38004d"/>
<rect x="196.17" y="358.33" width="6.23" height="5.14" fill="#3b0055"/>
<rect x="202.39" y="358.33" width="6.23" height="5.14" fill="#39004f"/>
<rect x="208.62" y="358.33" width="6.23" height="5.14" fill="#370049"/>
<rect x="214.85" y="358.33" width="6.23" height="5.14" fill="#340043"/>
<rect x="221.08" y="358.33" width="18.69" height="5.14" fill="#270025"/>
<rect x="239.77" y="358.33" width="6.23" height="5.14" fill="#23001f"/>
<rect x="246.00" y="358.33" width="31.14" height="5.14" fill="#200019"/>
<rect x="277.14" y="358.33" width="6.23" height="5.14" fill="#270025"/>
<rect x="283.37" y="358.33" width="6.23" height="5.14" fill="#2d0031"/>
<rect x="289.60" y="358.33" width="6.23" height="5.14" fill="#2f0037"/>
<rect x="295.83" y="358.33" width="6.23" height="5.14" fill="#32003d"/>
<rect x="302.06" y="358.33" width="6.23" height="5.14" fill="#3d005a"/>
<rect x="308.29" y="358.33" width="6.23" height="5.14" fill="#3f0060"/>
<rect x="314.52" y="358.33" width="6.23" height="5.14" fill="#3d005a"/>
<rect x="320.75" y="358.33" width="18.69" height="5.14" fill="#3b0055"/>
<rect x="339.43" y="358.33" width="6.23" height="5.14" fill="#3f0060"/>
<rect x="345.66" y="358.33" width="6.23" height="5.14" fill="#43006b"/>
<rect x="351.89" y="358.33" width="6.23" height="5.14" fill="#3f0060"/>
<rect x="358.12" y="358.33" width="6.23" height="5.14" fill="#3b0055"/>
<rect x="364.35" y="358.33" width="6.23" height="5.14" fill="#39004f"/>
<rect x="370.58" y="358.33" width="6.23" height="5.14" fill="#370049"/>
<rect x="376.81" y="358.33" width="6.23" height="5.14" fill="#340043"/>
<rect x="383.04" y="358.33" width="18.69" height="5.14" fill="#32003d"/>
<rect x="401.72" y="358.33" width="6.23" height="5.14" fill="#340043"/>
<rect x="407.95" y="358.33" width="18.69" height="5.14" fill="#370049"/>
<rect x="426.64" y="358.33" width="6.23" height="5.14" fill="#3b0055"/>
<rect x="432.87" y="358.33" width="6.23" height="5.14" fill="#3f0060"/>
<rect x="439.10" y="358.33" width="6.23" height="5.14" fill="#450071"/>
<rect x="445.33" y="358.33" width="6.23" height="5.14" fill="#4a0081"/>
<rect x="451.55" y="358.33" width="6.23" height="5.14" fill="#510096"/>
<rect x="457.78" y="358.33" width="6.23" height="5.14" fill="#5700a9"/>
<rect x="464.01" y="358.33" width="6.23" height="5.14" fill="#5c01bb"/>
<rect x="470.24" y="358.33" width="6.23" height="5.14" fill="#6101ca"/>
<rect x="476.47" y="358.33" width="6.23" height="5.14" fill="#6501d5"/>
<rect x="482.70" y="358.33" width="6.23" height="5.14" fill="#6901df"/>
<rect x="488.93" y="358.33" width="6.23" height="5.14" fill="#6b01e4"/>
<rect x="495.16" y="358.33" width="6.23" height="5.14" fill="#6d02ea"/>
<rect x="501.39" y="358.33" width="6.23" height="5.14" fill="#6f02ec"/>
<rect x="507.62" y="358.33" width="6.23" height="5.14" fill="#7002ee"/>
<rect x="513.84" y="358.33" width="6.23" height="5.14" fill="#7102f0"/>
<rect x="520.07" y="358.33" width="3.93" height="5.14" fill="#7202f2"/>
<rect x="75.00" y="363.47" width="15.27" height="5.14" fill="#6d02ea"/>
<rect x="90.27" y="363.47" width="6.23" height="5.14" fill="#6b01e4"/>
<rect x="96.50" y="363.47" width="6.23" height="5.14" fill="#6901df"/>
<rect x="102.73" y="363.47" width="6.23" height="5.14" fill="#6401d2"/>
<rect x="108.96" y="363.47" width="6.23" height="5.14" fill="#5f01c3"/>
<rect x="115.19" y="363.47" width="6.23" height="5.14" fill="#5c01ba"/>
<rect x="121.42" y="363.47" width="6.23" height="5.14" fill="#5900b0"/>
<rect x="127.65" y="363.47" width="6.23" height="5.14" fill="#5600a6"/>
<rect x="133.88" y="363.47" width="6.23" height="5.14" fill="#52009b"/>
<rect x="140.10" y="363.47" width="6.23" height="5.14" fill="#4f0090"/>
<rect x="146.33" y="363.47" width="6.23" height="5.14" fill="#4b0085"/>
<rect x="152.56" y="363.47" width="6.23" height="5.14" fill="#480079"/>
<rect x="158.79" y="363.47" width="18.69" height="5.14" fill="#44006d"/>
<rect x="177.48" y="363.47" width="6.23" height="5.14" fill="#400062"/>
<rect x="183.71" y="363.47" width="6.23" height="5.14" fill="#3c0056"/>
<rect x="189.94" y="363.47" width="6.23" height="5.14" fill="#37004b"/>
<rect x="196.17" y="363.47" width="18.69" height="5.14" fill="#370049"/>
<rect x="214.85" y="363.47" width="6.23" height="5.14" fill="#32003d"/>
<rect x="221.08" y="363.47" width="56.06" height="5.14" fill="#200019"/>
<rect x="277.14" y="363.47" width="6.23" height="5.14" fill="#270025"/>
<rect x="283.37" y="363.47" width="18.69" height="5.14" fill="#2d0031"/>
<rect x="302.06" y="363.47" width="6.23" height="5.14" fill="#3b0055"/>
<rect x="308.29" y="363.47" width="31.14" height="5.14" fill="#3f0060"/>
<rect x="339.43" y="363.47" width="6.23" height="5.14" fill="#43006b"/>
<rect x="345.66" y="363.47" width="6.23" height="5.14" fill="#470076"/>
<rect x="351.89" y="363.47" width="6.23" height="5.14" fill="#43006b"/>
<rect x="358.12" y="363.47" width="6.23" height="5.14" fill="#3f0060"/>
<rect x="364.35" y="363.47" width="6.23" height="5.14" fill="#3b0055"/>
<rect x="370.58" y="363.47" width="6.23" height="5.14" fill="#370049"/>
<rect x="376.81" y="363.47" width="6.23" height="5.14" fill="#32003d"/>
<rect x="383.04" y="363.47" width="18.69" height="5.14" fill="#2d0031"/>
<rect x="401.72" y="363.47" width="6.23" height="5.14" fill="#32003d"/>
<rect x="407.95" y="363.47" width="18.69" height="5.14" fill="#370049"/>
<rect x="426.64" y="363.47" width="6.23" height="5.14" fill="#3b0055"/>
<rect x="432.87" y="363.47" width="6.23" height="5.14" fill="#3f0060"/>
<rect x="439.10" y="363.47" width="6.23" height="5.14" fill="#43006b"/>
<rect x="445.33" y="363.47" width="6.23" height="5.14" fill="#470076"/>
<rect x="451.55" y="363.47" width="6.23" height="5.14" fill="#4d008c"/>
<rect x="457.78" y="363.47" width="6.23" height="5.14" fill="#54009f"/>
<rect x="464.01" y="363.47" width="6.23" height="5.14" fill="#5900b2"/>
<rect x="470.24" y="363.47" width="6.23" height="5.14" fill="#5f01c3"/>
<rect x="476.47" y="363.47" width="6.23" height="5.14" fill="#6401d2"/>
<rect x="482.70" y="363.47" width="6.23" height="5.14" fill="#6901df"/>
<rect x="488.93" y="363.47" width="6.23" height="5.14" fill="#6b01e4"/>
<rect x="495.16" y="363.47" width="28.84" height="5.14" fill="#6d02ea"/>
<rect x="75.00" y="368.61" width="15.27" height="5.14" fill="#6601d8"/>
<rect x="90.27" y="368.61" width="6.23" height="5.14" fill="#6401d2"/>
<rect x="96.50" y="368.61" width="6.23" height="5.14" fill="#6101ca"/>
<rect x="102.73" y="368.61" width="6.23" height="5.14" fill="#5d01bf"/>
<rect x="108.96" y="368.61" width="6.23" height="5.14" fill="#5900b2"/>
<rect x="115.19" y="368.61" width="6.23" height="5.14" fill="#5700a9"/>
<rect x="121.42" y="368.61" width="6.23" height="5.14" fill="#54009f"/>
<rect x="127.65" y="368.61" width="6.23" height="5.14" fill="#510096"/>
<rect x="133.88" y="368.61" width="6.23" height="5.14" fill="#4d008c"/>
<rect x="140.10" y="368.61" width="6.23" height="5.14" fill="#4c0086"/>
<rect x="146.33" y="368.61" width="6.23" height="5.14" fill="#4a0081"/>
<rect x="152.56" y="368.61" width="6.23" height="5.14" fill="#470076"/>
<rect x="158.79" y="368.61" width="18.69" height="5.14" fill="#43006b"/>
<rect x="177.48" y="368.61" width="6.23" height="5.14" fill="#3f0060"/>
<rect x="183.71" y="368.61" width="6.23" height="5.14" fill="#3b0055"/>
<rect x="189.94" y="368.61" width="6.23" height="5.14" fill="#39004f"/>
<rect x="196.17" y="368.61" width="6.23" height="5.14" fill="#370049"/>
<rect x="202.39" y="368.61" width="6.23" height="5.14" fill="#340043"/>
<rect x="208.62" y="368.61" width="6.23" height="5.14" fill="#32003d"/>
<rect x="214.85" y="368.61" width="6.23" height="5.14" fill="#2f0037"/>
<rect x="221.08" y="368.61" width="31.14" height="5.14" fill="#2d0031"/>
<rect x="252.23" y="368.61" width="6.23" height="5.14" fill="#280028"/>
<rect x="258.46" y="368.61" width="6.23" height="5.14" fill="#23001f"/>
<rect x="264.68" y="368.61" width="6.23" height="5.14" fill="#280028"/>
<rect x="270.91" y="368.61" width="6.23" height="5.14" fill="#2d0031"/>
<rect x="277.14" y="368.61" width="6.23" height="5.14" fill="#2f0037"/>
<rect x="283.37" y="368.61" width="6.23" height="5.14" fill="#32003d"/>
<rect x="289.60" y="368.61" width="6.23" height="5.14" fill="#340043"/>
<rect x="295.83" y="368.61" width="6.23" height="5.14" fill="#370049"/>
<rect x="302.06" y="368.61" width="6.23" height="5.14" fill="#3b0055"/>
<rect x="308.29" y="368.61" width="31.14" height="5.14" fill="#3f0060"/>
<rect x="339.43" y="368.61" width="6.23" height="5.14" fill="#410066"/>
<rect x="345.66" y="368.61" width="6.23" height="5.14" fill="#43006b"/>
<rect x="351.89" y="368.61" width="6.23" height="5.14" fill="#3f0060"/>
<rect x="358.12" y="368.61" width="6.23" height="5.14" fill="#3b0055"/>
<rect x="364.35" y="368.61" width="6.23" height="5.14" fill="#370049"/>
<rect x="370.58" y="368.61" width="6.23" height="5.14" fill="#32003d"/>
<rect x="376.81" y="368.61" width="6.23" height="5.14" fill="#2f0037"/>
<rect x="383.04" y="368.61" width="18.69" height="5.14" fill="#2d0031"/>
<rect x="401.72" y="368.61" width="6.23" height="5.14" fill="#32003d"/>
<rect x="407.95" y="368.61" width="6.23" height="5.14" fill="#370049"/>
<rect x="414.18" y="368.61" width="6.23" height="5.14" fill="#39004f"/>
<rect x="420.41" y="368.61" width="6.23" height="5.14" fill="#3b0055"/>
<rect x="426.64" y="368.61" width="6.23" height="5.14" fill="#3f0060"/>
<rect x="432.87" y="368.61" width="6.23" height="5.14" fill="#43006b"/>
<rect x="439.10" y="368.61" width="6.23" height="5.14" fill="#470076"/>
<rect x="445.33" y="368.61" width="6.23" height="5.14" fill="#4a0081"/>
<rect x="451.55" y="368.61" width="6.23" height="5.14" fill="#510096"/>
<rect x="457.78" y="368.61" width="6.23" height="5.14" fill="#5700a9"/>
<rect x="464.01" y="368.61" width="6.23" height="5.14" fill="#5b01b6"/>
<rect x="470.24" y="368.61" width="6.23" height="5.14" fill="#5f01c3"/>
<rect x="476.47" y="368.61" width="6.23" height="5.14" fill="#6401d2"/>
<rect x="482.70" y="368.61" width="41.30" height="5.14" fill="#6901df"/>
<rect x="75.00" y="373.74" width="15.27" height="5.14" fill="#5f01c3"/>
<rect x="90.27" y="373.74" width="6.23" height="5.14" fill="#5c01bb"/>
<rect x="96.50" y="373.74" width="6.23" height="5.14" fill="#5900b2"/>
<rect x="102.73" y="373.74" width="6.23" height="5.14" fill="#5700a9"/>
<rect x="108.96" y="373.74" width="6.23" height="5.14" fill="#54009f"/>
<rect x="115.19" y="373.74" width="6.23" height="5.14" fill="#510096"/>
<rect x="121.42" y="373.74" width="6.23" height="5.14" fill="#4d008c"/>
<rect x="127.65" y="373.74" width="6.23" height="5.14" fill="#4a0081"/>
<rect x="133.88" y="373.74" width="18.69" height="5.14" fill="#470076"/>
<rect x="152.56" y="373.74" width="6.23" height="5.14" fill="#43006b"/>
<rect x="158.79" y="373.74" width="18.69" height="5.14" fill="#3f0060"/>
<rect x="177.48" y="373.74" width="6.23" height="5.14" fill="#3b0055"/>
<rect x="183.71" y="373.74" width="18.69" height="5.14" fill="#370049"/>
<rect x="202.39" y="373.74" width="6.23" height="5.14" fill="#32003d"/>
<rect x="208.62" y="373.74" width="43.60" height="5.14" fill="#2d0031"/>
<rect x="252.23" y="373.74" width="6.23" height="5.14" fill="#23001f"/>
<rect x="258.46" y="373.74" width="6.23" height="5.14" fill="#16000c"/>
<rect x="264.68" y="373.74" width="6.23" height="5.14" fill="#23001f"/>
<rect x="270.91" y="373.74" width="18.69" height="5.14" fill="#2d0031"/>
<rect x="289.60" y="373.74" width="6.23" height="5.14" fill="#32003d"/>
<rect x="295.83" y="373.74" width="6.23" height="5.14" fill="#370049"/>
<rect x="302.06" y="373.74" width="6.23" height="5.14" fill="#3b0055"/>
<rect x="308.29" y="373.74" width="43.60" height="5.14" fill="#3f0060"/>
<rect x="351.89" y="373.74" width="6.23" height="5.14" fill="#3b0055"/>
<rect x="358.12" y="373.74" width="6.23" height="5.14" fill="#370049"/>
<rect x="364.35" y="373.74" width="6.23" height="5.14" fill="#32003d"/>
<rect x="370.58" y="373.74" width="31.14" height="5.14" fill="#2d0031"/>
<rect x="401.72" y="373.74" width="6.23" height="5.14" fill="#32003d"/>
<rect x="407.95" y="373.74" width="6.23" height="5.14" fill="#370049"/>
<rect x="414.18" y="373.74" width="6.23" height="5.14" fill="#3b0055"/>
<rect x="420.41" y="373.74" width="6.23" height="5.14" fill="#3f0060"/>
<rect x="426.64" y="373.74" width="6.23" height="5.14" fill="#43006b"/>
<rect x="432.87" y="373.74" width="6.23" height="5.14" fill="#470076"/>
<rect x="439.10" y="373.74" width="6.23" height="5.14" fill="#4a0081"/>
<rect x="445.33" y="373.74" width="6.23" height="5.14" fill="#4d008c"/>
<rect x="451.55" y="373.74" width="6.23" height="5.14" fill="#54009f"/>
<rect x="457.78" y="373.74" width="6.23" height="5.14" fill="#5900b2"/>
<rect x="464.01" y="373.74" width="6.23" height="5.14" fill="#5c01bb"/>
<rect x="470.24" y="373.74" width="6.23" height="5.14" fill="#5f01c3"/>
<rect x="476.47" y="373.74" width="6.23" height="5.14" fill="#6401d2"/>
<rect x="482.70" y="373.74" width="6.23" height="5.14" fill="#6901df"/>
<rect x="488.93" y="373.74" width="6.23" height="5.14" fill="#6601d8"/>
<rect x="495.16" y="373.74" width="28.84" height="5.14" fill="#6401d2"/>
<rect x="75.00" y="378.88" width="15.27" height="5.14" fill="#5900b2"/>
<rect x="90.27" y="378.88" width="6.23" height="5.14" fill="#5700a9"/>
<rect x="96.50" y="378.88" width="6.23" height="5.14" fill="#54009f"/>
<rect x="102.73" y="378.88" width="6.23" height="5.14" fill="#510096"/>
<rect x="108.96" y="378.88" width="6.23" height="5.14" fill="#4d008c"/>
<rect x="115.19" y="378.88" width="6.23" height="5.14" fill="#4a0081"/>
<rect x="121.42" y="378.88" width="6.23" height="5.14" fill="#470076"/>
<rect x="127.65" y="378.88" width="6.23" height="5.14" fill="#43006b"/>
<rect x="133.88" y="378.88" width="18.69" height="5.14" fill="#3f0060"/>
<rect x="152.56" y="378.88" width="6.23" height="5.14" fill="#3d005a"/>
<rect x="158.79" y="378.88" width="18.69" height="5.14" fill="#3b0055"/>
<rect x="177.48" y="378.88" width="6.23" height="5.14" fill="#39004f"/>
<rect x="183.71" y="378.88" width="18.69" height="5.14" fill="#370049"/>
<rect x="202.39" y="378.88" width="6.23" height="5.14" fill="#32003d"/>
<rect x="208.62" y="378.88" width="43.60" height="5.14" fill="#2d0031"/>
<rect x="252.23" y="378.88" width="6.23" height="5.14" fill="#280028"/>
<rect x="258.46" y="378.88" width="6.23" height="5.14" fill="#23001f"/>
<rect x="264.68" y="378.88" width="6.23" height="5.14" fill="#280028"/>
<rect x="270.91" y="378.88" width="18.69" height="5.14" fill="#2d0031"/>
<rect x="289.60" y="378.88" width="6.23" height="5.14" fill="#32003d"/>
<rect x="295.83" y="378.88" width="6.23" height="5.14" fill="#370049"/>
<rect x="302.06" y="378.88" width="6.23" height="5.14" fill="#39004f"/>
<rect x="308.29" y="378.88" width="31.14" height="5.14" fill="#3b0055"/>
<rect x="339.43" y="378.88" width="6.23" height="5.14" fill="#39004f"/>
<rect x="345.66" y="378.88" width="6.23" height="5.14" fill="#370049"/>
<rect x="351.89" y="378.88" width="6.23" height="5.14" fill="#32003d"/>
<rect x="358.12" y="378.88" width="43.60" height="5.14" fill="#2d0031"/>
<rect x="401.72" y="378.88" width="6.23" height="5.14" fill="#32003d"/>
<rect x="407.95" y="378.88" width="6.23" height="5.14" fill="#370049"/>
<rect x="414.18" y="378.88" width="6.23" height="5.14" fill="#3d005a"/>
<rect x="420.41" y="378.88" width="6.23" height="5.14" fill="#43006b"/>
<rect x="426.64" y="378.88" width="6.23" height="5.14" fill="#48007c"/>
<rect x="432.87" y="378.88" width="6.23" height="5.14" fill="#4d008c"/>
<rect x="439.10" y="378.88" width="6.23" height="5.14" fill="#4f0091"/>
<rect x="445.33" y="378.88" width="6.23" height="5.14" fill="#510096"/>
<rect x="451.55" y="378.88" width="6.23" height="5.14" fill="#5500a4"/>
<rect x="457.78" y="378.88" width="6.23" height="5.14" fill="#5900b2"/>
<rect x="464.01" y="378.88" width="6.23" height="5.14" fill="#5c01bb"/>
<rect x="470.24" y="378.88" width="6.23" height="5.14" fill="#5f01c3"/>
<rect x="476.47" y="378.88" width="6.23" height="5.14" fill="#6101ca"/>
<rect x="482.70" y="378.88" width="6.23" height="5.14" fill="#6401d2"/>
<rect x="488.93" y="378.88" width="6.23" height="5.14" fill="#6101ca"/>
<rect x="495.16" y="378.88" width="6.23" height="5.14" fill="#5f01c3"/>
<rect x="501.39" y="378.88" width="6.23" height="5.14" fill="#5c01bb"/>
<rect x="507.62" y="378.88" width="6.23" height="5.14" fill="#5900b2"/>
<rect x="513.84" y="378.88" width="6.23" height="5.14" fill="#5700a9"/>
<rect x="520.07" y="378.88" width="3.93" height="5.14" fill="#54009f"/>
<rect x="75.00" y="384.02" width="15.27" height="5.14" fill="#54009f"/>
<rect x="90.27" y="384.02" width="6.23" height="5.14" fill="#510096"/>
<rect x="96.50" y="384.02" width="6.23" height="5.14" fill="#4d008c"/>
<rect x="102.73" y="384.02" width="6.23" height="5.14" fill="#4a0081"/>
<rect x="108.96" y="384.02" width="6.23" height="5.14" fill="#470076"/>
<rect x="115.19" y="384.02" width="6.23" height="5.14" fill="#43006b"/>
<rect x="121.42" y="384.02" width="6.23" height="5.14" fill="#3f0060"/>
<rect x="127.65" y="384.02" width="6.23" height="5.14" fill="#3b0055"/>
<rect x="133.88" y="384.02" width="68.52" height="5.14" fill="#370049"/>
<rect x="202.39" y="384.02" width="6.23" height="5.14" fill="#32003d"/>
<rect x="208.62" y="384.02" width="80.98" height="5.14" fill="#2d0031"/>
<rect x="289.60" y="384.02" width="6.23" height="5.14" fill="#32003d"/>
<rect x="295.83" y="384.02" width="43.60" height="5.14" fill="#370049"/>
<rect x="339.43" y="384.02" width="6.23" height="5.14" fill="#32003d"/>
<rect x="345.66" y="384.02" width="6.23" height="5.14" fill="#2d0031"/>
<rect x="351.89" y="384.02" width="6.23" height="5.14" fill="#270025"/>
<rect x="358.12" y="384.02" width="6.23" height="5.14" fill="#200019"/>
<rect x="364.35" y="384.02" width="6.23" height="5.14" fill="#270025"/>
<rect x="370.58" y="384.02" width="31.14" height="5.14" fill="#2d0031"/>
<rect x="401.72" y="384.02" width="6.23" height="5.14" fill="#32003d"/>
<rect x="407.95" y="384.02" width="6.23" height="5.14" fill="#370049"/>
<rect x="414.18" y="384.02" width="6.23" height="5.14" fill="#3f0060"/>
<rect x="420.41" y="384.02" width="6.23" height="5.14" fill="#470076"/>
<rect x="426.64" y="384.02" width="6.23" height="5.14" fill="#4d008c"/>
<rect x="432.87" y="384.02" width="18.69" height="5.14" fill="#54009f"/>
<rect x="451.55" y="384.02" width="6.23" height="5.14" fill="#5700a9"/>
<rect x="457.78" y="384.02" width="6.23" height="5.14" fill="#5900b2"/>
<rect x="464.01" y="384.02" width="6.23" height="5.14" fill="#5c01bb"/>
<rect x="470.24" y="384.02" width="18.69" height="5.14" fill="#5f01c3"/>
<rect x="488.93" y="384.02" width="6.23" height="5.14" fill="#5c01bb"/>
<rect x="495.16" y="384.02" width="6.23" height="5.14" fill="#5900b2"/>
<rect x="501.39" y="384.02" width="6.23" height="5.14" fill="#54009f"/>
<rect x="507.62" y="384.02" width="6.23" height="5.14" fill="#4d008c"/>
<rect x="513.84" y="384.02" width="6.23" height="5.14" fill="#470076"/>
<rect x="520.07" y="384.02" width="3.93" height="5.14" fill="#3f0060"/>
<rect x="75.00" y="389.16" width="15.27" height="5.14" fill="#4a0081"/>
<rect x="90.27" y="389.16" width="6.23" height="5.14" fill="#470076"/>
<rect x="96.50" y="389.16" width="6.23" height="5.14" fill="#43006b"/>
<rect x="102.73" y="389.16" width="6.23" height="5.14" fill="#410066"/>
<rect x="108.96" y="389.16" width="6.23" height="5.14" fill="#3f0060"/>
<rect x="115.19" y="389.16" width="6.23" height="5.14" fill="#3b0055"/>
<rect x="121.42" y="389.16" width="6.23" height="5.14" fill="#370049"/>
<rect x="127.65" y="389.16" width="6.23" height="5.14" fill="#340043"/>
<rect x="133.88" y="389.16" width="43.60" height="5.14" fill="#32003d"/>
<rect x="177.48" y="389.16" width="6.23" height="5.14" fill="#340043"/>
<rect x="183.71" y="389.16" width="18.69" height="5.14" fill="#370049"/>
<rect x="202.39" y="389.16" width="6.23" height="5.14" fill="#340043"/>
<rect x="208.62" y="389.16" width="6.23" height="5.14" fill="#32003d"/>
<rect x="214.85" y="389.16" width="6.23" height="5.14" fill="#2f0037"/>
<rect x="221.08" y="389.16" width="68.52" height="5.14" fill="#2d0031"/>
<rect x="289.60" y="389.16" width="6.23" height="5.14" fill="#2f0037"/>
<rect x="295.83" y="389.16" width="43.60" height="5.14" fill="#32003d"/>
<rect x="339.43" y="389.16" width="6.23" height="5.14" fill="#2d0031"/>
<rect x="345.66" y="389.16" width="6.23" height="5.14" fill="#270025"/>
<rect x="351.89" y="389.16" width="6.23" height="5.14" fill="#22001c"/>
<rect x="358.12" y="389.16" width="6.23" height="5.14" fill="#1b0012"/>
<rect x="364.35" y="389.16" width="6.23" height="5.14" fill="#22001c"/>
<rect x="370.58" y="389.16" width="6.23" height="5.14" fill="#270025"/>
<rect x="376.81" y="389.16" width="6.23" height="5.14" fill="#2a002b"/>
<rect x="383.04" y="389.16" width="18.69" height="5.14" fill="#2d0031"/>
<rect x="401.72" y="389.16" width="6.23" height="5.14" fill="#2f0037"/>
<rect x="407.95" y="389.16" width="6.23" height="5.14" fill="#32003d"/>
<rect x="414.18" y="389.16" width="6.23" height="5.14" fill="#39004f"/>
<rect x="420.41" y="389.16" width="6.23" height="5.14" fill="#3f0060"/>
<rect x="426.64" y="389.16" width="6.23" height="5.14" fill="#470076"/>
<rect x="432.87" y="389.16" width="6.23" height="5.14" fill="#4d008c"/>
<rect x="439.10" y="389.16" width="6.23" height="5.14" fill="#4c0086"/>
<rect x="445.33" y="389.16" width="6.23" height="5.14" fill="#4a0081"/>
<rect x="451.55" y="389.16" width="6.23" height="5.14" fill="#4c0086"/>
<rect x="457.78" y="389.16" width="6.23" height="5.14" fill="#4d008c"/>
<rect x="464.01" y="389.16" width="6.23" height="5.14" fill="#510096"/>
<rect x="470.24" y="389.16" width="6.23" height="5.14" fill="#54009f"/>
<rect x="476.47" y="389.16" width="6.23" height="5.14" fill="#52009b"/>
<rect x="482.70" y="389.16" width="6.23" height="5.14" fill="#510096"/>
<rect x="488.93" y="389.16" width="6.23" height="5.14" fill="#4d008c"/>
<rect x="495.16" y="389.16" width="6.23" height="5.14" fill="#4a0081"/>
<rect x="501.39" y="389.16" width="6.23" height="5.14" fill="#470076"/>
<rect x="507.62" y="389.16" width="6.23" height="5.14" fill="#43006b"/>
<rect x="513.84" y="389.16" width="6.23" height="5.14" fill="#3f0060"/>
<rect x="520.07" y="389.16" width="3.93" height="5.14" fill="#3b0055"/>
<rect x="75.00" y="394.29" width="15.27" height="5.14" fill="#3f0060"/>
<rect x="90.27" y="394.29" width="6.23" height="5.14" fill="#3b0055"/>
<rect x="96.50" y="394.29" width="18.69" height="5.14" fill="#370049"/>
<rect x="115.19" y="394.29" width="6.23" height="5.14" fill="#32003d"/>
<rect x="121.42" y="394.29" width="56.06" height="5.14" fill="#2d0031"/>
<rect x="177.48" y="394.29" width="6.23" height="5.14" fill="#32003d"/>
<rect x="183.71" y="394.29" width="31.15" height="5.14" fill="#370049"/>
<rect x="214.85" y="394.29" width="6.23" height="5.14" fill="#32003d"/>
<rect x="221.08" y="394.29" width="118.35" height="5.14" fill="#2d0031"/>
<rect x="339.43" y="394.29" width="6.23" height="5.14" fill="#270025"/>
<rect x="345.66" y="394.29" width="6.23" height="5.14" fill="#200019"/>
<rect x="351.89" y="394.29" width="6.23" height="5.14" fill="#1b0012"/>
<rect x="358.12" y="394.29" width="6.23" height="5.14" fill="#16000c"/>
<rect x="364.35" y="394.29" width="6.23" height="5.14" fill="#1b0012"/>
<rect x="370.58" y="394.29" width="6.23" height="5.14" fill="#200019"/>
<rect x="376.81" y="394.29" width="6.23" height="5.14" fill="#270025"/>
<rect x="383.04" y="394.29" width="31.14" height="5.14" fill="#2d0031"/>
<rect x="414.18" y="394.29" width="6.23" height="5.14" fill="#32003d"/>
<rect x="420.41" y="394.29" width="6.23" height="5.14" fill="#370049"/>
<rect x="426.64" y="394.29" width="6.23" height="5.14" fill="#3f0060"/>
<rect x="432.87" y="394.29" width="6.23" height="5.14" fill="#470076"/>
<rect x="439.10" y="394.29" width="6.23" height="5.14" fill="#43006b"/>
<rect x="445.33" y="394.29" width="18.69" height="5.14" fill="#3f0060"/>
<rect x="464.01" y="394.29" width="6.23" height="5.14" fill="#43006b"/>
<rect x="470.24" y="394.29" width="6.23" height="5.14" fill="#470076"/>
<rect x="476.47" y="394.29" width="6.23" height="5.14" fill="#43006b"/>
<rect x="482.70" y="394.29" width="6.23" height="5.14" fill="#3f0060"/>
<rect x="488.93" y="394.29" width="6.23" height="5.14" fill="#3b0055"/>
<rect x="495.16" y="394.29" width="28.84" height="5.14" fill="#370049"/>
<rect x="75.00" y="399.43" width="15.27" height="5.14" fill="#370049"/>
<rect x="90.27" y="399.43" width="6.23" height="5.14" fill="#340043"/>
<rect x="96.50" y="399.43" width="18.69" height="5.14" fill="#32003d"/>
<rect x="115.19" y="399.43" width="6.23" height="5.14" fill="#2e0034"/>
<rect x="121.42" y="399.43" width="56.06" height="5.14" fill="#2a002b"/>
<rect x="177.48" y="399.43" width="6.23" height="5.14" fill="#2e0034"/>
<rect x="183.71" y="399.43" width="31.15" height="5.14" fill="#32003d"/>
<rect x="214.85" y="399.43" width="6.23" height="5.14" fill="#2f0037"/>
<rect x="221.08" y="399.43" width="68.52" height="5.14" fill="#2d0031"/>
<rect x="289.60" y="399.43" width="6.23" height="5.14" fill="#2a002b"/>
<rect x="295.83" y="399.43" width="6.23" height="5.14" fill="#270025"/>
<rect x="302.06" y="399.43" width="6.23" height="5.14" fill="#2a002b"/>
<rect x="308.29" y="399.43" width="31.14" height="5.14" fill="#2d0031"/>
<rect x="339.43" y="399.43" width="6.23" height="5.14" fill="#270025"/>
<rect x="345.66" y="399.43" width="6.23" height="5.14" fill="#200019"/>
<rect x="351.89" y="399.43" width="6.23" height="5.14" fill="#1e0016"/>
<rect x="358.12" y="399.43" width="6.23" height="5.14" fill="#1b0012"/>
<rect x="364.35" y="399.43" width="6.23" height="5.14" fill="#22001c"/>
<rect x="370.58" y="399.43" width="6.23" height="5.14" fill="#270025"/>
<rect x="376.81" y="399.43" width="6.23" height="5.14" fill="#2a002b"/>
<rect x="383.04" y="399.43" width="31.14" height="5.14" fill="#2d0031"/>
<rect x="414.18" y="399.43" width="6.23" height="5.14" fill="#2f0037"/>
<rect x="420.41" y="399.43" width="6.23" height="5.14" fill="#32003d"/>
<rect x="426.64" y="399.43" width="6.23" height="5.14" fill="#330040"/>
<rect x="432.87" y="399.43" width="6.23" height="5.14" fill="#340043"/>
<rect x="439.10" y="399.43" width="6.23" height="5.14" fill="#360046"/>
<rect x="445.33" y="399.43" width="18.69" height="5.14" fill="#370049"/>
<rect x="464.01" y="399.43" width="6.23" height="5.14" fill="#39004f"/>
<rect x="470.24" y="399.43" width="6.23" height="5.14" fill="#3b0055"/>
<rect x="476.47" y="399.43" width="6.23" height="5.14" fill="#39004f"/>
<rect x="482.70" y="399.43" width="6.23" height="5.14" fill="#370049"/>
<rect x="488.93" y="399.43" width="6.23" height="5.14" fill="#340043"/>
<rect x="495.16" y="399.43" width="28.84" height="5.14" fill="#32003d"/>
<rect x="75.00" y="404.57" width="40.19" height="5.14" fill="#2d0031"/>
<rect x="115.19" y="404.57" width="6.23" height="5.14" fill="#2a002b"/>
<rect x="121.42" y="404.57" width="56.06" height="5.14" fill="#270025"/>
<rect x="177.48" y="404.57" width="6.23" height="5.14" fill="#2a002b"/>
<rect x="183.71" y="404.57" width="105.89" height="5.14" fill="#2d0031"/>
<rect x="289.60" y="404.57" width="6.23" height="5.14" fill="#270025"/>
<rect x="295.83" y="404.57" width="6.23" height="5.14" fill="#200019"/>
<rect x="302.06" y="404.57" width="6.23" height="5.14" fill="#270025"/>
<rect x="308.29" y="404.57" width="31.14" height="5.14" fill="#2d0031"/>
<rect x="339.43" y="404.57" width="6.23" height="5.14" fill="#270025"/>
<rect x="345.66" y="404.57" width="18.69" height="5.14" fill="#200019"/>
<rect x="364.35" y="404.57" width="6.23" height="5.14" fill="#270025"/>
<rect x="370.58" y="404.57" width="56.06" height="5.14" fill="#2d0031"/>
<rect x="426.64" y="404.57" width="6.23" height="5.14" fill="#23001f"/>
<rect x="432.87" y="404.57" width="6.23" height="5.14" fill="#16000c"/>
<rect x="439.10" y="404.57" width="6.23" height="5.14" fill="#23001f"/>
<rect x="445.33" y="404.57" width="78.67" height="5.14" fill="#2d0031"/>
<rect x="75.00" y="409.71" width="40.19" height="5.14" fill="#23001f"/>
<rect x="115.19" y="409.71" width="6.23" height="5.14" fill="#22001c"/>
<rect x="121.42" y="409.71" width="56.06" height="5.14" fill="#200019"/>
<rect x="177.48" y="409.71" width="6.23" height="5.14" fill="#23001f"/>
<rect x="183.71" y="409.71" width="105.89" height="5.14" fill="#270025"/>
<rect x="289.60" y="409.71" width="6.23" height="5.14" fill="#23001f"/>
<rect x="295.83" y="409.71" width="6.23" height="5.14" fill="#200019"/>
<rect x="302.06" y="409.71" width="6.23" height="5.14" fill="#23001f"/>
<rect x="308.29" y="409.71" width="31.14" height="5.14" fill="#270025"/>
<rect x="339.43" y="409.71" width="6.23" height="5.14" fill="#23001f"/>
<rect x="345.66" y="409.71" width="18.69" height="5.14" fill="#200019"/>
<rect x="364.35" y="409.71" width="6.23" height="5.14" fill="#23001f"/>
<rect x="370.58" y="409.71" width="56.06" height="5.14" fill="#270025"/>
<rect x="426.64" y="409.71" width="6.23" height="5.14" fill="#200019"/>
<rect x="432.87" y="409.71" width="6.23" height="5.14" fill="#16000c"/>
<rect x="439.10" y="409.71" width="6.23" height="5.14" fill="#200019"/>
<rect x="445.33" y="409.71" width="78.67" height="5.14" fill="#270025"/>
<rect x="75.00" y="414.84" width="102.48" height="4.16" fill="#16000c"/>
<rect x="177.48" y="414.84" width="6.23" height="4.16" fill="#1b0012"/>
<rect x="183.71" y="414.84" width="242.93" height="4.16" fill="#200019"/>
<rect x="426.64" y="414.84" width="6.23" height="4.16" fill="#1b0012"/>
<rect x="432.87" y="414.84" width="6.23" height="4.16" fill="#16000c"/>
<rect x="439.10" y="414.84" width="6.23" height="4.16" fill="#1b0012"/>
<rect x="445.33" y="414.84" width="78.67" height="4.16" fill="#200019"/></g>
<g><rect x="536" y="58" width="21" height="1.02" fill="#fffe00"/>
<rect x="536" y="59" width="21" height="1.02" fill="#fefc00"/>
<rect x="536" y="60" width="21" height="1.02" fill="#fefa00"/>
<rect x="536" y="61" width="21" height="1.02" fill="#fef800"/>
<rect x="536" y="62" width="21" height="1.02" fill="#fdf600"/>
<rect x="536" y="63" width="21" height="1.02" fill="#fdf400"/>
<rect x="536" y="64" width="21" height="1.02" fill="#fdf100"/>
<rect x="536" y="65" width="21" height="1.02" fill="#fcef00"/>
<rect x="536" y="66" width="21" height="1.02" fill="#fced00"/>
<rect x="536" y="67" width="21" height="1.02" fill="#fceb00"/>
<rect x="536" y="68" width="21" height="1.02" fill="#fbe900"/>
<rect x="536" y="69" width="21" height="1.02" fill="#fbe700"/>
<rect x="536" y="70" width="21" height="1.02" fill="#fbe500"/>
<rect x="536" y="71" width="21" height="1.02" fill="#fae300"/>
<rect x="536" y="72" width="21" height="1.02" fill="#fae100"/>
<rect x="536" y="73" width="21" height="1.02" fill="#f9e000"/>
<rect x="536" y="74" width="21" height="1.02" fill="#f9de00"/>
<rect x="536" y="75" width="21" height="1.02" fill="#f9dc00"/>
<rect x="536" y="76" width="21" height="1.02" fill="#f8da00"/>
<rect x="536" y="77" width="21" height="1.02" fill="#f8d800"/>
<rect x="536" y="78" width="21" height="1.02" fill="#f8d600"/>
<rect x="536" y="79" width="21" height="1.02" fill="#f7d400"/>
<rect x="536" y="80" width="21" height="1.02" fill="#f7d200"/>
<rect x="536" y="81" width="21" height="1.02" fill="#f7d000"/>
<rect x="536" y="82" width="21" height="1.02" fill="#f6cf00"/>
<rect x="536" y="83" width="21" height="1.02" fill="#f6cd00"/>
<rect x="536" y="84" width="21" height="1.02" fill="#f5cb00"/>
<rect x="536" y="85" width="21" height="1.02" fill="#f5c900"/>
<rect x="536" y="86" width="21" height="1.02" fill="#f5c700"/>
<rect x="536" y="87" width="21" height="1.02" fill="#f4c500"/>
<rect x="536" y="88" width="21" height="1.02" fill="#f4c400"/>
<rect x="536" y="89" width="21" height="1.02" fill="#f4c200"/>
<rect x="536" y="90" width="21" height="1.02" fill="#f3c000"/>
<rect x="536" y="91" width="21" height="1.02" fill="#f3be00"/>
<rect x="536" y="92" width="21" height="1.02" fill="#f3bd00"/>
<rect x="536" y="93" width="21" height="1.02" fill="#f2bb00"/>
<rect x="536" y="94" width="21" height="1.02" fill="#f2b900"/>
<rect x="536" y="95" width="21" height="1.02" fill="#f1b800"/>
<rect x="536" y="96" width="21" height="1.02" fill="#f1b600"/>
<rect x="536" y="97" width="21" height="1.02" fill="#f1b400"/>
<rect x="536" y="98" width="21" height="1.02" fill="#f0b200"/>
<rect x="536" y="99" width="21" height="1.02" fill="#f0b100"/>
<rect x="536" y="100" width="21" height="1.02" fill="#f0af00"/>
<rect x="536" y="101" width="21" height="1.02" fill="#efad00"/>
<rect x="536" y="102" width="21" height="1.02" fill="#efac00"/>
<rect x="536" y="103" width="21" height="1.02" fill="#eeaa00"/>
<rect x="536" y="104" width="21" height="1.02" fill="#eea900"/>
<rect x="536" y="105" width="21" height="1.02" fill="#eea700"/>
<rect x="536" y="106" width="21" height="1.02" fill="#eda500"/>
<rect x="536" y="107" width="21" height="1.02" fill="#eda400"/>
<rect x="536" y="108" width="21" height="1.02" fill="#eca200"/>
<rect x="536" y="109" width="21" height="1.02" fill="#eca100"/>
<rect x="536" y="110" width="21" height="1.02" fill="#ec9f00"/>
<rect x="536" y="111" width="21" height="1.02" fill="#eb9e00"/>
<rect x="536" y="112" width="21" height="1.02" fill="#eb9c00"/>
<rect x="536" y="113" width="21" height="1.02" fill="#eb9b00"/>
<rect x="536" y="114" width="21" height="1.02" fill="#ea9900"/>
<rect x="536" y="115" width="21" height="1.02" fill="#ea9800"/>
<rect x="536" y="116" width="21" height="1.02" fill="#e99600"/>
<rect x="536" y="117" width="21" height="1.02" fill="#e99500"/>
<rect x="536" y="118" width="21" height="1.02" fill="#e99300"/>
<rect x="536" y="119" width="21" height="1.02" fill="#e89200"/>
<rect x="536" y="120" width="21" height="1.02" fill="#e89000"/>
<rect x="536" y="121" width="21" height="1.02" fill="#e78f00"/>
<rect x="536" y="122" width="21" height="1.02" fill="#e78d00"/>
<rect x="536" y="123" width="21" height="1.02" fill="#e78c00"/>
<rect x="536" y="124" width="21" height="1.02" fill="#e68a00"/>
<rect x="536" y="125" width="21" height="1.02" fill="#e68900"/>
<rect x="536" y="126" width="21" height="1.02" fill="#e68800"/>
<rect x="536" y="127" width="21" height="1.02" fill="#e58600"/>
<rect x="536" y="128" width="21" height="1.02" fill="#e58500"/>
<rect x="536" y="129" width="21" height="1.02" fill="#e48400"/>
<rect x="536" y="130" width="21" height="1.02" fill="#e48200"/>
<rect x="536" y="131" width="21" height="1.02" fill="#e48100"/>
<rect x="536" y="132" width="21" height="1.02" fill="#e37f00"/>
<rect x="536" y="133" width="21" height="1.02" fill="#e37e00"/>
<rect x="536" y="134" width="21" height="1.02" fill="#e27d00"/>
<rect x="536" y="135" width="21" height="1.02" fill="#e27c00"/>
<rect x="536" y="136" width="21" height="1.02" fill="#e27a00"/>
<rect x="536" y="137" width="21" height="1.02" fill="#e17900"/>
<rect x="536" y="138" width="21" height="1.02" fill="#e17800"/>
<rect x="536" y="139" width="21" height="1.02" fill="#e07600"/>
<rect x="536" y="140" width="21" height="1.02" fill="#e07500"/>
<rect x="536" y="141" width="21" height="1.02" fill="#e07400"/>
<rect x="536" y="142" width="21" height="1.02" fill="#df7300"/>
<rect x="536" y="143" width="21" height="1.02" fill="#df7100"/>
<rect x="536" y="144" width="21" height="1.02" fill="#de7000"/>
<rect x="536" y="145" width="21" height="1.02" fill="#de6f00"/>
<rect x="536" y="146" width="21" height="1.02" fill="#de6e00"/>
<rect x="536" y="147" width="21" height="1.02" fill="#dd6c00"/>
<rect x="536" y="148" width="21" height="1.02" fill="#dd6b00"/>
<rect x="536" y="149" width="21" height="1.02" fill="#dc6a00"/>
<rect x="536" y="150" width="21" height="1.02" fill="#dc6900"/>
<rect x="536" y="151" width="21" height="1.02" fill="#dc6800"/>
<rect x="536" y="152" width="21" height="1.02" fill="#db6700"/>
<rect x="536" y="153" width="21" height="1.02" fill="#db6500"/>
<rect x="536" y="154" width="21" height="1.02" fill="#da6400"/>
<rect x="536" y="155" width="21" height="1.02" fill="#da6300"/>
<rect x="536" y="156" width="21" height="1.02" fill="#d96200"/>
<rect x="536" y="157" width="21" height="1.02" fill="#d96100"/>
<rect x="536" y="158" width="21" height="1.02" fill="#d96000"/>
<rect x="536" y="159" width="21" height="1.02" fill="#d85f00"/>
<rect x="536" y="160" width="21" height="1.02" fill="#d85e00"/>
<rect x="536" y="161" width="21" height="1.02" fill="#d75d00"/>
<rect x="536" y="162" width="21" height="1.02" fill="#d75b00"/>
<rect x="536" y="163" width="21" height="1.02" fill="#d75a00"/>
<rect x="536" y="164" width="21" height="1.02" fill="#d65900"/>
<rect x="536" y="165" width="21" height="1.02" fill="#d65800"/>
<rect x="536" y="166" width="21" height="1.02" fill="#d55700"/>
<rect x="536" y="167" width="21" height="1.02" fill="#d55600"/>
<rect x="536" y="168" width="21" height="1.02" fill="#d45500"/>
<rect x="536" y="169" width="21" height="1.02" fill="#d45400"/>
<rect x="536" y="170" width="21" height="1.02" fill="#d45300"/>
<rect x="536" y="171" width="21" height="1.02" fill="#d35200"/>
<rect x="536" y="172" width="21" height="1.02" fill="#d35100"/>
<rect x="536" y="173" width="21" height="1.02" fill="#d25000"/>
<rect x="536" y="174" width="21" height="1.02" fill="#d24f00"/>
<rect x="536" y="175" width="21" height="1.02" fill="#d14e00"/>
<rect x="536" y="176" width="21" height="1.02" fill="#d14d00"/>
<rect x="536" y="177" width="21" height="1.02" fill="#d14c00"/>
<rect x="536" y="178" width="21" height="1.02" fill="#d04b00"/>
<rect x="536" y="179" width="21" height="1.02" fill="#d04a00"/>
<rect x="536" y="180" width="21" height="1.02" fill="#cf4a00"/>
<rect x="536" y="181" width="21" height="1.02" fill="#cf4900"/>
<rect x="536" y="182" width="21" height="1.02" fill="#ce4800"/>
<rect x="536" y="183" width="21" height="1.02" fill="#ce4700"/>
<rect x="536" y="184" width="21" height="1.02" fill="#ce4600"/>
<rect x="536" y="185" width="21" height="1.02" fill="#cd4500"/>
<rect x="536" y="186" width="21" height="1.02" fill="#cd4400"/>
<rect x="536" y="187" width="21" height="1.02" fill="#cc4300"/>
<rect x="536" y="188" width="21" height="1.02" fill="#cc4200"/>
<rect x="536" y="189" width="21" height="1.02" fill="#cb4200"/>
<rect x="536" y="190" width="21" height="1.02" fill="#cb4100"/>
<rect x="536" y="191" width="21" height="1.02" fill="#ca4000"/>
<rect x="536" y="192" width="21" height="1.02" fill="#ca3f00"/>
<rect x="536" y="193" width="21" height="1.02" fill="#ca3e00"/>
<rect x="536" y="194" width="21" height="1.02" fill="#c93d00"/>
<rect x="536" y="195" width="21" height="1.02" fill="#c93d00"/>
<rect x="536" y="196" width="21" height="1.02" fill="#c83c00"/>
<rect x="536" y="197" width="21" height="1.02" fill="#c83b00"/>
<rect x="536" y="198" width="21" height="1.02" fill="#c73a00"/>
<rect x="536" y="199" width="21" height="1.02" fill="#c73900"/>
<rect x="536" y="200" width="21" height="1.02" fill="#c63900"/>
<rect x="536" y="201" width="21" height="1.02" fill="#c63800"/>
<rect x="536" y="202" width="21" height="1.02" fill="#c53700"/>
<rect x="536" y="203" width="21" height="1.02" fill="#c53600"/>
<rect x="536" y="204" width="21" height="1.02" fill="#c53500"/>
<rect x="536" y="205" width="21" height="1.02" fill="#c43500"/>
<rect x="536" y="206" width="21" height="1.02" fill="#c43400"/>
<rect x="536" y="207" width="21" height="1.02" fill="#c33300"/>
<rect x="536" y="208" width="21" height="1.02" fill="#c33300"/>
<rect x="536" y="209" width="21" height="1.02" fill="#c23200"/>
<rect x="536" y="210" width="21" height="1.02" fill="#c23100"/>
<rect x="536" y="211" width="21" height="1.02" fill="#c13000"/>
<rect x="536" y="212" width="21" height="1.02" fill="#c13000"/>
<rect x="536" y="213" width="21" height="1.02" fill="#c02f00"/>
<rect x="536" y="214" width="21" height="1.02" fill="#c02e00"/>
<rect x="536" y="215" width="21" height="1.02" fill="#bf2e00"/>
<rect x="536" y="216" width="21" height="1.02" fill="#bf2d00"/>
<rect x="536" y="217" width="21" height="1.02" fill="#bf2c00"/>
<rect x="536" y="218" width="21" height="1.02" fill="#be2c00"/>
<rect x="536" y="219" width="21" height="1.02" fill="#be2b00"/>
<rect x="536" y="220" width="21" height="1.02" fill="#bd2a00"/>
<rect x="536" y="221" width="21" height="1.02" fill="#bd2a00"/>
<rect x="536" y="222" width="21" height="1.02" fill="#bc2900"/>
<rect x="536" y="223" width="21" height="1.02" fill="#bc2900"/>
<rect x="536" y="224" width="21" height="1.02" fill="#bb2800"/>
<rect x="536" y="225" width="21" height="1.02" fill="#bb2700"/>
<rect x="536" y="226" width="21" height="1.02" fill="#ba2700"/>
<rect x="536" y="227" width="21" height="1.02" fill="#ba2600"/>
<rect x="536" y="228" width="21" height="1.02" fill="#b92500"/>
<rect x="536" y="229" width="21" height="1.02" fill="#b92500"/>
<rect x="536" y="230" width="21" height="1.02" fill="#b82400"/>
<rect x="536" y="231" width="21" height="1.02" fill="#b82400"/>
<rect x="536" y="232" width="21" height="1.02" fill="#b72300"/>
<rect x="536" y="233" width="21" height="1.02" fill="#b72300"/>
<rect x="536" y="234" width="21" height="1.02" fill="#b62200"/>
<rect x="536" y="235" width="21" height="1.02" fill="#b62100"/>
<rect x="536" y="236" width="21" height="1.02" fill="#b52100"/>
<rect x="536" y="237" width="21" height="1.02" fill="#b52000"/>
<rect x="536" y="238" width="21" height="1.02" fill="#b42000"/>
<rect x="536" y="239" width="21" height="1.02" fill="#b41f04"/>
<rect x="536" y="240" width="21" height="1.02" fill="#b31f09"/>
<rect x="536" y="241" width="21" height="1.02" fill="#b31e0d"/>
<rect x="536" y="242" width="21" height="1.02" fill="#b21e12"/>
<rect x="536" y="243" width="21" height="1.02" fill="#b21d16"/>
<rect x="536" y="244" width="21" height="1.02" fill="#b11d1b"/>
<rect x="536" y="245" width="21" height="1.02" fill="#b11c1f"/>
<rect x="536" y="246" width="21" height="1.02" fill="#b01c23"/>
<rect x="536" y="247" width="21" height="1.02" fill="#b01b28"/>
<rect x="536" y="248" width="21" height="1.02" fill="#af1b2c"/>
<rect x="536" y="249" width="21" height="1.02" fill="#af1a31"/>
<rect x="536" y="250" width="21" height="1.02" fill="#ae1a35"/>
<rect x="536" y="251" width="21" height="1.02" fill="#ae1939"/>
<rect x="536" y="252" width="21" height="1.02" fill="#ad193e"/>
<rect x="536" y="253" width="21" height="1.02" fill="#ad1942"/>
<rect x="536" y="254" width="21" height="1.02" fill="#ac1846"/>
<rect x="536" y="255" width="21" height="1.02" fill="#ac184a"/>
<rect x="536" y="256" width="21" height="1.02" fill="#ab174f"/>
<rect x="536" y="257" width="21" height="1.02" fill="#ab1753"/>
<rect x="536" y="258" width="21" height="1.02" fill="#aa1657"/>
<rect x="536" y="259" width="21" height="1.02" fill="#a9165b"/>
<rect x="536" y="260" width="21" height="1.02" fill="#a9165f"/>
<rect x="536" y="261" width="21" height="1.02" fill="#a81563"/>
<rect x="536" y="262" width="21" height="1.02" fill="#a81567"/>
<rect x="536" y="263" width="21" height="1.02" fill="#a7146b"/>
<rect x="536" y="264" width="21" height="1.02" fill="#a7146f"/>
<rect x="536" y="265" width="21" height="1.02" fill="#a61473"/>
<rect x="536" y="266" width="21" height="1.02" fill="#a61377"/>
<rect x="536" y="267" width="21" height="1.02" fill="#a5137b"/>
<rect x="536" y="268" width="21" height="1.02" fill="#a5127f"/>
<rect x="536" y="269" width="21" height="1.02" fill="#a41283"/>
<rect x="536" y="270" width="21" height="1.02" fill="#a41287"/>
<rect x="536" y="271" width="21" height="1.02" fill="#a3118b"/>
<rect x="536" y="272" width="21" height="1.02" fill="#a2118e"/>
<rect x="536" y="273" width="21" height="1.02" fill="#a21192"/>
<rect x="536" y="274" width="21" height="1.02" fill="#a11096"/>
<rect x="536" y="275" width="21" height="1.02" fill="#a11099"/>
<rect x="536" y="276" width="21" height="1.02" fill="#a0109d"/>
<rect x="536" y="277" width="21" height="1.02" fill="#a00fa0"/>
<rect x="536" y="278" width="21" height="1.02" fill="#9f0fa4"/>
<rect x="536" y="279" width="21" height="1.02" fill="#9f0fa7"/>
<rect x="536" y="280" width="21" height="1.02" fill="#9e0eaa"/>
<rect x="536" y="281" width="21" height="1.02" fill="#9d0eae"/>
<rect x="536" y="282" width="21" height="1.02" fill="#9d0eb1"/>
<rect x="536" y="283" width="21" height="1.02" fill="#9c0db4"/>
<rect x="536" y="284" width="21" height="1.02" fill="#9c0db7"/>
<rect x="536" y="285" width="21" height="1.02" fill="#9b0dba"/>
<rect x="536" y="286" width="21" height="1.02" fill="#9a0dbd"/>
<rect x="536" y="287" width="21" height="1.02" fill="#9a0cc0"/>
<rect x="536" y="288" width="21" height="1.02" fill="#990cc3"/>
<rect x="536" y="289" width="21" height="1.02" fill="#990cc6"/>
<rect x="536" y="290" width="21" height="1.02" fill="#980cc9"/>
<rect x="536" y="291" width="21" height="1.02" fill="#980bcb"/>
<rect x="536" y="292" width="21" height="1.02" fill="#970bce"/>
<rect x="536" y="293" width="21" height="1.02" fill="#960bd0"/>
<rect x="536" y="294" width="21" height="1.02" fill="#960ad3"/>
<rect x="536" y="295" width="21" height="1.02" fill="#950ad5"/>
<rect x="536" y="296" width="21" height="1.02" fill="#950ad8"/>
<rect x="536" y="297" width="21" height="1.02" fill="#940ada"/>
<rect x="536" y="298" width="21" height="1.02" fill="#9309dc"/>
<rect x="536" y="299" width="21" height="1.02" fill="#9309df"/>
<rect x="536" y="300" width="21" height="1.02" fill="#9209e1"/>
<rect x="536" y="301" width="21" height="1.02" fill="#9109e3"/>
<rect x="536" y="302" width="21" height="1.02" fill="#9109e5"/>
<rect x="536" y="303" width="21" height="1.02" fill="#9008e7"/>
<rect x="536" y="304" width="21" height="1.02" fill="#9008e9"/>
<rect x="536" y="305" width="21" height="1.02" fill="#8f08ea"/>
<rect x="536" y="306" width="21" height="1.02" fill="#8e08ec"/>
<rect x="536" y="307" width="21" height="1.02" fill="#8e08ee"/>
<rect x="536" y="308" width="21" height="1.02" fill="#8d07ef"/>
<rect x="536" y="309" width="21" height="1.02" fill="#8c07f1"/>
<rect x="536" y="310" width="21" height="1.02" fill="#8c07f2"/>
<rect x="536" y="311" width="21" height="1.02" fill="#8b07f4"/>
<rect x="536" y="312" width="21" height="1.02" fill="#8b07f5"/>
<rect x="536" y="313" width="21" height="1.02" fill="#8a06f6"/>
<rect x="536" y="314" width="21" height="1.02" fill="#8906f7"/>
<rect x="536" y="315" width="21" height="1.02" fill="#8906f8"/>
<rect x="536" y="316" width="21" height="1.02" fill="#8806f9"/>
<rect x="536" y="317" width="21" height="1.02" fill="#8706fa"/>
<rect x="536" y="318" width="21" height="1.02" fill="#8706fb"/>
<rect x="536" y="319" width="21" height="1.02" fill="#8605fc"/>
<rect x="536" y="320" width="21" height="1.02" fill="#8505fc"/>
<rect x="536" y="321" width="21" height="1.02" fill="#8505fd"/>
<rect x="536" y="322" width="21" height="1.02" fill="#8405fd"/>
<rect x="536" y="323" width="21" height="1.02" fill="#8305fe"/>
<rect x="536" y="324" width="21" height="1.02" fill="#8205fe"/>
<rect x="536" y="325" width="21" height="1.02" fill="#8204ff"/>
<rect x="536" y="326" width="21" height="1.02" fill="#8104ff"/>
<rect x="536" y="327" width="21" height="1.02" fill="#8004ff"/>
<rect x="536" y="328" width="21" height="1.02" fill="#8004ff"/>
<rect x="536" y="329" width="21" height="1.02" fill="#7f04ff"/>
<rect x="536" y="330" width="21" height="1.02" fill="#7e04ff"/>
<rect x="536" y="331" width="21" height="1.02" fill="#7e04ff"/>
<rect x="536" y="332" width="21" height="1.02" fill="#7d04fe"/>
<rect x="536" y="333" width="21" height="1.02" fill="#7c03fe"/>
<rect x="536" y="334" width="21" height="1.02" fill="#7b03fe"/>
<rect x="536" y="335" width="21" height="1.02" fill="#7b03fd"/>
<rect x="536" y="336" width="21" height="1.02" fill="#7a03fd"/>
<rect x="536" y="337" width="21" height="1.02" fill="#7903fc"/>
<rect x="536" y="338" width="21" height="1.02" fill="#7803fb"/>
<rect x="536" y="339" width="21" height="1.02" fill="#7803fb"/>
<rect x="536" y="340" width="21" height="1.02" fill="#7703fa"/>
<rect x="536" y="341" width="21" height="1.02" fill="#7603f9"/>
<rect x="536" y="342" width="21" height="1.02" fill="#7502f8"/>
<rect x="536" y="343" width="21" height="1.02" fill="#7502f7"/>
<rect x="536" y="344" width="21" height="1.02" fill="#7402f5"/>
<rect x="536" y="345" width="21" height="1.02" fill="#7302f4"/>
<rect x="536" y="346" width="21" height="1.02" fill="#7202f3"/>
<rect x="536" y="347" width="21" height="1.02" fill="#7102f2"/>
<rect x="536" y="348" width="21" height="1.02" fill="#7102f0"/>
<rect x="536" y="349" width="21" height="1.02" fill="#7002ef"/>
<rect x="536" y="350" width="21" height="1.02" fill="#6f02ed"/>
<rect x="536" y="351" width="21" height="1.02" fill="#6e02eb"/>
<rect x="536" y="352" width="21" height="1.02" fill="#6d02ea"/>
<rect x="536" y="353" width="21" height="1.02" fill="#6d02e8"/>
<rect x="536" y="354" width="21" height="1.02" fill="#6c01e6"/>
<rect x="536" y="355" width="21" height="1.02" fill="#6b01e4"/>
<rect x="536" y="356" width="21" height="1.02" fill="#6a01e2"/>
<rect x="536" y="357" width="21" height="1.02" fill="#6901e0"/>
<rect x="536" y="358" width="21" height="1.02" fill="#6801de"/>
<rect x="536" y="359" width="21" height="1.02" fill="#6801db"/>
<rect x="536" y="360" width="21" height="1.02" fill="#6701d9"/>
<rect x="536" y="361" width="21" height="1.02" fill="#6601d7"/>
<rect x="536" y="362" width="21" height="1.02" fill="#6501d4"/>
<rect x="536" y="363" width="21" height="1.02" fill="#6401d2"/>
<rect x="536" y="364" width="21" height="1.02" fill="#6301cf"/>
<rect x="536" y="365" width="21" height="1.02" fill="#6201cd"/>
<rect x="536" y="366" width="21" height="1.02" fill="#6101ca"/>
<rect x="536" y="367" width="21" height="1.02" fill="#6001c7"/>
<rect x="536" y="368" width="21" height="1.02" fill="#5f01c4"/>
<rect x="536" y="369" width="21" height="1.02" fill="#5e01c2"/>
<rect x="536" y="370" width="21" height="1.02" fill="#5d01bf"/>
<rect x="536" y="371" width="21" height="1.02" fill="#5c01bc"/>
<rect x="536" y="372" width="21" height="1.02" fill="#5c01b9"/>
<rect x="536" y="373" width="21" height="1.02" fill="#5b01b5"/>
<rect x="536" y="374" width="21" height="1.02" fill="#5a00b2"/>
<rect x="536" y="375" width="21" height="1.02" fill="#5900af"/>
<rect x="536" y="376" width="21" height="1.02" fill="#5700ac"/>
<rect x="536" y="377" width="21" height="1.02" fill="#5600a9"/>
<rect x="536" y="378" width="21" height="1.02" fill="#5500a5"/>
<rect x="536" y="379" width="21" height="1.02" fill="#5400a2"/>
<rect x="536" y="380" width="21" height="1.02" fill="#53009e"/>
<rect x="536" y="381" width="21" height="1.02" fill="#52009b"/>
<rect x="536" y="382" width="21" height="1.02" fill="#510097"/>
<rect x="536" y="383" width="21" height="1.02" fill="#500094"/>
<rect x="536" y="384" width="21" height="1.02" fill="#4f0090"/>
<rect x="536" y="385" width="21" height="1.02" fill="#4e008c"/>
<rect x="536" y="386" width="21" height="1.02" fill="#4d0089"/>
<rect x="536" y="387" width="21" height="1.02" fill="#4b0085"/>
<rect x="536" y="388" width="21" height="1.02" fill="#4a0081"/>
<rect x="536" y="389" width="21" height="1.02" fill="#49007d"/>
<rect x="536" y="390" width="21" height="1.02" fill="#480079"/>
<rect x="536" y="391" width="21" height="1.02" fill="#460075"/>
<rect x="536" y="392" width="21" height="1.02" fill="#450071"/>
<rect x="536" y="393" width="21" height="1.02" fill="#44006d"/>
<rect x="536" y="394" width="21" height="1.02" fill="#420069"/>
<rect x="536" y="395" width="21" height="1.02" fill="#410065"/>
<rect x="536" y="396" width="21" height="1.02" fill="#400061"/>
<rect x="536" y="397" width="21" height="1.02" fill="#3e005d"/>
<rect x="536" y="398" width="21" height="1.02" fill="#3d0059"/>
<rect x="536" y="399" width="21" height="1.02" fill="#3b0055"/>
<rect x="536" y="400" width="21" height="1.02" fill="#3a0051"/>
<rect x="536" y="401" width="21" height="1.02" fill="#38004c"/>
<rect x="536" y="402" width="21" height="1.02" fill="#370048"/>
<rect x="536" y="403" width="21" height="1.02" fill="#350044"/>
<rect x="536" y="404" width="21" height="1.02" fill="#330040"/>
<rect x="536" y="405" width="21" height="1.02" fill="#31003b"/>
<rect x="536" y="406" width="21" height="1.02" fill="#2f0037"/>
<rect x="536" y="407" width="21" height="1.02" fill="#2e0033"/>
<rect x="536" y="408" width="21" height="1.02" fill="#2b002e"/>
<rect x="536" y="409" width="21" height="1.02" fill="#29002a"/>
<rect x="536" y="410" width="21" height="1.02" fill="#270026"/>
<rect x="536" y="411" width="21" height="1.02" fill="#250021"/>
<rect x="536" y="412" width="21" height="1.02" fill="#22001d"/>
<rect x="536" y="413" width="21" height="1.02" fill="#1f0018"/>
<rect x="536" y="414" width="21" height="1.02" fill="#1c0014"/>
<rect x="536" y="415" width="21" height="1.02" fill="#190010"/>
<rect x="536" y="416" width="21" height="1.02" fill="#15000b"/>
<rect x="536" y="417" width="21" height="1.02" fill="#100007"/>
<rect x="536" y="418" width="21" height="1.02" fill="#090002"/></g>
</svg>
<svg width="640" height="480" viewBox="0 0 640 480">
<g fill="none" stroke="#40e0d0" stroke-width="1" shape-rendering="crispEdges"><polyline points="92.1,96.0 95.9,93.3 103.6,91.1 109.6,92.1 118.3,93.5 123.3,94.6 129.5,95.8 133.2,94.6 138.2,93.8"/>
<polyline points="210.5,141.2 213.6,138.3 218.6,137.1 217.3,139.0 218.2,141.0 219.5,142.7 222.3,143.7 224.2,143.3 222.6,144.9 219.8,145.9 217.0,147.8 217.0,145.9 218.6,144.5 215.7,144.9 214.8,146.2 211.5,148.0 210.7,150.1 211.7,151.7 209.9,152.5 206.8,154.2 206.5,156.4 205.0,157.9 204.0,161.2 204.6,164.7 203.3,166.3 200.8,168.1 198.7,171.4 197.5,175.1 198.7,179.7 199.3,183.1 198.7,185.8 197.7,184.6 196.2,181.7 195.8,178.0 194.3,175.9 192.4,176.6 189.9,175.1 187.4,175.3 187.8,177.8 186.2,177.8 183.7,176.8 181.2,177.0 178.7,179.7 177.6,183.1 177.3,188.3 177.3,192.8 178.3,196.1 180.0,199.0 181.2,200.2 184.3,199.4 185.6,198.8 186.2,195.5 186.6,194.2 190.6,193.4 189.9,197.3 189.1,199.6 188.9,204.1 191.2,205.1 193.7,205.1 195.3,206.8 194.9,211.9 194.7,215.0 196.8,218.5 199.9,217.9 202.6,219.9 203.6,219.1 204.9,216.0 208.0,214.4 209.9,212.1 210.2,215.4 209.9,218.1 209.2,215.4 211.7,212.5 214.0,215.4 216.7,215.8 219.2,215.6 221.1,215.8 222.3,217.5 223.6,220.3 226.1,223.2 227.9,225.3 231.1,225.5 234.2,227.9 235.4,229.8 236.7,233.9 236.4,237.2 238.5,238.6 243.5,242.3 247.2,243.6 251.0,245.4 255.1,248.5 255.6,253.6 255.2,256.5 252.6,260.6 250.6,264.7 251.9,270.0 249.1,283.1 239.7,289.7 236.0,303.8 227.5,315.0 220.0,324.4 214.4,335.7 212.5,346.9 217.2,351.6 212.5,350.7 207.8,344.1 208.8,313.2 209.7,298.1 211.6,277.5 206.9,270.0 204.3,267.0 202.3,261.2 199.9,253.0 197.8,249.5 198.9,244.6 198.2,240.9 199.3,237.0 200.8,233.9 202.4,229.8 202.6,224.2 201.5,222.2 199.9,219.5 198.7,222.4 196.8,220.8 194.8,218.7 192.4,217.1 192.1,214.6 189.9,211.1 187.4,209.9 184.9,208.8 182.8,205.1 180.8,204.3 178.7,205.3 175.9,203.9 172.5,201.2 168.8,198.1 167.4,195.5 167.8,192.8 166.3,189.9 164.2,185.8 162.5,183.1 160.7,180.3 159.0,177.4 158.2,173.9 155.9,172.2 156.7,175.9 158.2,179.0 159.4,182.9 161.3,187.2 161.9,190.3 161.4,188.9 159.3,186.6 159.0,183.6 156.9,180.7 156.6,177.4 154.9,174.9 153.4,171.8 152.8,169.4 151.3,167.7 148.7,166.5 147.1,162.6 146.3,159.9 144.7,156.2 144.1,153.3 143.8,149.2 144.5,143.1 143.6,138.1 145.5,138.6 146.0,136.9 145.1,135.9 143.2,134.4 140.1,132.8 139.6,130.1 137.0,125.8 135.1,123.5 132.6,119.4 130.1,117.2 127.7,116.3 124.8,114.7 120.2,114.3 116.7,112.7 113.9,113.9 111.8,112.0 109.8,115.3 107.7,117.2 106.7,119.4 104.1,120.9 101.4,122.7 97.8,124.2 94.3,125.4 96.5,122.9 99.9,120.9 102.1,119.4 103.3,116.8 100.9,117.2 97.8,117.0 96.8,114.5 94.0,113.3 93.0,111.2 93.4,109.0 94.9,107.7 98.5,106.5 97.9,105.0 95.3,104.8 91.9,104.8 89.5,102.8 94.0,101.2 97.1,101.6 97.4,100.1 94.9,99.3 92.8,97.7 92.1,96.0"/>
<polyline points="208.0,76.5 213.0,80.4 216.7,81.4 222.6,81.2 226.1,82.5 228.9,84.5 229.7,88.6 231.7,90.9 234.2,93.8 235.4,95.8 232.2,97.0 232.7,100.3 234.2,104.4 236.0,108.5 238.5,112.2 241.0,113.3 243.9,114.3 246.0,113.5 246.9,109.6 248.9,105.0 252.2,102.8 257.2,98.9 259.7,97.7 264.9,97.0 269.0,93.8 271.2,92.9 271.5,89.2 273.4,84.5 275.0,80.4 276.3,75.2 278.4,72.2 281.5,70.1 274.0,68.7 267.8,66.4 257.2,65.8 249.1,66.4 240.4,68.5 232.9,68.7 227.9,68.7 221.7,69.5 216.7,71.6 213.9,73.4 208.0,76.5"/>
<polyline points="291.7,163.4 289.4,155.8 292.2,149.4 297.8,144.7 294.5,138.1 295.2,137.3 296.9,137.7 297.3,135.7 299.2,136.1 300.8,134.4 302.1,132.6 303.3,132.0 304.6,129.7 305.2,128.1 307.7,127.7 309.5,127.5 309.7,124.6 309.0,121.5 309.7,120.3 312.0,119.0 311.8,121.9 312.1,123.5 311.0,125.0 312.6,126.6 315.8,126.2 317.0,126.8 322.0,125.2 325.1,124.6 325.2,121.5 325.7,119.8 328.8,120.5 329.2,117.8 328.2,115.9 333.8,115.3 336.3,114.5 333.8,113.3 330.1,113.9 327.0,114.3 325.7,112.2 325.5,108.1 328.8,104.4 330.7,103.6 327.0,102.4 325.7,103.4 323.9,106.9 320.8,109.2 320.4,112.2 322.0,114.3 322.0,115.7 319.5,119.4 318.9,122.1 316.6,123.8 314.9,123.3 314.5,121.5 313.6,118.4 312.9,116.2 312.0,115.3 310.2,117.4 307.7,118.4 305.8,116.6 305.2,113.3 305.2,110.2 307.0,108.5 308.9,107.1 312.0,105.0 314.5,102.0 316.4,98.9 318.2,96.8 321.4,94.2 325.1,93.3 328.8,91.7 331.3,91.7 333.8,91.7 337.6,93.1 340.1,95.0 343.8,95.8 350.0,98.9 349.0,101.6 346.3,102.0 342.6,100.9 341.9,105.0 345.0,106.3 348.8,105.0 353.1,101.6 353.8,97.2 356.2,97.9 358.7,98.5 365.0,96.8 367.5,97.2 371.2,96.2 374.3,94.2 378.7,95.2 382.4,96.2 384.3,97.5 382.4,94.8 383.7,91.7 386.1,86.6 388.6,88.0 389.3,91.7 388.6,97.9 391.1,98.9 392.4,95.8 390.5,90.7 394.9,89.2 398.6,88.6 399.2,86.6 407.3,85.5 413.6,82.5 421.0,81.4 428.5,77.9 432.2,79.8 438.5,81.4 439.7,86.6 444.7,86.6 448.4,87.6 453.4,86.6 458.4,90.7 462.1,92.1 468.4,90.7 473.4,88.8 477.1,88.4 485.8,90.7 488.3,92.1 494.5,91.7 498.3,93.8 500.8,94.4 507.0,94.8 510.7,93.5 517.0,94.2 520.7,95.0 523.2,96.0"/>
<polyline points="74.7,96.0 78.4,97.2 82.2,99.7 85.9,100.1 87.5,102.0 85.9,103.0 84.0,105.3 79.7,104.0 76.6,103.2 74.7,103.8"/>
<polyline points="523.2,103.8 520.7,105.0 519.5,109.2 513.2,112.2 510.7,114.3 505.8,114.3 502.0,114.7 502.0,118.4 500.8,120.5 502.6,122.5 500.8,125.6 498.3,128.7 496.4,130.7 494.2,132.8 493.3,128.7 493.0,122.5 493.9,118.8 495.8,118.4 498.3,114.3 502.0,110.2 498.3,111.2 494.5,111.0 490.8,115.9 487.1,115.9 483.3,115.7 477.1,115.7 474.6,117.4 471.5,120.9 469.6,126.6 474.0,128.1 475.1,130.7 474.0,137.9 470.9,142.0 467.8,147.6 464.6,149.7 462.1,150.3 460.9,150.7 460.3,153.8 458.4,156.4 460.0,161.2 460.3,164.7 457.2,166.7 456.3,166.5 456.5,161.6 454.7,159.9 454.9,156.4 453.4,155.8 450.9,154.4 449.7,153.8 447.2,157.0 445.9,157.4 445.3,158.5 446.9,160.7 447.8,161.2 451.6,160.9 449.1,163.6 447.4,166.1 449.4,170.8 450.3,172.9 450.9,175.9 450.3,179.0 448.4,183.1 447.8,185.2 445.3,188.9 441.6,191.6 440.3,192.0 437.2,193.4 436.4,195.7 435.6,193.4 433.5,193.4 431.6,195.5 430.8,198.6 431.6,201.6 433.5,204.7 435.0,209.9 435.0,214.0 432.2,216.0 431.6,218.1 429.8,219.9 429.5,216.6 427.9,215.8 426.6,212.3 424.8,211.5 424.1,209.9 422.5,216.6 423.8,220.1 424.1,223.2 425.4,223.6 427.9,228.3 427.9,232.1 428.8,234.7 427.9,234.9 425.1,231.8 423.9,227.7 423.9,224.2 421.7,220.5 421.7,217.1 421.9,212.9 421.0,207.8 420.7,203.7 419.2,203.1 416.7,204.7 416.3,199.6 415.4,197.3 413.9,194.4 413.3,191.6 411.7,192.0 409.8,192.8 407.3,193.4 406.7,196.5 404.8,197.9 401.5,203.5 399.0,205.8 398.9,210.9 398.4,215.0 397.6,216.4 396.1,219.5 395.5,220.9 394.2,219.3 393.1,214.0 392.0,210.9 390.8,205.1 389.6,198.6 389.6,194.4 389.3,192.8 386.8,194.9 384.9,191.8 386.1,190.5 384.3,189.3 382.4,186.6 381.8,185.4 378.7,185.6 375.6,185.8 372.2,185.0 370.3,184.4 369.3,181.9 366.8,182.9 363.7,180.5 362.2,178.2 361.2,175.5 359.4,175.9 358.7,177.0 360.6,182.1 361.5,184.2 362.7,184.0 363.1,187.7 366.2,187.9 368.7,183.8 369.2,183.3 369.1,186.8 370.6,188.7 373.4,191.4 371.8,195.5 370.9,198.6 369.3,200.6 367.5,202.7 364.4,204.7 360.6,207.8 355.0,211.3 353.1,211.5 352.5,207.8 352.1,203.7 350.0,197.5 347.5,192.8 346.9,188.7 344.4,184.2 342.6,180.1 342.4,177.0"/>
<polyline points="341.7,173.3 342.6,170.2 343.2,166.7 343.8,164.0 344.0,162.4 341.9,162.0 339.4,163.4 336.9,162.6 335.1,162.2 332.9,161.6 332.0,158.5 332.0,155.4 331.6,154.6 332.6,154.4 335.1,153.3"/>
<polyline points="331.6,154.6 331.3,153.8 328.8,154.0 327.6,154.8 327.0,155.4 327.6,158.5 328.8,159.1 327.0,162.6 326.0,162.0 325.2,159.9 325.5,158.7 324.1,156.4 323.0,153.3 323.2,151.3 322.0,150.3 318.9,148.2 317.6,146.2 316.0,143.9 314.3,144.5 314.5,147.2 316.0,148.2 318.9,152.3 322.0,155.0 320.1,157.4 319.5,159.5 318.5,159.5 318.5,155.4 317.0,154.0 314.5,152.1 312.6,150.3 311.8,148.2 310.0,146.4 308.3,147.6 306.4,149.2 302.6,153.1 299.7,159.7 295.0,162.6 291.7,163.4"/>
<polyline points="357.5,146.2 360.0,142.0 363.1,141.0 365.0,141.6 365.0,144.5 362.9,146.2 362.5,149.2 364.6,151.3 365.0,154.4 366.0,156.4 365.6,160.5 362.5,162.2 360.0,160.5 359.7,157.9 360.6,154.8 359.4,151.7 358.1,149.2 357.5,146.2"/>
<polyline points="371.8,143.1 374.9,142.0 375.6,145.1 374.3,147.8 372.4,147.6 371.8,143.1"/>
<polyline points="292.0,163.6 291.5,164.0 290.2,168.1 287.1,170.8 286.7,177.0 282.8,180.7 280.9,184.2 279.0,188.3 277.8,194.4 278.4,197.5 278.8,202.7 278.0,207.4 278.3,209.9 279.6,214.0 280.9,216.0 282.5,218.5 284.0,222.2 285.9,224.7 289.6,228.6 292.7,227.1 296.4,227.7 300.2,225.5 302.3,224.7 304.6,224.7 306.4,228.8 308.3,228.3 309.8,228.2 310.8,230.4 311.1,233.5 310.5,237.6 310.2,240.1 312.9,245.4 314.3,249.1 315.4,255.7 314.5,264.3 313.6,271.5 313.6,274.6 315.8,280.8 317.0,284.2 317.9,293.1 320.1,298.2 322.0,304.4 321.7,307.9 323.9,308.9 327.0,307.5 330.7,307.5 333.2,305.4 335.7,301.9 337.8,298.4 339.4,296.2 339.8,291.0 339.6,290.0 342.6,286.9 343.2,283.8 342.9,280.8 342.2,278.3 344.4,275.6 347.9,271.1 349.4,267.8 349.8,261.9 348.4,256.1 347.9,252.0 348.1,247.3 349.0,243.8 351.0,240.3 353.8,234.5 356.9,230.4 360.2,223.2 362.2,217.1 362.7,213.3 361.0,214.6 358.1,214.8 355.0,216.0 352.8,214.0 352.1,211.9 350.6,207.8 348.1,205.5 346.9,200.2 345.3,194.4 344.8,192.4 343.4,188.9 342.6,182.1 341.3,179.0 339.9,176.4 339.4,176.2 339.1,173.3 340.7,180.1 341.7,173.3 340.1,173.7 337.6,172.9 335.1,174.3 330.1,172.5 327.6,170.2 323.9,171.8 323.9,174.9 322.0,175.3 318.2,172.9 315.8,170.2 312.6,169.2 311.6,167.1 312.6,165.1 311.6,162.0 309.7,161.8 306.4,161.6 302.7,162.0 300.2,162.6 297.1,165.3 292.0,163.6"/>
<polyline points="360.4,262.3 361.7,269.4 361.0,273.6 359.7,279.7 358.0,288.6 355.2,290.0 353.5,285.9 352.9,281.8 354.3,277.7 353.8,272.5 355.2,270.5 357.5,268.8 358.7,265.3 360.4,262.3"/>
<polyline points="292.7,134.8 295.2,133.6 300.6,132.4 301.1,129.5 299.3,127.9 298.7,126.2 297.1,123.5 296.4,122.5 295.2,122.1 296.7,119.4 294.0,119.0 295.2,117.2 292.7,117.2 291.2,119.4 292.0,121.5 291.2,123.1 293.0,124.6 295.2,125.0 294.8,127.0 295.2,128.1 293.2,128.3 293.7,130.1 292.5,131.2 294.6,132.2 292.7,134.8"/>
<polyline points="291.5,130.3 291.5,127.7 292.0,125.6 291.1,124.2 289.6,124.0 288.4,126.0 286.5,126.6 286.7,128.7 286.1,130.7 288.4,131.6 290.9,130.7 291.5,130.3"/>
<polyline points="270.9,106.1 269.0,103.0 270.9,101.2 276.5,101.6 280.9,101.3 282.1,103.6 280.3,105.5 276.5,107.3 270.9,106.1"/>
<polyline points="312.6,76.3 315.1,73.6 320.1,73.2 326.4,73.6 332.6,73.2 330.1,76.3 325.1,78.3 320.1,80.4 317.0,79.0 312.6,76.3"/>
<polyline points="364.4,90.9 368.7,86.6 371.2,83.5 374.9,81.0 381.2,79.8 384.9,79.4 382.4,82.0 374.9,84.5 369.9,87.6 368.7,91.1 369.9,92.5 365.0,92.1 364.4,90.9"/>
<polyline points="417.3,74.0 422.3,71.6 428.5,73.6 424.8,76.5 419.8,76.1 417.3,74.0"/>
<polyline points="469.0,82.5 473.4,83.5 477.1,82.0 482.1,82.9 479.6,85.5 474.6,85.9 470.2,85.1 469.0,82.5"/>
<polyline points="460.9,173.3 462.1,173.3 463.4,169.2 462.1,167.7 464.0,164.8 467.5,164.2 469.4,161.2 471.5,160.1 473.4,155.8 473.4,152.9 475.2,152.3 476.0,156.2 474.6,158.9 474.4,162.0 474.2,165.3 472.7,165.1 471.5,166.5 469.4,166.5 467.4,168.1 467.1,166.5 464.6,167.1 462.4,167.9 460.9,168.8 460.5,170.8 460.9,173.3"/>
<polyline points="473.4,152.3 473.4,149.2 475.2,148.6 475.6,144.5 477.7,146.8 480.2,148.6 478.3,149.4 475.2,150.3 473.4,152.3"/>
<polyline points="475.9,143.1 477.7,141.4 477.1,135.9 479.0,136.9 477.5,131.4 477.1,128.3 476.5,126.0 475.5,127.9 475.9,131.8 475.6,137.9 475.9,143.1"/>
<polyline points="448.6,190.3 449.7,185.6 450.9,186.2 449.4,192.4 448.6,190.3"/>
<polyline points="434.2,198.1 436.4,196.3 437.2,197.5 435.5,200.2 434.2,198.1"/>
<polyline points="398.4,221.2 398.6,217.5 400.2,220.1 400.9,223.2 399.4,225.5 398.4,221.2"/>
<polyline points="449.2,199.6 451.2,199.6 450.9,204.1 450.4,205.8 451.2,208.4 453.4,210.9 450.7,212.3 449.2,208.0 448.4,204.1 449.2,199.6"/>
<polyline points="417.7,226.1 420.4,226.9 423.9,232.9 426.0,234.9 428.5,239.7 431.0,243.8 430.8,249.5 429.1,249.7 426.4,245.8 424.5,241.7 422.5,237.2 421.0,232.7 417.7,226.1"/>
<polyline points="430.1,251.6 431.6,249.9 434.1,250.8 437.2,251.0 439.1,251.8 441.6,253.6 441.5,255.5 437.2,254.4 433.5,253.6 430.1,251.6"/>
<polyline points="440.3,282.8 441.2,282.8 444.1,280.1 447.2,278.7 449.7,277.7 451.3,273.6 452.8,272.5 454.7,268.6 457.2,266.4 458.4,268.8 460.4,268.4 460.9,264.3 462.8,262.7 464.1,261.2 465.9,262.3 468.4,262.3 469.4,262.7 467.8,268.4 469.6,270.9 472.7,273.6 474.4,273.4 475.2,268.4 475.4,263.3 476.5,259.6 477.7,263.9 478.0,267.4 480.1,268.4 481.1,276.0 484.3,279.5 486.4,283.8 489.6,290.0 490.2,296.2 489.6,301.3 488.8,304.4 487.1,307.5 485.8,314.7 483.1,315.5 481.2,317.8 479.3,316.1 477.1,317.3 474.1,315.7 472.7,313.6 473.1,311.0 470.9,310.8 471.4,308.3 470.6,304.6 470.1,308.5 468.1,309.1 468.0,306.4 466.1,305.0 462.4,302.3 458.4,303.8 453.4,305.4 452.8,307.3 448.4,307.5 445.9,309.5 442.8,308.1 442.2,306.4 443.1,302.3 442.1,298.2 440.3,292.1 440.7,287.9 440.3,282.8"/>
<polyline points="479.2,321.2 483.6,321.6 483.3,326.4 481.8,327.2 479.8,324.3 479.2,321.2"/>
<polyline points="193.2,192.6 195.5,190.5 197.4,189.9 199.9,190.9 202.4,192.8 204.5,194.2 206.5,196.1 204.6,196.7 202.2,196.9 202.9,195.3 201.2,193.2 198.3,192.8 196.8,191.6 194.3,192.6 193.2,192.6"/>
<polyline points="206.3,196.9 208.2,196.7 211.7,197.1 213.7,199.4 211.7,200.2 210.0,201.2 208.2,200.2 206.3,199.8 208.0,199.4 206.3,196.9"/>
<polyline points="76.5,399.2 101.5,398.8 97.0,398.0 99.0,402.0"/>
<polyline points="76.5,412.5 105.0,413.2 114.0,414.5 111.5,408.8 109.0,402.5 110.2,397.5 114.0,395.8 124.0,393.8 134.0,392.0 144.0,390.5 156.5,391.2 161.5,392.5 167.8,391.8 172.8,390.5 175.2,388.8 179.0,389.5 186.5,389.2 196.5,388.8 204.0,387.5 209.0,385.0 212.8,381.2 216.5,376.2 221.5,370.5 225.2,370.0 224.0,375.0 221.5,380.0 222.8,385.0 223.5,392.5 214.0,395.0 201.5,397.0 196.5,397.5 204.0,402.5 214.0,405.0 224.0,406.2 234.0,405.0 242.5,406.2 257.5,404.5 260.0,402.5 257.5,398.8 265.0,393.8 272.5,390.0 280.0,387.5 290.0,384.5 297.5,381.2 302.5,382.0 305.0,383.8 315.0,383.2 325.0,383.0 332.5,383.8 340.0,380.8 345.0,382.0 347.5,382.5 352.5,378.8 360.0,376.2 366.2,374.5 372.5,376.2 380.0,378.0 386.2,379.5 389.4,382.3 395.9,380.2 402.5,376.9 405.8,375.3 421.1,374.7 439.7,375.1 446.3,376.4 455.0,374.7 468.1,374.7 474.7,375.8 481.3,378.0 490.0,380.2 498.8,381.3 505.3,384.5 510.8,386.7 507.5,390.0 504.2,395.5 502.0,399.8 504.2,403.1 507.5,407.5 516.3,409.7 523.0,410.5"/>
<polyline points="502.0,399.8 507.5,397.7 516.3,398.1 523.0,399.8"/>
<polyline points="260.0,396.0 272.5,391.2 290.0,385.0 300.0,383.0 305.0,385.0"/>
<polyline points="223.5,392.5 230.0,397.5 240.0,398.0 245.0,401.2 235.0,403.0 230.0,402.0 214.0,404.0"/>
<polyline points="206.1,385.2 211.7,379.5 217.4,377.6 215.5,383.3 209.8,387.1 206.1,385.2"/>
<polyline points="148.4,81.7 152.2,80.3 155.5,79.3"/>
<polyline points="159.2,78.9 163.4,77.5"/>
<polyline points="155.5,82.2 158.7,83.6 162.5,82.2 164.4,80.7 167.6,83.6 163.4,84.5 160.1,85.0 156.9,84.0 155.5,82.2"/>
<polyline points="146.6,86.4 148.9,85.4 151.2,87.3 152.2,90.1 147.0,92.0 146.6,89.2 146.6,86.4"/>
<polyline points="152.2,90.1 155.9,90.1 164.4,89.6 165.8,87.3 167.2,89.2 169.1,92.0 173.3,95.3 170.9,96.7 166.2,97.6 161.6,96.7 157.8,94.8 155.0,92.0 152.2,90.1"/>
<polyline points="140.0,94.3 144.7,95.3 151.2,96.2 155.9,97.1 161.6,99.0 165.3,101.4 168.1,99.5 171.9,98.1 174.7,97.6 177.5,98.1 180.3,100.4 182.2,99.0 183.1,95.7"/>
<polyline points="145.2,101.4 149.4,101.4 153.1,101.8 149.4,103.2 146.1,104.2 145.2,101.4"/>
<polyline points="169.5,75.6 171.9,77.0 175.6,79.3 177.0,81.7 175.6,83.1 174.2,81.7"/>
<polyline points="171.9,89.2 175.1,86.8 177.0,90.1 174.7,90.1 171.9,89.2"/>
<polyline points="178.4,77.5 179.4,78.9 181.2,80.7 183.1,82.2 186.9,82.2 192.5,82.2 196.2,81.7 200.0,81.2"/>
<polyline points="181.2,87.3 183.6,85.9 184.5,88.2 181.2,88.2"/>
<polyline points="179.4,92.9 184.1,94.3 186.9,97.6 190.6,98.6 196.2,99.5 200.0,99.5"/>
<polyline points="188.7,91.5 191.5,87.3 194.4,85.4 196.2,86.4"/>
<polyline points="187.8,71.4 192.5,70.4 196.2,69.0 200.0,68.6"/>
<polyline points="190.6,74.2 196.2,73.2 200.0,72.8"/>
<polyline points="192.5,77.0 196.2,76.1 200.0,75.1"/>
<polyline points="188.7,80.7 200.0,79.8"/>
<polyline points="180.3,106.0 186.9,104.2 190.6,102.3 195.3,101.4 200.0,100.4"/>
<polyline points="193.4,104.2 196.2,103.2 198.1,106.0"/>
<polyline points="196.0,69.7 199.7,68.8 204.4,67.4 214.7,67.4 218.5,68.3 220.4,70.2 222.2,70.7"/>
<polyline points="196.0,72.1 199.7,72.5 204.4,72.5"/>
<polyline points="196.0,74.4 199.7,73.9"/>
<polyline points="199.7,79.1 201.6,78.2 205.4,76.7 208.2,75.3 211.5,74.4 213.8,71.6 219.4,70.2 220.4,72.1 218.5,74.9 214.7,76.7 211.9,77.7 211.5,80.5 214.7,81.9"/>
<polyline points="211.9,78.6 214.7,78.2 216.6,78.2"/>
<polyline points="196.0,82.4 198.8,82.8 200.7,84.2 196.0,84.7"/>
<polyline points="196.0,88.0 200.7,88.9 205.4,89.4 208.2,91.3 211.0,93.1 213.8,94.1 216.6,96.4 219.4,99.2 221.3,102.0"/>
<polyline points="196.0,95.5 199.7,94.6 202.6,94.6 203.5,96.4 206.3,97.8 210.1,99.2 211.9,101.1"/>
<polyline points="196.0,97.4 197.4,99.2 196.0,99.7"/>
<polyline points="149.4,106.6 152.2,107.5 155.5,109.8 159.7,109.4 163.4,109.4 160.1,111.7 151.2,112.2 155.5,111.2"/>
<polyline points="159.2,118.3 162.5,116.9 166.2,116.4 170.9,117.8 172.8,119.7 173.3,123.0 177.5,120.2"/>
<polyline points="195.3,100.5 190.6,102.8 186.9,105.6 185.9,108.4 183.1,112.2 180.3,117.3 183.1,119.7 185.9,122.0 190.6,123.0 194.4,126.2 197.2,130.0 200.0,131.9 201.2,131.9 202.1,126.2 202.6,118.7 202.6,111.2 205.4,111.2 210.5,112.2 211.9,114.5 215.2,117.8 218.5,116.4 220.8,118.3 223.2,121.6 226.0,125.3 227.4,128.1 229.3,130.0 226.9,132.8 223.2,134.7 219.4,136.1 215.7,137.5 212.9,140.3 209.1,143.1 207.2,145.0"/>
<polyline points="180.3,106.6 184.1,107.0 186.9,106.1"/>
<polyline points="194.4,103.7 198.1,107.5 195.3,109.4 193.9,107.5 194.4,103.7"/>
<polyline points="175.6,130.9 178.4,127.6 178.9,135.1 177.0,132.8"/>
<polyline points="180.3,138.4 184.5,134.7"/>
<polyline points="185.0,139.4 188.7,137.5 192.5,139.4 196.2,143.1"/>
<polyline points="186.0,141.2 190.6,143.1"/>
<polyline points="162.5,100.0 165.3,101.4 167.2,100.5"/>
<polyline points="211.0,100.0 211.9,101.4 208.2,103.7 203.5,106.6 209.1,107.0 212.9,109.8 216.6,108.9 219.4,107.5 217.6,105.6 216.2,103.7 219.4,102.8 221.3,103.7 220.8,100.0"/>
<polyline points="196.0,105.6 197.9,107.0 196.0,109.4"/>
<polyline points="198.8,122.5 201.6,123.0"/>
<polyline points="229.3,130.0 230.7,132.8 231.6,137.5 233.5,143.1 229.7,141.2 226.9,140.3 226.9,134.7 229.3,132.3"/>
<polyline points="214.7,137.5 218.5,138.4 221.3,141.2 223.2,143.1"/>
<polyline points="210.1,141.2 214.7,143.1 219.4,144.0"/>
<polyline points="184.5,139.5 186.9,138.6 189.2,137.2 192.5,140.0 195.3,142.3 197.2,145.6 199.0,148.6 197.7,150.3 201.9,148.4 207.5,145.2 210.5,141.2"/>
<polyline points="185.5,142.3 188.7,142.8 192.5,144.7 194.4,146.1"/>
<polyline points="192.5,144.7 191.1,148.4 190.1,149.8"/>
<polyline points="213.1,137.5 217.8,139.1 223.4,143.3 217.8,146.1 214.7,144.2 213.1,137.5"/>
<polyline points="391.3,147.5 395.0,145.0 398.8,143.1"/>
<polyline points="394.2,152.3 394.8,152.6"/>
<polyline points="336.9,145.0 338.8,146.3 343.8,144.4 349.4,142.3 349.4,147.5 347.5,155.0 342.5,154.4 335.0,155.0 335.6,150.0 336.9,145.0"/>
<polyline points="101.0,193.5 101.6,193.7"/>
<polyline points="103.5,194.5 104.2,195.3 104.8,195.8"/>
<polyline points="105.3,197.2 105.8,197.6"/>
<polyline points="520.5,272.5 521.2,273.2"/>
<polyline points="354.0,74.5 358.0,73.5 362.8,74.0"/>
<polyline points="376.5,72.8 379.5,72.5"/>
<polyline points="445.0,224.2 446.7,230.4 441.7,245.4 435.4,240.0 440.0,231.7 445.0,224.2"/>
<polyline points="455.8,218.3 455.8,225.4 451.7,224.2 455.8,218.3"/>
<polyline points="462.5,241.4 464.4,243.3 475.6,243.3 478.4,246.6 485.9,259.2 482.2,257.3 475.6,254.5 471.9,252.6 468.1,248.9 464.4,245.2 462.5,241.4"/>
<polyline points="514.8,307.9 516.9,313.1 519.0,319.4 516.9,317.3 514.8,307.9"/>
<polyline points="514.8,321.5 512.7,325.6 509.6,329.8 508.5,332.9 511.7,329.8 514.8,326.7 514.8,321.5"/>
<polyline points="503.0,279.5 503.6,280.3"/>
<polyline points="77.1,132.3 79.9,132.3"/>
<polyline points="82.0,131.4 82.6,131.4"/>
<polyline points="87.0,130.6 87.7,130.4"/>
<polyline points="90.0,128.7 91.9,127.1"/>
<polyline points="97.0,125.8 97.8,125.2"/></g>
<rect x="74.5" y="57.5" width="450" height="362" fill="none" stroke="#000" stroke-width="1"/>
<rect x="535.5" y="57.5" width="22" height="362" fill="none" stroke="#000" stroke-width="1"/>
<g stroke="#000" stroke-width="1"><path d="M535 369.5h4.5M557 369.5h-4.5"/><path d="M535 314.5h4.5M557 314.5h-4.5"/><path d="M535 258.5h4.5M557 258.5h-4.5"/><path d="M535 203.5h4.5M557 203.5h-4.5"/><path d="M535 147.5h4.5M557 147.5h-4.5"/><path d="M535 91.5h4.5M557 91.5h-4.5"/></g>
</svg>
<div class="t" style="left:0;width:596px;text-align:center;top:20px;">UQRG-GIM Global VTEC maps 20250702.183.00000</div>
<div class="t" style="right:578px;top:395.5px;">-80</div>
<div class="t" style="right:578px;top:354.3px;">-60</div>
<div class="t" style="right:578px;top:313.1px;">-40</div>
<div class="t" style="right:578px;top:271.9px;">-20</div>
<div class="t" style="right:578px;top:230.7px;">0</div>
<div class="t" style="right:578px;top:189.4px;">20</div>
<div class="t" style="right:578px;top:148.2px;">40</div>
<div class="t" style="right:578px;top:107.0px;">60</div>
<div class="t" style="right:578px;top:65.8px;">80</div>
<div class="t" style="left:62.1px;width:100px;text-align:center;top:430px;">-150</div>
<div class="t" style="left:124.4px;width:100px;text-align:center;top:430px;">-100</div>
<div class="t" style="left:186.7px;width:100px;text-align:center;top:430px;">-50</div>
<div class="t" style="left:248.9px;width:100px;text-align:center;top:430px;">0</div>
<div class="t" style="left:311.2px;width:100px;text-align:center;top:430px;">50</div>
<div class="t" style="left:373.5px;width:100px;text-align:center;top:430px;">100</div>
<div class="t" style="left:435.8px;width:100px;text-align:center;top:430px;">150</div>
<div class="t" style="left:571px;top:361.7px;">10</div>
<div class="t" style="left:571px;top:306.1px;">20</div>
<div class="t" style="left:571px;top:250.4px;">30</div>
<div class="t" style="left:571px;top:194.8px;">40</div>
<div class="t" style="left:571px;top:139.2px;">50</div>
<div class="t" style="left:571px;top:83.5px;">60</div>
<div class="t" style="left:0;width:596px;text-align:center;top:458px;">Longitude / deg</div>
<div class="t" style="left:15px;top:238.8px;letter-spacing:0.2px;transform:translate(-50%,-50%) rotate(-90deg);">Latitude / deg</div>
<div class="t" style="left:601px;top:239.2px;letter-spacing:0.1px;transform:translate(-50%,-50%) rotate(-90deg);">VTEC / TECU</div>
</body></html>
